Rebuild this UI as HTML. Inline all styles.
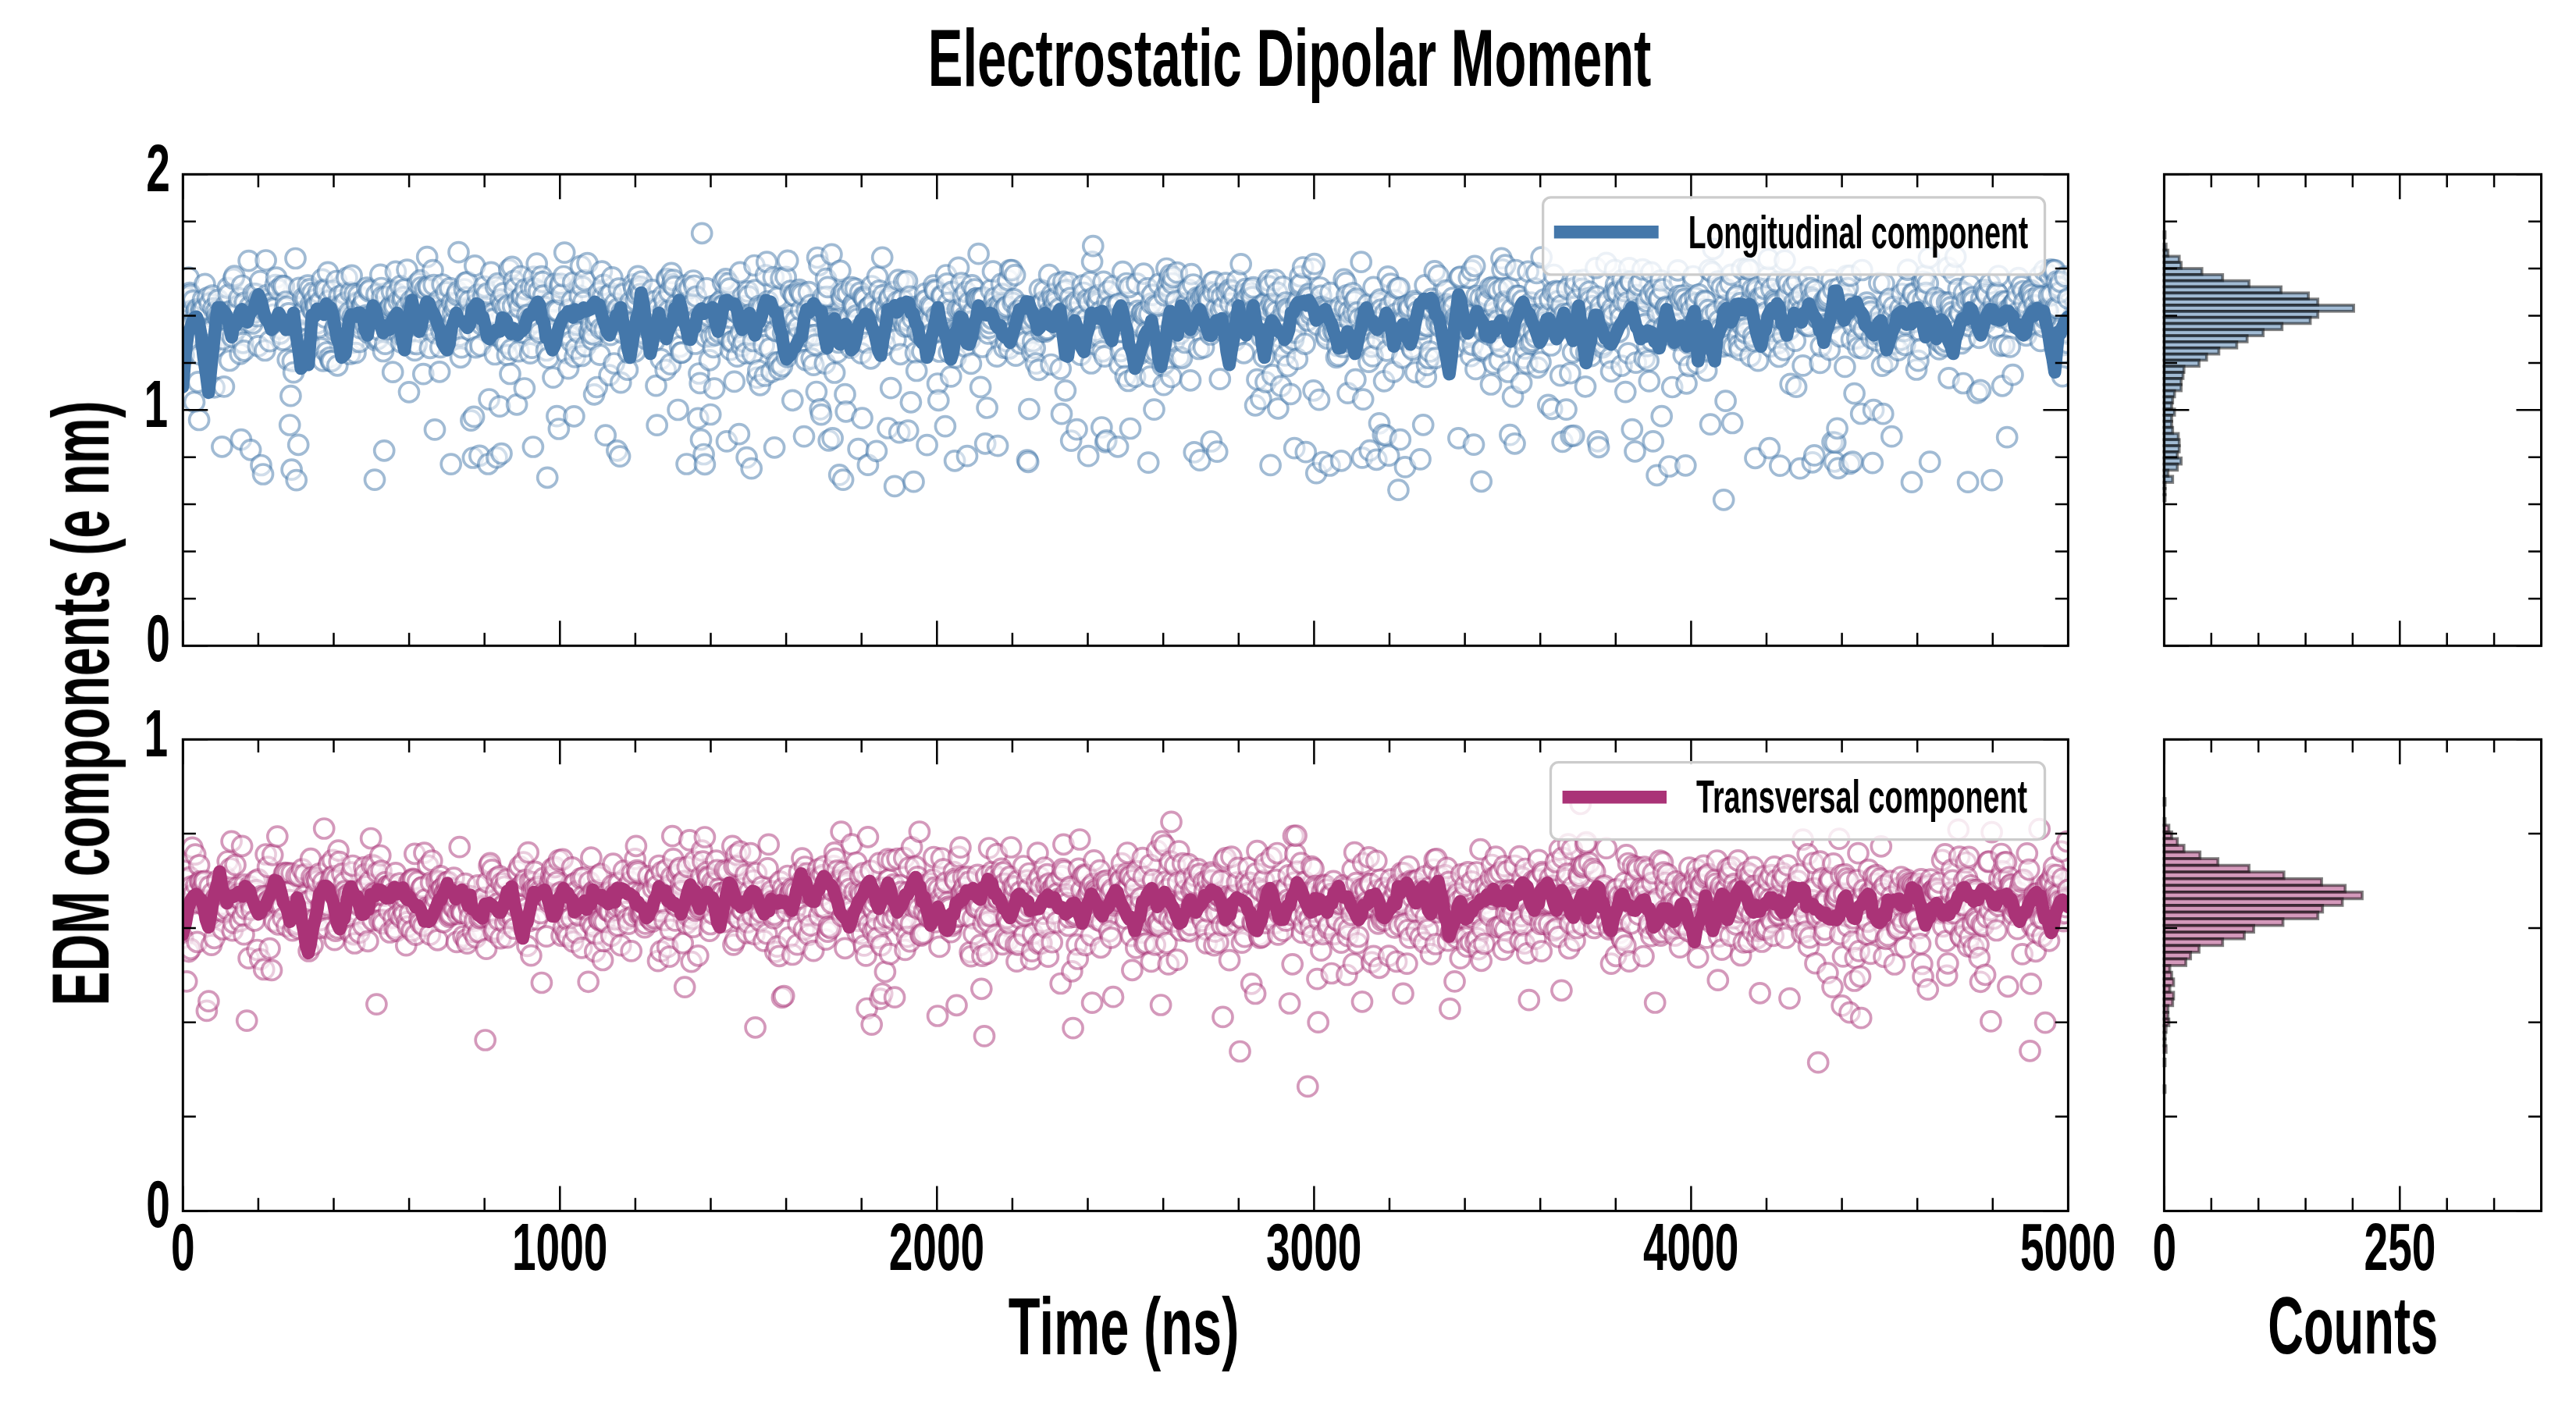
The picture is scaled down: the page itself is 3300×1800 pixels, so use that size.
<!DOCTYPE html>
<html><head><meta charset="utf-8"><title>Electrostatic Dipolar Moment</title>
<style>
html,body{margin:0;padding:0;background:#fff;overflow:hidden}
svg{display:block}
.sc circle{r:12.5px;fill:#fff;fill-opacity:.5;stroke-width:3.7px;stroke-opacity:.5}
.hi rect{fill-opacity:.5;stroke:#000;stroke-opacity:.5;stroke-width:3.7px}
text{font-family:"Liberation Sans",sans-serif;font-weight:bold}
</style></head><body>
<svg width="3300" height="1800" viewBox="0 0 3300 1800">
<rect width="3300" height="1800" fill="#fff"/>
<defs><clipPath id="ct"><rect x="234.3" y="223.3" width="2415.1" height="604.0"/></clipPath>
<clipPath id="cb"><rect x="234.3" y="947.3" width="2415.1" height="604.1000000000001"/></clipPath></defs>
<g clip-path="url(#ct)">
<g class="sc" stroke="#4477AA"><circle cx="234.3" cy="395.5" r="12.5"/><circle cx="235.5" cy="455.5" r="12.5"/><circle cx="236.7" cy="377.9" r="12.5"/><circle cx="238" cy="410.2" r="12.5"/><circle cx="239.2" cy="381.2" r="12.5"/><circle cx="240.4" cy="386.3" r="12.5"/><circle cx="241.6" cy="355.6" r="12.5"/><circle cx="242.9" cy="375" r="12.5"/><circle cx="244.1" cy="377.7" r="12.5"/><circle cx="245.3" cy="435" r="12.5"/><circle cx="246.5" cy="397.9" r="12.5"/><circle cx="247.7" cy="385.1" r="12.5"/><circle cx="249" cy="514.9" r="12.5"/><circle cx="250.2" cy="408.3" r="12.5"/><circle cx="251.4" cy="399.5" r="12.5"/><circle cx="252.6" cy="396.1" r="12.5"/><circle cx="253.9" cy="489.3" r="12.5"/><circle cx="255.1" cy="538" r="12.5"/><circle cx="256.3" cy="454.1" r="12.5"/><circle cx="257.5" cy="396.4" r="12.5"/><circle cx="258.7" cy="398" r="12.5"/><circle cx="260" cy="384" r="12.5"/><circle cx="261.2" cy="396.1" r="12.5"/><circle cx="262.4" cy="363.9" r="12.5"/><circle cx="263.6" cy="440" r="12.5"/><circle cx="264.9" cy="429.5" r="12.5"/><circle cx="266.1" cy="381.4" r="12.5"/><circle cx="267.3" cy="426.5" r="12.5"/><circle cx="268.5" cy="388.8" r="12.5"/><circle cx="269.7" cy="424" r="12.5"/><circle cx="271" cy="441.4" r="12.5"/><circle cx="272.2" cy="378.6" r="12.5"/><circle cx="273.4" cy="395.1" r="12.5"/><circle cx="274.6" cy="496.4" r="12.5"/><circle cx="275.9" cy="444.1" r="12.5"/><circle cx="277.1" cy="398.5" r="12.5"/><circle cx="278.3" cy="405.2" r="12.5"/><circle cx="279.5" cy="384.1" r="12.5"/><circle cx="280.7" cy="409" r="12.5"/><circle cx="282" cy="406" r="12.5"/><circle cx="283.2" cy="408.2" r="12.5"/><circle cx="284.4" cy="572.3" r="12.5"/><circle cx="285.6" cy="434.7" r="12.5"/><circle cx="286.9" cy="495.4" r="12.5"/><circle cx="288.1" cy="404.8" r="12.5"/><circle cx="289.3" cy="391.6" r="12.5"/><circle cx="290.5" cy="400.2" r="12.5"/><circle cx="291.7" cy="368.8" r="12.5"/><circle cx="293" cy="377.5" r="12.5"/><circle cx="294.2" cy="462" r="12.5"/><circle cx="295.4" cy="398.5" r="12.5"/><circle cx="296.6" cy="403.5" r="12.5"/><circle cx="297.9" cy="431.7" r="12.5"/><circle cx="299.1" cy="357.1" r="12.5"/><circle cx="300.3" cy="353.7" r="12.5"/><circle cx="301.5" cy="403" r="12.5"/><circle cx="302.7" cy="422.3" r="12.5"/><circle cx="304" cy="402.4" r="12.5"/><circle cx="305.2" cy="392" r="12.5"/><circle cx="306.4" cy="382.2" r="12.5"/><circle cx="307.6" cy="453.3" r="12.5"/><circle cx="308.9" cy="563.1" r="12.5"/><circle cx="310.1" cy="366" r="12.5"/><circle cx="311.3" cy="439.3" r="12.5"/><circle cx="312.5" cy="449.3" r="12.5"/><circle cx="313.7" cy="387.5" r="12.5"/><circle cx="315" cy="401.6" r="12.5"/><circle cx="316.2" cy="409.8" r="12.5"/><circle cx="317.4" cy="412.7" r="12.5"/><circle cx="318.6" cy="334.1" r="12.5"/><circle cx="319.9" cy="392.7" r="12.5"/><circle cx="321.1" cy="576.3" r="12.5"/><circle cx="322.3" cy="402.1" r="12.5"/><circle cx="323.5" cy="414.5" r="12.5"/><circle cx="324.7" cy="376.1" r="12.5"/><circle cx="326" cy="395.9" r="12.5"/><circle cx="327.2" cy="399.9" r="12.5"/><circle cx="328.4" cy="376.6" r="12.5"/><circle cx="329.6" cy="405.1" r="12.5"/><circle cx="330.9" cy="443.4" r="12.5"/><circle cx="332.1" cy="383.3" r="12.5"/><circle cx="333.3" cy="360.1" r="12.5"/><circle cx="334.5" cy="596" r="12.5"/><circle cx="335.7" cy="383.2" r="12.5"/><circle cx="337" cy="607.5" r="12.5"/><circle cx="338.2" cy="396.9" r="12.5"/><circle cx="339.4" cy="449" r="12.5"/><circle cx="340.6" cy="333.5" r="12.5"/><circle cx="341.9" cy="378.1" r="12.5"/><circle cx="343.1" cy="392.3" r="12.5"/><circle cx="344.3" cy="404" r="12.5"/><circle cx="345.5" cy="437.1" r="12.5"/><circle cx="346.7" cy="389.7" r="12.5"/><circle cx="348" cy="388" r="12.5"/><circle cx="349.2" cy="394.1" r="12.5"/><circle cx="350.4" cy="403" r="12.5"/><circle cx="351.6" cy="395.3" r="12.5"/><circle cx="352.9" cy="365.1" r="12.5"/><circle cx="354.1" cy="355.6" r="12.5"/><circle cx="355.3" cy="418.3" r="12.5"/><circle cx="356.5" cy="370.9" r="12.5"/><circle cx="357.7" cy="421" r="12.5"/><circle cx="359" cy="427.3" r="12.5"/><circle cx="360.2" cy="408.3" r="12.5"/><circle cx="361.4" cy="366.2" r="12.5"/><circle cx="362.6" cy="435.5" r="12.5"/><circle cx="363.9" cy="366.7" r="12.5"/><circle cx="365.1" cy="394.6" r="12.5"/><circle cx="366.3" cy="386.5" r="12.5"/><circle cx="367.5" cy="393" r="12.5"/><circle cx="368.7" cy="460.8" r="12.5"/><circle cx="370" cy="401.4" r="12.5"/><circle cx="371.2" cy="544.5" r="12.5"/><circle cx="372.4" cy="507.2" r="12.5"/><circle cx="373.6" cy="601.7" r="12.5"/><circle cx="374.9" cy="462.7" r="12.5"/><circle cx="376.1" cy="477.1" r="12.5"/><circle cx="377.3" cy="416.2" r="12.5"/><circle cx="378.5" cy="331" r="12.5"/><circle cx="379.7" cy="615.1" r="12.5"/><circle cx="381" cy="414.7" r="12.5"/><circle cx="382.2" cy="569.8" r="12.5"/><circle cx="383.4" cy="368.8" r="12.5"/><circle cx="384.6" cy="424.1" r="12.5"/><circle cx="385.9" cy="402.7" r="12.5"/><circle cx="387.1" cy="427.4" r="12.5"/><circle cx="388.3" cy="382.2" r="12.5"/><circle cx="389.5" cy="398.9" r="12.5"/><circle cx="390.7" cy="409.7" r="12.5"/><circle cx="392" cy="382.6" r="12.5"/><circle cx="393.2" cy="434.6" r="12.5"/><circle cx="394.4" cy="365.6" r="12.5"/><circle cx="395.6" cy="439.3" r="12.5"/><circle cx="396.9" cy="370.3" r="12.5"/><circle cx="398.1" cy="390.2" r="12.5"/><circle cx="399.3" cy="395.4" r="12.5"/><circle cx="400.5" cy="375.1" r="12.5"/><circle cx="401.7" cy="398.9" r="12.5"/><circle cx="403" cy="383.6" r="12.5"/><circle cx="404.2" cy="391.5" r="12.5"/><circle cx="405.4" cy="392.1" r="12.5"/><circle cx="406.6" cy="414.3" r="12.5"/><circle cx="407.9" cy="374.7" r="12.5"/><circle cx="409.1" cy="419.2" r="12.5"/><circle cx="410.3" cy="386.7" r="12.5"/><circle cx="411.5" cy="446.1" r="12.5"/><circle cx="412.7" cy="357.9" r="12.5"/><circle cx="414" cy="462.3" r="12.5"/><circle cx="415.2" cy="370.8" r="12.5"/><circle cx="416.4" cy="406.7" r="12.5"/><circle cx="417.6" cy="371.5" r="12.5"/><circle cx="418.9" cy="451.4" r="12.5"/><circle cx="420.1" cy="348.9" r="12.5"/><circle cx="421.3" cy="385.2" r="12.5"/><circle cx="422.5" cy="458" r="12.5"/><circle cx="423.7" cy="462.6" r="12.5"/><circle cx="425" cy="462.7" r="12.5"/><circle cx="426.2" cy="372.8" r="12.5"/><circle cx="427.4" cy="392.9" r="12.5"/><circle cx="428.6" cy="423.1" r="12.5"/><circle cx="429.9" cy="419.1" r="12.5"/><circle cx="431.1" cy="360" r="12.5"/><circle cx="432.3" cy="468.3" r="12.5"/><circle cx="433.5" cy="414.5" r="12.5"/><circle cx="434.7" cy="379.5" r="12.5"/><circle cx="436" cy="393.9" r="12.5"/><circle cx="437.2" cy="390.8" r="12.5"/><circle cx="438.4" cy="434.5" r="12.5"/><circle cx="439.6" cy="417.8" r="12.5"/><circle cx="440.9" cy="375.8" r="12.5"/><circle cx="442.1" cy="387.6" r="12.5"/><circle cx="443.3" cy="418.4" r="12.5"/><circle cx="444.5" cy="355.9" r="12.5"/><circle cx="445.7" cy="405.9" r="12.5"/><circle cx="447" cy="400.6" r="12.5"/><circle cx="448.2" cy="453.5" r="12.5"/><circle cx="449.4" cy="374.9" r="12.5"/><circle cx="450.6" cy="352.8" r="12.5"/><circle cx="451.9" cy="405.6" r="12.5"/><circle cx="453.1" cy="438.7" r="12.5"/><circle cx="454.3" cy="376.5" r="12.5"/><circle cx="455.5" cy="452.1" r="12.5"/><circle cx="456.7" cy="387.9" r="12.5"/><circle cx="458" cy="389" r="12.5"/><circle cx="459.2" cy="378.6" r="12.5"/><circle cx="460.4" cy="438" r="12.5"/><circle cx="461.6" cy="420.4" r="12.5"/><circle cx="462.9" cy="392.4" r="12.5"/><circle cx="464.1" cy="391.6" r="12.5"/><circle cx="465.3" cy="390" r="12.5"/><circle cx="466.5" cy="382.5" r="12.5"/><circle cx="467.7" cy="415" r="12.5"/><circle cx="469" cy="404.2" r="12.5"/><circle cx="470.2" cy="368.5" r="12.5"/><circle cx="471.4" cy="426.2" r="12.5"/><circle cx="472.6" cy="373.1" r="12.5"/><circle cx="473.9" cy="371.3" r="12.5"/><circle cx="475.1" cy="404.8" r="12.5"/><circle cx="476.3" cy="412.6" r="12.5"/><circle cx="477.5" cy="414.3" r="12.5"/><circle cx="478.7" cy="420.8" r="12.5"/><circle cx="480" cy="614.6" r="12.5"/><circle cx="481.2" cy="435.9" r="12.5"/><circle cx="482.4" cy="377.2" r="12.5"/><circle cx="483.6" cy="433.8" r="12.5"/><circle cx="484.9" cy="433.9" r="12.5"/><circle cx="486.1" cy="423" r="12.5"/><circle cx="487.3" cy="351.9" r="12.5"/><circle cx="488.5" cy="369" r="12.5"/><circle cx="489.7" cy="380.4" r="12.5"/><circle cx="491" cy="450" r="12.5"/><circle cx="492.2" cy="577.3" r="12.5"/><circle cx="493.4" cy="440.6" r="12.5"/><circle cx="494.6" cy="380" r="12.5"/><circle cx="495.9" cy="421.9" r="12.5"/><circle cx="497.1" cy="413.4" r="12.5"/><circle cx="498.3" cy="396.6" r="12.5"/><circle cx="499.5" cy="394.7" r="12.5"/><circle cx="500.7" cy="392.2" r="12.5"/><circle cx="502" cy="373.3" r="12.5"/><circle cx="503.2" cy="476.7" r="12.5"/><circle cx="504.4" cy="395.1" r="12.5"/><circle cx="505.6" cy="391.5" r="12.5"/><circle cx="506.9" cy="347.9" r="12.5"/><circle cx="508.1" cy="375.9" r="12.5"/><circle cx="509.3" cy="408.8" r="12.5"/><circle cx="510.5" cy="385.5" r="12.5"/><circle cx="511.7" cy="428.6" r="12.5"/><circle cx="513" cy="366.4" r="12.5"/><circle cx="514.2" cy="438.8" r="12.5"/><circle cx="515.4" cy="385" r="12.5"/><circle cx="516.6" cy="380.7" r="12.5"/><circle cx="517.9" cy="371" r="12.5"/><circle cx="519.1" cy="432.7" r="12.5"/><circle cx="520.3" cy="394" r="12.5"/><circle cx="521.5" cy="345.6" r="12.5"/><circle cx="522.7" cy="413.7" r="12.5"/><circle cx="524" cy="502.3" r="12.5"/><circle cx="525.2" cy="414.8" r="12.5"/><circle cx="526.4" cy="385.5" r="12.5"/><circle cx="527.6" cy="440.4" r="12.5"/><circle cx="528.9" cy="396.5" r="12.5"/><circle cx="530.1" cy="388.9" r="12.5"/><circle cx="531.3" cy="448.9" r="12.5"/><circle cx="532.5" cy="378.9" r="12.5"/><circle cx="533.7" cy="440.9" r="12.5"/><circle cx="535" cy="363" r="12.5"/><circle cx="536.2" cy="392.6" r="12.5"/><circle cx="537.4" cy="385.1" r="12.5"/><circle cx="538.6" cy="359.2" r="12.5"/><circle cx="539.9" cy="368" r="12.5"/><circle cx="541.1" cy="412.5" r="12.5"/><circle cx="542.3" cy="479.2" r="12.5"/><circle cx="543.5" cy="386.2" r="12.5"/><circle cx="544.7" cy="370.4" r="12.5"/><circle cx="546" cy="417.3" r="12.5"/><circle cx="547.2" cy="329.1" r="12.5"/><circle cx="548.4" cy="366.5" r="12.5"/><circle cx="549.6" cy="368.3" r="12.5"/><circle cx="550.9" cy="445.8" r="12.5"/><circle cx="552.1" cy="392.2" r="12.5"/><circle cx="553.3" cy="409.6" r="12.5"/><circle cx="554.5" cy="346.2" r="12.5"/><circle cx="555.7" cy="365.1" r="12.5"/><circle cx="557" cy="550.4" r="12.5"/><circle cx="558.2" cy="427.2" r="12.5"/><circle cx="559.4" cy="403" r="12.5"/><circle cx="560.6" cy="399" r="12.5"/><circle cx="561.9" cy="385.1" r="12.5"/><circle cx="563.1" cy="476.3" r="12.5"/><circle cx="564.3" cy="444.9" r="12.5"/><circle cx="565.5" cy="423.7" r="12.5"/><circle cx="566.7" cy="364.5" r="12.5"/><circle cx="568" cy="418" r="12.5"/><circle cx="569.2" cy="396" r="12.5"/><circle cx="570.4" cy="409.9" r="12.5"/><circle cx="571.6" cy="374.3" r="12.5"/><circle cx="572.9" cy="397.5" r="12.5"/><circle cx="574.1" cy="399.7" r="12.5"/><circle cx="575.3" cy="433.3" r="12.5"/><circle cx="576.5" cy="369.2" r="12.5"/><circle cx="577.7" cy="594.6" r="12.5"/><circle cx="579" cy="388" r="12.5"/><circle cx="580.2" cy="402.4" r="12.5"/><circle cx="581.4" cy="412.2" r="12.5"/><circle cx="582.6" cy="394.5" r="12.5"/><circle cx="583.9" cy="389.1" r="12.5"/><circle cx="585.1" cy="377.6" r="12.5"/><circle cx="586.3" cy="373.8" r="12.5"/><circle cx="587.5" cy="323.1" r="12.5"/><circle cx="588.7" cy="430.2" r="12.5"/><circle cx="590" cy="457.8" r="12.5"/><circle cx="591.2" cy="445.1" r="12.5"/><circle cx="592.4" cy="402.9" r="12.5"/><circle cx="593.6" cy="400.3" r="12.5"/><circle cx="594.9" cy="370.5" r="12.5"/><circle cx="596.1" cy="362.3" r="12.5"/><circle cx="597.3" cy="381" r="12.5"/><circle cx="598.5" cy="361.3" r="12.5"/><circle cx="599.7" cy="402.5" r="12.5"/><circle cx="601" cy="385.8" r="12.5"/><circle cx="602.2" cy="423.1" r="12.5"/><circle cx="603.4" cy="538.6" r="12.5"/><circle cx="604.6" cy="401.9" r="12.5"/><circle cx="605.9" cy="586.5" r="12.5"/><circle cx="607.1" cy="533.9" r="12.5"/><circle cx="608.3" cy="340.4" r="12.5"/><circle cx="609.5" cy="445.2" r="12.5"/><circle cx="610.7" cy="389.6" r="12.5"/><circle cx="612" cy="377.6" r="12.5"/><circle cx="613.2" cy="393.9" r="12.5"/><circle cx="614.4" cy="583.9" r="12.5"/><circle cx="615.6" cy="442.9" r="12.5"/><circle cx="616.9" cy="415.7" r="12.5"/><circle cx="618.1" cy="402.6" r="12.5"/><circle cx="619.3" cy="380.5" r="12.5"/><circle cx="620.5" cy="367" r="12.5"/><circle cx="621.7" cy="394.2" r="12.5"/><circle cx="623" cy="415.5" r="12.5"/><circle cx="624.2" cy="375.8" r="12.5"/><circle cx="625.4" cy="594.5" r="12.5"/><circle cx="626.6" cy="511.5" r="12.5"/><circle cx="627.9" cy="408.8" r="12.5"/><circle cx="629.1" cy="348.9" r="12.5"/><circle cx="630.3" cy="428.3" r="12.5"/><circle cx="631.5" cy="401.7" r="12.5"/><circle cx="632.7" cy="408.7" r="12.5"/><circle cx="634" cy="454" r="12.5"/><circle cx="635.2" cy="367.5" r="12.5"/><circle cx="636.4" cy="586.2" r="12.5"/><circle cx="637.6" cy="363.1" r="12.5"/><circle cx="638.9" cy="431" r="12.5"/><circle cx="640.1" cy="520.6" r="12.5"/><circle cx="641.3" cy="383.6" r="12.5"/><circle cx="642.5" cy="581.1" r="12.5"/><circle cx="643.7" cy="390.9" r="12.5"/><circle cx="645" cy="375.6" r="12.5"/><circle cx="646.2" cy="439.2" r="12.5"/><circle cx="647.4" cy="394.1" r="12.5"/><circle cx="648.6" cy="440.5" r="12.5"/><circle cx="649.9" cy="454.8" r="12.5"/><circle cx="651.1" cy="391.2" r="12.5"/><circle cx="652.3" cy="345.4" r="12.5"/><circle cx="653.5" cy="479" r="12.5"/><circle cx="654.7" cy="447.9" r="12.5"/><circle cx="656" cy="341.8" r="12.5"/><circle cx="657.2" cy="392" r="12.5"/><circle cx="658.4" cy="359.8" r="12.5"/><circle cx="659.6" cy="369.9" r="12.5"/><circle cx="660.9" cy="409.7" r="12.5"/><circle cx="662.1" cy="518.3" r="12.5"/><circle cx="663.3" cy="384.8" r="12.5"/><circle cx="664.5" cy="450.1" r="12.5"/><circle cx="665.7" cy="394" r="12.5"/><circle cx="667" cy="354" r="12.5"/><circle cx="668.2" cy="381" r="12.5"/><circle cx="669.4" cy="378.9" r="12.5"/><circle cx="670.6" cy="426.2" r="12.5"/><circle cx="671.9" cy="497.5" r="12.5"/><circle cx="673.1" cy="370.5" r="12.5"/><circle cx="674.3" cy="384.5" r="12.5"/><circle cx="675.5" cy="403.6" r="12.5"/><circle cx="676.7" cy="418.6" r="12.5"/><circle cx="678" cy="409.5" r="12.5"/><circle cx="679.2" cy="452.7" r="12.5"/><circle cx="680.4" cy="368.4" r="12.5"/><circle cx="681.6" cy="445.6" r="12.5"/><circle cx="682.9" cy="572.5" r="12.5"/><circle cx="684.1" cy="354.7" r="12.5"/><circle cx="685.3" cy="369.8" r="12.5"/><circle cx="686.5" cy="412.8" r="12.5"/><circle cx="687.7" cy="337.7" r="12.5"/><circle cx="689" cy="421.2" r="12.5"/><circle cx="690.2" cy="373.3" r="12.5"/><circle cx="691.4" cy="426.4" r="12.5"/><circle cx="692.6" cy="395.6" r="12.5"/><circle cx="693.9" cy="354.1" r="12.5"/><circle cx="695.1" cy="361.2" r="12.5"/><circle cx="696.3" cy="378.7" r="12.5"/><circle cx="697.5" cy="393.1" r="12.5"/><circle cx="698.7" cy="402.5" r="12.5"/><circle cx="700" cy="449" r="12.5"/><circle cx="701.2" cy="611.8" r="12.5"/><circle cx="702.4" cy="458.4" r="12.5"/><circle cx="703.6" cy="416.1" r="12.5"/><circle cx="704.9" cy="401.8" r="12.5"/><circle cx="706.1" cy="387.4" r="12.5"/><circle cx="707.3" cy="410.4" r="12.5"/><circle cx="708.5" cy="483.6" r="12.5"/><circle cx="709.7" cy="398" r="12.5"/><circle cx="711" cy="363.6" r="12.5"/><circle cx="712.2" cy="397.6" r="12.5"/><circle cx="713.4" cy="533.1" r="12.5"/><circle cx="714.6" cy="398.4" r="12.5"/><circle cx="715.9" cy="549.5" r="12.5"/><circle cx="717.1" cy="368.2" r="12.5"/><circle cx="718.3" cy="363.5" r="12.5"/><circle cx="719.5" cy="377.3" r="12.5"/><circle cx="720.7" cy="429.2" r="12.5"/><circle cx="722" cy="354" r="12.5"/><circle cx="723.2" cy="323.6" r="12.5"/><circle cx="724.4" cy="414.5" r="12.5"/><circle cx="725.6" cy="452.3" r="12.5"/><circle cx="726.9" cy="418.9" r="12.5"/><circle cx="728.1" cy="472.1" r="12.5"/><circle cx="729.3" cy="396.7" r="12.5"/><circle cx="730.5" cy="430.7" r="12.5"/><circle cx="731.7" cy="437.6" r="12.5"/><circle cx="733" cy="385.4" r="12.5"/><circle cx="734.2" cy="362" r="12.5"/><circle cx="735.4" cy="533.3" r="12.5"/><circle cx="736.6" cy="457.4" r="12.5"/><circle cx="737.9" cy="446.6" r="12.5"/><circle cx="739.1" cy="416.4" r="12.5"/><circle cx="740.3" cy="399.7" r="12.5"/><circle cx="741.5" cy="426.1" r="12.5"/><circle cx="742.7" cy="378.9" r="12.5"/><circle cx="744" cy="340.9" r="12.5"/><circle cx="745.2" cy="456" r="12.5"/><circle cx="746.4" cy="367.7" r="12.5"/><circle cx="747.6" cy="386.7" r="12.5"/><circle cx="748.9" cy="359" r="12.5"/><circle cx="750.1" cy="443.7" r="12.5"/><circle cx="751.3" cy="403.1" r="12.5"/><circle cx="752.5" cy="337.2" r="12.5"/><circle cx="753.7" cy="403.1" r="12.5"/><circle cx="755" cy="424.3" r="12.5"/><circle cx="756.2" cy="427.2" r="12.5"/><circle cx="757.4" cy="416.3" r="12.5"/><circle cx="758.6" cy="434.7" r="12.5"/><circle cx="759.9" cy="428.4" r="12.5"/><circle cx="761.1" cy="505.3" r="12.5"/><circle cx="762.3" cy="403.6" r="12.5"/><circle cx="763.5" cy="413.5" r="12.5"/><circle cx="764.7" cy="496" r="12.5"/><circle cx="766" cy="406.9" r="12.5"/><circle cx="767.2" cy="374.9" r="12.5"/><circle cx="768.4" cy="454.6" r="12.5"/><circle cx="769.6" cy="421.2" r="12.5"/><circle cx="770.9" cy="347.7" r="12.5"/><circle cx="772.1" cy="380.5" r="12.5"/><circle cx="773.3" cy="364.8" r="12.5"/><circle cx="774.5" cy="422.2" r="12.5"/><circle cx="775.7" cy="557.7" r="12.5"/><circle cx="777" cy="399.5" r="12.5"/><circle cx="778.2" cy="405.9" r="12.5"/><circle cx="779.4" cy="378.6" r="12.5"/><circle cx="780.6" cy="480.6" r="12.5"/><circle cx="781.9" cy="429.1" r="12.5"/><circle cx="783.1" cy="375.8" r="12.5"/><circle cx="784.3" cy="355.3" r="12.5"/><circle cx="785.5" cy="410.3" r="12.5"/><circle cx="786.7" cy="465.5" r="12.5"/><circle cx="788" cy="388.9" r="12.5"/><circle cx="789.2" cy="415" r="12.5"/><circle cx="790.4" cy="577.3" r="12.5"/><circle cx="791.6" cy="395.5" r="12.5"/><circle cx="792.9" cy="369.7" r="12.5"/><circle cx="794.1" cy="584.6" r="12.5"/><circle cx="795.3" cy="490.1" r="12.5"/><circle cx="796.5" cy="400.1" r="12.5"/><circle cx="797.7" cy="426.5" r="12.5"/><circle cx="799" cy="376.6" r="12.5"/><circle cx="800.2" cy="414.3" r="12.5"/><circle cx="801.4" cy="410.4" r="12.5"/><circle cx="802.6" cy="415" r="12.5"/><circle cx="803.9" cy="473.7" r="12.5"/><circle cx="805.1" cy="451.8" r="12.5"/><circle cx="806.3" cy="393.5" r="12.5"/><circle cx="807.5" cy="387.1" r="12.5"/><circle cx="808.7" cy="413.9" r="12.5"/><circle cx="810" cy="445.4" r="12.5"/><circle cx="811.2" cy="364.4" r="12.5"/><circle cx="812.4" cy="370.1" r="12.5"/><circle cx="813.6" cy="450.4" r="12.5"/><circle cx="814.9" cy="385.4" r="12.5"/><circle cx="816.1" cy="376.9" r="12.5"/><circle cx="817.3" cy="353.8" r="12.5"/><circle cx="818.5" cy="371.3" r="12.5"/><circle cx="819.7" cy="367.2" r="12.5"/><circle cx="821" cy="376.5" r="12.5"/><circle cx="822.2" cy="360.5" r="12.5"/><circle cx="823.4" cy="426.5" r="12.5"/><circle cx="824.6" cy="415.7" r="12.5"/><circle cx="825.9" cy="406.1" r="12.5"/><circle cx="827.1" cy="434.2" r="12.5"/><circle cx="828.3" cy="391.6" r="12.5"/><circle cx="829.5" cy="417.4" r="12.5"/><circle cx="830.7" cy="422.4" r="12.5"/><circle cx="832" cy="420.7" r="12.5"/><circle cx="833.2" cy="386.2" r="12.5"/><circle cx="834.4" cy="405.4" r="12.5"/><circle cx="835.6" cy="371.3" r="12.5"/><circle cx="836.9" cy="406.1" r="12.5"/><circle cx="838.1" cy="436.9" r="12.5"/><circle cx="839.3" cy="385.9" r="12.5"/><circle cx="840.5" cy="494.1" r="12.5"/><circle cx="841.7" cy="544.7" r="12.5"/><circle cx="843" cy="395.3" r="12.5"/><circle cx="844.2" cy="423.1" r="12.5"/><circle cx="845.4" cy="424.1" r="12.5"/><circle cx="846.6" cy="460.1" r="12.5"/><circle cx="847.9" cy="411.4" r="12.5"/><circle cx="849.1" cy="379.1" r="12.5"/><circle cx="850.3" cy="397.6" r="12.5"/><circle cx="851.5" cy="385.6" r="12.5"/><circle cx="852.7" cy="473.9" r="12.5"/><circle cx="854" cy="357.2" r="12.5"/><circle cx="855.2" cy="357.8" r="12.5"/><circle cx="856.4" cy="398.6" r="12.5"/><circle cx="857.6" cy="373.9" r="12.5"/><circle cx="858.9" cy="466.7" r="12.5"/><circle cx="860.1" cy="349.9" r="12.5"/><circle cx="861.3" cy="364.3" r="12.5"/><circle cx="862.5" cy="358.6" r="12.5"/><circle cx="863.7" cy="367.3" r="12.5"/><circle cx="865" cy="396.5" r="12.5"/><circle cx="866.2" cy="390.3" r="12.5"/><circle cx="867.4" cy="410" r="12.5"/><circle cx="868.6" cy="525" r="12.5"/><circle cx="869.9" cy="395.6" r="12.5"/><circle cx="871.1" cy="444" r="12.5"/><circle cx="872.3" cy="451.9" r="12.5"/><circle cx="873.5" cy="451.7" r="12.5"/><circle cx="874.7" cy="375.8" r="12.5"/><circle cx="876" cy="378.1" r="12.5"/><circle cx="877.2" cy="421.1" r="12.5"/><circle cx="878.4" cy="365.6" r="12.5"/><circle cx="879.6" cy="594.5" r="12.5"/><circle cx="880.9" cy="387.4" r="12.5"/><circle cx="882.1" cy="407.5" r="12.5"/><circle cx="883.3" cy="369.1" r="12.5"/><circle cx="884.5" cy="415.7" r="12.5"/><circle cx="885.7" cy="421.4" r="12.5"/><circle cx="887" cy="390.2" r="12.5"/><circle cx="888.2" cy="359.5" r="12.5"/><circle cx="889.4" cy="366" r="12.5"/><circle cx="890.6" cy="440.5" r="12.5"/><circle cx="891.9" cy="379.9" r="12.5"/><circle cx="893.1" cy="408.4" r="12.5"/><circle cx="894.3" cy="535.9" r="12.5"/><circle cx="895.5" cy="478.5" r="12.5"/><circle cx="896.7" cy="490.9" r="12.5"/><circle cx="898" cy="563.2" r="12.5"/><circle cx="899.2" cy="298.8" r="12.5"/><circle cx="900.4" cy="401.7" r="12.5"/><circle cx="901.6" cy="582" r="12.5"/><circle cx="902.9" cy="594.8" r="12.5"/><circle cx="904.1" cy="431.4" r="12.5"/><circle cx="905.3" cy="369.4" r="12.5"/><circle cx="906.5" cy="412.9" r="12.5"/><circle cx="907.7" cy="404.6" r="12.5"/><circle cx="909" cy="461.3" r="12.5"/><circle cx="910.2" cy="531" r="12.5"/><circle cx="911.4" cy="431.2" r="12.5"/><circle cx="912.6" cy="392.1" r="12.5"/><circle cx="913.9" cy="444.8" r="12.5"/><circle cx="915.1" cy="497.7" r="12.5"/><circle cx="916.3" cy="429.3" r="12.5"/><circle cx="917.5" cy="405.9" r="12.5"/><circle cx="918.7" cy="393.2" r="12.5"/><circle cx="920" cy="389.7" r="12.5"/><circle cx="921.2" cy="425.8" r="12.5"/><circle cx="922.4" cy="386.7" r="12.5"/><circle cx="923.6" cy="392.5" r="12.5"/><circle cx="924.9" cy="402.2" r="12.5"/><circle cx="926.1" cy="361.7" r="12.5"/><circle cx="927.3" cy="390.9" r="12.5"/><circle cx="928.5" cy="419.1" r="12.5"/><circle cx="929.7" cy="357.3" r="12.5"/><circle cx="931" cy="565.4" r="12.5"/><circle cx="932.2" cy="431.6" r="12.5"/><circle cx="933.4" cy="362.8" r="12.5"/><circle cx="934.6" cy="369.6" r="12.5"/><circle cx="935.9" cy="448.2" r="12.5"/><circle cx="937.1" cy="438.1" r="12.5"/><circle cx="938.3" cy="437.1" r="12.5"/><circle cx="939.5" cy="396.9" r="12.5"/><circle cx="940.7" cy="488.9" r="12.5"/><circle cx="942" cy="394.2" r="12.5"/><circle cx="943.2" cy="400" r="12.5"/><circle cx="944.4" cy="456.7" r="12.5"/><circle cx="945.6" cy="432.5" r="12.5"/><circle cx="946.9" cy="556.1" r="12.5"/><circle cx="948.1" cy="348.8" r="12.5"/><circle cx="949.3" cy="425.5" r="12.5"/><circle cx="950.5" cy="443.4" r="12.5"/><circle cx="951.7" cy="379.7" r="12.5"/><circle cx="953" cy="437.7" r="12.5"/><circle cx="954.2" cy="392" r="12.5"/><circle cx="955.4" cy="452.6" r="12.5"/><circle cx="956.6" cy="586.1" r="12.5"/><circle cx="957.9" cy="373.4" r="12.5"/><circle cx="959.1" cy="379.7" r="12.5"/><circle cx="960.3" cy="405.6" r="12.5"/><circle cx="961.5" cy="402.6" r="12.5"/><circle cx="962.7" cy="600.2" r="12.5"/><circle cx="964" cy="453.1" r="12.5"/><circle cx="965.2" cy="437" r="12.5"/><circle cx="966.4" cy="340" r="12.5"/><circle cx="967.6" cy="371.7" r="12.5"/><circle cx="968.9" cy="415" r="12.5"/><circle cx="970.1" cy="483.9" r="12.5"/><circle cx="971.3" cy="474.7" r="12.5"/><circle cx="972.5" cy="392.1" r="12.5"/><circle cx="973.7" cy="493.3" r="12.5"/><circle cx="975" cy="409" r="12.5"/><circle cx="976.2" cy="393.6" r="12.5"/><circle cx="977.4" cy="411" r="12.5"/><circle cx="978.6" cy="442.4" r="12.5"/><circle cx="979.9" cy="481.5" r="12.5"/><circle cx="981.1" cy="352.5" r="12.5"/><circle cx="982.3" cy="335.7" r="12.5"/><circle cx="983.5" cy="386" r="12.5"/><circle cx="984.7" cy="400.5" r="12.5"/><circle cx="986" cy="446.6" r="12.5"/><circle cx="987.2" cy="406.4" r="12.5"/><circle cx="988.4" cy="476.3" r="12.5"/><circle cx="989.6" cy="402.2" r="12.5"/><circle cx="990.9" cy="355.1" r="12.5"/><circle cx="992.1" cy="573.3" r="12.5"/><circle cx="993.3" cy="423.9" r="12.5"/><circle cx="994.5" cy="464.1" r="12.5"/><circle cx="995.7" cy="381.7" r="12.5"/><circle cx="997" cy="464.6" r="12.5"/><circle cx="998.2" cy="473.2" r="12.5"/><circle cx="999.4" cy="408.2" r="12.5"/><circle cx="1000.6" cy="356.7" r="12.5"/><circle cx="1001.9" cy="469" r="12.5"/><circle cx="1003.1" cy="426.6" r="12.5"/><circle cx="1004.3" cy="407.7" r="12.5"/><circle cx="1005.5" cy="413.6" r="12.5"/><circle cx="1006.7" cy="354.8" r="12.5"/><circle cx="1008" cy="457.2" r="12.5"/><circle cx="1009.2" cy="333.8" r="12.5"/><circle cx="1010.4" cy="411.1" r="12.5"/><circle cx="1011.6" cy="428.7" r="12.5"/><circle cx="1012.9" cy="372.5" r="12.5"/><circle cx="1014.1" cy="403.3" r="12.5"/><circle cx="1015.3" cy="512.8" r="12.5"/><circle cx="1016.5" cy="377.6" r="12.5"/><circle cx="1017.7" cy="378.6" r="12.5"/><circle cx="1019" cy="410.9" r="12.5"/><circle cx="1020.2" cy="432.7" r="12.5"/><circle cx="1021.4" cy="433.4" r="12.5"/><circle cx="1022.6" cy="419.6" r="12.5"/><circle cx="1023.9" cy="371.1" r="12.5"/><circle cx="1025.1" cy="375.1" r="12.5"/><circle cx="1026.3" cy="397.4" r="12.5"/><circle cx="1027.5" cy="377.2" r="12.5"/><circle cx="1028.7" cy="436.5" r="12.5"/><circle cx="1030" cy="559.1" r="12.5"/><circle cx="1031.2" cy="428.3" r="12.5"/><circle cx="1032.4" cy="461.3" r="12.5"/><circle cx="1033.6" cy="397.6" r="12.5"/><circle cx="1034.9" cy="431.4" r="12.5"/><circle cx="1036.1" cy="374.2" r="12.5"/><circle cx="1037.3" cy="411.1" r="12.5"/><circle cx="1038.5" cy="390.9" r="12.5"/><circle cx="1039.7" cy="459.3" r="12.5"/><circle cx="1041" cy="404.4" r="12.5"/><circle cx="1042.2" cy="467.6" r="12.5"/><circle cx="1043.4" cy="429.5" r="12.5"/><circle cx="1044.6" cy="441.6" r="12.5"/><circle cx="1045.9" cy="502" r="12.5"/><circle cx="1047.1" cy="330" r="12.5"/><circle cx="1048.3" cy="398.1" r="12.5"/><circle cx="1049.5" cy="339.8" r="12.5"/><circle cx="1050.7" cy="524.4" r="12.5"/><circle cx="1052" cy="531.1" r="12.5"/><circle cx="1053.2" cy="387" r="12.5"/><circle cx="1054.4" cy="380.9" r="12.5"/><circle cx="1055.6" cy="403.9" r="12.5"/><circle cx="1056.9" cy="465.5" r="12.5"/><circle cx="1058.1" cy="357.1" r="12.5"/><circle cx="1059.3" cy="380" r="12.5"/><circle cx="1060.5" cy="367.9" r="12.5"/><circle cx="1061.7" cy="564.4" r="12.5"/><circle cx="1063" cy="406.2" r="12.5"/><circle cx="1064.2" cy="408.6" r="12.5"/><circle cx="1065.4" cy="325.8" r="12.5"/><circle cx="1066.6" cy="561.4" r="12.5"/><circle cx="1067.9" cy="413.5" r="12.5"/><circle cx="1069.1" cy="477.5" r="12.5"/><circle cx="1070.3" cy="412.5" r="12.5"/><circle cx="1071.5" cy="409.2" r="12.5"/><circle cx="1072.7" cy="451.4" r="12.5"/><circle cx="1074" cy="438.9" r="12.5"/><circle cx="1075.2" cy="608.4" r="12.5"/><circle cx="1076.4" cy="346.8" r="12.5"/><circle cx="1077.6" cy="377.8" r="12.5"/><circle cx="1078.9" cy="382.4" r="12.5"/><circle cx="1080.1" cy="614.6" r="12.5"/><circle cx="1081.3" cy="373.8" r="12.5"/><circle cx="1082.5" cy="505.2" r="12.5"/><circle cx="1083.7" cy="527.3" r="12.5"/><circle cx="1085" cy="426.3" r="12.5"/><circle cx="1086.2" cy="376.3" r="12.5"/><circle cx="1087.4" cy="426.6" r="12.5"/><circle cx="1088.6" cy="406.5" r="12.5"/><circle cx="1089.9" cy="445.5" r="12.5"/><circle cx="1091.1" cy="368" r="12.5"/><circle cx="1092.3" cy="391.5" r="12.5"/><circle cx="1093.5" cy="389" r="12.5"/><circle cx="1094.7" cy="393.3" r="12.5"/><circle cx="1096" cy="369.9" r="12.5"/><circle cx="1097.2" cy="404.2" r="12.5"/><circle cx="1098.4" cy="408.5" r="12.5"/><circle cx="1099.6" cy="575.2" r="12.5"/><circle cx="1100.9" cy="421.5" r="12.5"/><circle cx="1102.1" cy="374.9" r="12.5"/><circle cx="1103.3" cy="452.7" r="12.5"/><circle cx="1104.5" cy="535.7" r="12.5"/><circle cx="1105.7" cy="380.3" r="12.5"/><circle cx="1107" cy="381" r="12.5"/><circle cx="1108.2" cy="383.1" r="12.5"/><circle cx="1109.4" cy="439.2" r="12.5"/><circle cx="1110.6" cy="395.6" r="12.5"/><circle cx="1111.9" cy="595.7" r="12.5"/><circle cx="1113.1" cy="393.8" r="12.5"/><circle cx="1114.3" cy="392.8" r="12.5"/><circle cx="1115.5" cy="459.3" r="12.5"/><circle cx="1116.7" cy="366.5" r="12.5"/><circle cx="1118" cy="411.5" r="12.5"/><circle cx="1119.2" cy="386.6" r="12.5"/><circle cx="1120.4" cy="409.7" r="12.5"/><circle cx="1121.6" cy="398.9" r="12.5"/><circle cx="1122.9" cy="577.8" r="12.5"/><circle cx="1124.1" cy="354.5" r="12.5"/><circle cx="1125.3" cy="420.9" r="12.5"/><circle cx="1126.5" cy="372.4" r="12.5"/><circle cx="1127.7" cy="393.9" r="12.5"/><circle cx="1129" cy="394.5" r="12.5"/><circle cx="1130.2" cy="329.8" r="12.5"/><circle cx="1131.4" cy="378.3" r="12.5"/><circle cx="1132.6" cy="430.6" r="12.5"/><circle cx="1133.9" cy="442" r="12.5"/><circle cx="1135.1" cy="395.1" r="12.5"/><circle cx="1136.3" cy="403.3" r="12.5"/><circle cx="1137.5" cy="548.5" r="12.5"/><circle cx="1138.7" cy="384.3" r="12.5"/><circle cx="1140" cy="380.9" r="12.5"/><circle cx="1141.2" cy="497.1" r="12.5"/><circle cx="1142.4" cy="396.7" r="12.5"/><circle cx="1143.6" cy="401.7" r="12.5"/><circle cx="1144.9" cy="373.9" r="12.5"/><circle cx="1146.1" cy="622.9" r="12.5"/><circle cx="1147.3" cy="435.2" r="12.5"/><circle cx="1148.5" cy="400.7" r="12.5"/><circle cx="1149.7" cy="386.6" r="12.5"/><circle cx="1151" cy="358.6" r="12.5"/><circle cx="1152.2" cy="554.1" r="12.5"/><circle cx="1153.4" cy="453.8" r="12.5"/><circle cx="1154.6" cy="410.7" r="12.5"/><circle cx="1155.9" cy="383.6" r="12.5"/><circle cx="1157.1" cy="411.6" r="12.5"/><circle cx="1158.3" cy="361.4" r="12.5"/><circle cx="1159.5" cy="418.3" r="12.5"/><circle cx="1160.7" cy="409.3" r="12.5"/><circle cx="1162" cy="360" r="12.5"/><circle cx="1163.2" cy="551.6" r="12.5"/><circle cx="1164.4" cy="418" r="12.5"/><circle cx="1165.6" cy="379.8" r="12.5"/><circle cx="1166.9" cy="515.3" r="12.5"/><circle cx="1168.1" cy="398.8" r="12.5"/><circle cx="1169.3" cy="408.2" r="12.5"/><circle cx="1170.5" cy="617.2" r="12.5"/><circle cx="1171.7" cy="393" r="12.5"/><circle cx="1173" cy="451.9" r="12.5"/><circle cx="1174.2" cy="475" r="12.5"/><circle cx="1175.4" cy="425.4" r="12.5"/><circle cx="1176.6" cy="402" r="12.5"/><circle cx="1177.9" cy="395.1" r="12.5"/><circle cx="1179.1" cy="428.1" r="12.5"/><circle cx="1180.3" cy="396.2" r="12.5"/><circle cx="1181.5" cy="450.3" r="12.5"/><circle cx="1182.7" cy="389.1" r="12.5"/><circle cx="1184" cy="385.5" r="12.5"/><circle cx="1185.2" cy="376.2" r="12.5"/><circle cx="1186.4" cy="384.8" r="12.5"/><circle cx="1187.6" cy="570.1" r="12.5"/><circle cx="1188.9" cy="407" r="12.5"/><circle cx="1190.1" cy="430.8" r="12.5"/><circle cx="1191.3" cy="391.6" r="12.5"/><circle cx="1192.5" cy="410.3" r="12.5"/><circle cx="1193.7" cy="393.7" r="12.5"/><circle cx="1195" cy="427" r="12.5"/><circle cx="1196.2" cy="365.6" r="12.5"/><circle cx="1197.4" cy="370.8" r="12.5"/><circle cx="1198.6" cy="372.5" r="12.5"/><circle cx="1199.9" cy="404.4" r="12.5"/><circle cx="1201.1" cy="491.5" r="12.5"/><circle cx="1202.3" cy="512.8" r="12.5"/><circle cx="1203.5" cy="450.5" r="12.5"/><circle cx="1204.7" cy="402.2" r="12.5"/><circle cx="1206" cy="378.9" r="12.5"/><circle cx="1207.2" cy="379.5" r="12.5"/><circle cx="1208.4" cy="401.1" r="12.5"/><circle cx="1209.6" cy="407.5" r="12.5"/><circle cx="1210.9" cy="546.1" r="12.5"/><circle cx="1212.1" cy="352.5" r="12.5"/><circle cx="1213.3" cy="363.3" r="12.5"/><circle cx="1214.5" cy="388.1" r="12.5"/><circle cx="1215.7" cy="451.3" r="12.5"/><circle cx="1217" cy="396.8" r="12.5"/><circle cx="1218.2" cy="482.4" r="12.5"/><circle cx="1219.4" cy="373.9" r="12.5"/><circle cx="1220.6" cy="435.1" r="12.5"/><circle cx="1221.9" cy="424.2" r="12.5"/><circle cx="1223.1" cy="590.3" r="12.5"/><circle cx="1224.3" cy="458" r="12.5"/><circle cx="1225.5" cy="426.1" r="12.5"/><circle cx="1226.7" cy="396.6" r="12.5"/><circle cx="1228" cy="342.8" r="12.5"/><circle cx="1229.2" cy="424.4" r="12.5"/><circle cx="1230.4" cy="397.5" r="12.5"/><circle cx="1231.6" cy="362.6" r="12.5"/><circle cx="1232.9" cy="396" r="12.5"/><circle cx="1234.1" cy="379.8" r="12.5"/><circle cx="1235.3" cy="406.3" r="12.5"/><circle cx="1236.5" cy="443.9" r="12.5"/><circle cx="1237.7" cy="374.1" r="12.5"/><circle cx="1239" cy="584.2" r="12.5"/><circle cx="1240.2" cy="406.7" r="12.5"/><circle cx="1241.4" cy="387.8" r="12.5"/><circle cx="1242.6" cy="434.5" r="12.5"/><circle cx="1243.9" cy="465.9" r="12.5"/><circle cx="1245.1" cy="365.4" r="12.5"/><circle cx="1246.3" cy="411.4" r="12.5"/><circle cx="1247.5" cy="398.6" r="12.5"/><circle cx="1248.7" cy="370.7" r="12.5"/><circle cx="1250" cy="382.7" r="12.5"/><circle cx="1251.2" cy="382" r="12.5"/><circle cx="1252.4" cy="384.3" r="12.5"/><circle cx="1253.6" cy="325.2" r="12.5"/><circle cx="1254.9" cy="382.9" r="12.5"/><circle cx="1256.1" cy="495.9" r="12.5"/><circle cx="1257.3" cy="384.1" r="12.5"/><circle cx="1258.5" cy="444.5" r="12.5"/><circle cx="1259.7" cy="381" r="12.5"/><circle cx="1261" cy="412.2" r="12.5"/><circle cx="1262.2" cy="568.3" r="12.5"/><circle cx="1263.4" cy="401.8" r="12.5"/><circle cx="1264.6" cy="522.5" r="12.5"/><circle cx="1265.9" cy="427.4" r="12.5"/><circle cx="1267.1" cy="420.1" r="12.5"/><circle cx="1268.3" cy="414.2" r="12.5"/><circle cx="1269.5" cy="371.5" r="12.5"/><circle cx="1270.7" cy="408.3" r="12.5"/><circle cx="1272" cy="347.7" r="12.5"/><circle cx="1273.2" cy="387.6" r="12.5"/><circle cx="1274.4" cy="381.7" r="12.5"/><circle cx="1275.6" cy="393.6" r="12.5"/><circle cx="1276.9" cy="456.7" r="12.5"/><circle cx="1278.1" cy="571.1" r="12.5"/><circle cx="1279.3" cy="409.2" r="12.5"/><circle cx="1280.5" cy="390.5" r="12.5"/><circle cx="1281.7" cy="394.7" r="12.5"/><circle cx="1283" cy="363.7" r="12.5"/><circle cx="1284.2" cy="376.7" r="12.5"/><circle cx="1285.4" cy="397.2" r="12.5"/><circle cx="1286.6" cy="445.7" r="12.5"/><circle cx="1287.9" cy="394.1" r="12.5"/><circle cx="1289.1" cy="436.9" r="12.5"/><circle cx="1290.3" cy="392.5" r="12.5"/><circle cx="1291.5" cy="358.8" r="12.5"/><circle cx="1292.7" cy="446.5" r="12.5"/><circle cx="1294" cy="346" r="12.5"/><circle cx="1295.2" cy="427" r="12.5"/><circle cx="1296.4" cy="346.2" r="12.5"/><circle cx="1297.6" cy="387.9" r="12.5"/><circle cx="1298.9" cy="383.4" r="12.5"/><circle cx="1300.1" cy="352.3" r="12.5"/><circle cx="1301.3" cy="455.7" r="12.5"/><circle cx="1302.5" cy="427.8" r="12.5"/><circle cx="1303.7" cy="398.3" r="12.5"/><circle cx="1305" cy="411.5" r="12.5"/><circle cx="1306.2" cy="398.3" r="12.5"/><circle cx="1307.4" cy="440.2" r="12.5"/><circle cx="1308.6" cy="428.5" r="12.5"/><circle cx="1309.9" cy="414.7" r="12.5"/><circle cx="1311.1" cy="391.6" r="12.5"/><circle cx="1312.3" cy="432.8" r="12.5"/><circle cx="1313.5" cy="406.8" r="12.5"/><circle cx="1314.7" cy="437.6" r="12.5"/><circle cx="1316" cy="589.5" r="12.5"/><circle cx="1317.2" cy="591.8" r="12.5"/><circle cx="1318.4" cy="524" r="12.5"/><circle cx="1319.6" cy="403.4" r="12.5"/><circle cx="1320.9" cy="416.5" r="12.5"/><circle cx="1322.1" cy="450.9" r="12.5"/><circle cx="1323.3" cy="437.3" r="12.5"/><circle cx="1324.5" cy="407.6" r="12.5"/><circle cx="1325.7" cy="446.1" r="12.5"/><circle cx="1327" cy="465.6" r="12.5"/><circle cx="1328.2" cy="392.6" r="12.5"/><circle cx="1329.4" cy="404.5" r="12.5"/><circle cx="1330.6" cy="473.9" r="12.5"/><circle cx="1331.9" cy="370.8" r="12.5"/><circle cx="1333.1" cy="410.1" r="12.5"/><circle cx="1334.3" cy="424.9" r="12.5"/><circle cx="1335.5" cy="388" r="12.5"/><circle cx="1336.7" cy="386.4" r="12.5"/><circle cx="1338" cy="372.9" r="12.5"/><circle cx="1339.2" cy="424.8" r="12.5"/><circle cx="1340.4" cy="422.6" r="12.5"/><circle cx="1341.6" cy="421.4" r="12.5"/><circle cx="1342.9" cy="386.2" r="12.5"/><circle cx="1344.1" cy="352.2" r="12.5"/><circle cx="1345.3" cy="398.3" r="12.5"/><circle cx="1346.5" cy="467" r="12.5"/><circle cx="1347.7" cy="377.5" r="12.5"/><circle cx="1349" cy="382.8" r="12.5"/><circle cx="1350.2" cy="394.5" r="12.5"/><circle cx="1351.4" cy="387.8" r="12.5"/><circle cx="1352.6" cy="398.4" r="12.5"/><circle cx="1353.9" cy="381" r="12.5"/><circle cx="1355.1" cy="363" r="12.5"/><circle cx="1356.3" cy="418.3" r="12.5"/><circle cx="1357.5" cy="395.1" r="12.5"/><circle cx="1358.7" cy="472.5" r="12.5"/><circle cx="1360" cy="530.2" r="12.5"/><circle cx="1361.2" cy="401.2" r="12.5"/><circle cx="1362.4" cy="360.9" r="12.5"/><circle cx="1363.6" cy="373.3" r="12.5"/><circle cx="1364.9" cy="500.3" r="12.5"/><circle cx="1366.1" cy="371.4" r="12.5"/><circle cx="1367.3" cy="399.2" r="12.5"/><circle cx="1368.5" cy="413.1" r="12.5"/><circle cx="1369.7" cy="362.3" r="12.5"/><circle cx="1371" cy="381.8" r="12.5"/><circle cx="1372.2" cy="564.6" r="12.5"/><circle cx="1373.4" cy="391.4" r="12.5"/><circle cx="1374.6" cy="409.7" r="12.5"/><circle cx="1375.9" cy="415.7" r="12.5"/><circle cx="1377.1" cy="400.2" r="12.5"/><circle cx="1378.3" cy="387.2" r="12.5"/><circle cx="1379.5" cy="550.1" r="12.5"/><circle cx="1380.7" cy="408" r="12.5"/><circle cx="1382" cy="421.3" r="12.5"/><circle cx="1383.2" cy="388.3" r="12.5"/><circle cx="1384.4" cy="454.7" r="12.5"/><circle cx="1385.6" cy="405.2" r="12.5"/><circle cx="1386.9" cy="365.7" r="12.5"/><circle cx="1388.1" cy="375" r="12.5"/><circle cx="1389.3" cy="419.2" r="12.5"/><circle cx="1390.5" cy="434.7" r="12.5"/><circle cx="1391.7" cy="409" r="12.5"/><circle cx="1393" cy="383.8" r="12.5"/><circle cx="1394.2" cy="584.2" r="12.5"/><circle cx="1395.4" cy="387.7" r="12.5"/><circle cx="1396.6" cy="361.4" r="12.5"/><circle cx="1397.9" cy="465.5" r="12.5"/><circle cx="1399.1" cy="335.3" r="12.5"/><circle cx="1400.3" cy="315.1" r="12.5"/><circle cx="1401.5" cy="381.1" r="12.5"/><circle cx="1402.7" cy="405.5" r="12.5"/><circle cx="1404" cy="423.7" r="12.5"/><circle cx="1405.2" cy="385.4" r="12.5"/><circle cx="1406.4" cy="388.5" r="12.5"/><circle cx="1407.6" cy="378" r="12.5"/><circle cx="1408.9" cy="431.7" r="12.5"/><circle cx="1410.1" cy="398.9" r="12.5"/><circle cx="1411.3" cy="547.5" r="12.5"/><circle cx="1412.5" cy="450.2" r="12.5"/><circle cx="1413.7" cy="360.8" r="12.5"/><circle cx="1415" cy="456.6" r="12.5"/><circle cx="1416.2" cy="566.3" r="12.5"/><circle cx="1417.4" cy="564.3" r="12.5"/><circle cx="1418.6" cy="386.5" r="12.5"/><circle cx="1419.9" cy="373.2" r="12.5"/><circle cx="1421.1" cy="422.6" r="12.5"/><circle cx="1422.3" cy="392.9" r="12.5"/><circle cx="1423.5" cy="393.5" r="12.5"/><circle cx="1424.7" cy="404" r="12.5"/><circle cx="1426" cy="366.5" r="12.5"/><circle cx="1427.2" cy="408.7" r="12.5"/><circle cx="1428.4" cy="417.8" r="12.5"/><circle cx="1429.6" cy="416.7" r="12.5"/><circle cx="1430.9" cy="391.4" r="12.5"/><circle cx="1432.1" cy="572.3" r="12.5"/><circle cx="1433.3" cy="389" r="12.5"/><circle cx="1434.5" cy="467.4" r="12.5"/><circle cx="1435.7" cy="449.8" r="12.5"/><circle cx="1437" cy="425.1" r="12.5"/><circle cx="1438.2" cy="348.2" r="12.5"/><circle cx="1439.4" cy="414.5" r="12.5"/><circle cx="1440.6" cy="458.5" r="12.5"/><circle cx="1441.8" cy="481.9" r="12.5"/><circle cx="1443.1" cy="363" r="12.5"/><circle cx="1444.3" cy="401.1" r="12.5"/><circle cx="1445.5" cy="488" r="12.5"/><circle cx="1446.7" cy="367.8" r="12.5"/><circle cx="1448" cy="549" r="12.5"/><circle cx="1449.2" cy="412.8" r="12.5"/><circle cx="1450.4" cy="428.7" r="12.5"/><circle cx="1451.6" cy="435.6" r="12.5"/><circle cx="1452.8" cy="421.2" r="12.5"/><circle cx="1454.1" cy="482.6" r="12.5"/><circle cx="1455.3" cy="442.7" r="12.5"/><circle cx="1456.5" cy="363.4" r="12.5"/><circle cx="1457.7" cy="398.2" r="12.5"/><circle cx="1459" cy="412.7" r="12.5"/><circle cx="1460.2" cy="453.3" r="12.5"/><circle cx="1461.4" cy="417.7" r="12.5"/><circle cx="1462.6" cy="401.1" r="12.5"/><circle cx="1463.8" cy="400.3" r="12.5"/><circle cx="1465.1" cy="350.7" r="12.5"/><circle cx="1466.3" cy="404.8" r="12.5"/><circle cx="1467.5" cy="400.4" r="12.5"/><circle cx="1468.7" cy="425.8" r="12.5"/><circle cx="1470" cy="369.4" r="12.5"/><circle cx="1471.2" cy="592.6" r="12.5"/><circle cx="1472.4" cy="402.6" r="12.5"/><circle cx="1473.6" cy="482.3" r="12.5"/><circle cx="1474.8" cy="388.9" r="12.5"/><circle cx="1476.1" cy="377.7" r="12.5"/><circle cx="1477.3" cy="453.5" r="12.5"/><circle cx="1478.5" cy="524.6" r="12.5"/><circle cx="1479.7" cy="391.4" r="12.5"/><circle cx="1481" cy="450.7" r="12.5"/><circle cx="1482.2" cy="414.1" r="12.5"/><circle cx="1483.4" cy="391.7" r="12.5"/><circle cx="1484.6" cy="363.8" r="12.5"/><circle cx="1485.8" cy="435.1" r="12.5"/><circle cx="1487.1" cy="430.9" r="12.5"/><circle cx="1488.3" cy="438.9" r="12.5"/><circle cx="1489.5" cy="468.8" r="12.5"/><circle cx="1490.7" cy="493.1" r="12.5"/><circle cx="1492" cy="378.3" r="12.5"/><circle cx="1493.2" cy="464.9" r="12.5"/><circle cx="1494.4" cy="344" r="12.5"/><circle cx="1495.6" cy="366.4" r="12.5"/><circle cx="1496.8" cy="375.3" r="12.5"/><circle cx="1498.1" cy="357.7" r="12.5"/><circle cx="1499.3" cy="352.4" r="12.5"/><circle cx="1500.5" cy="482.9" r="12.5"/><circle cx="1501.7" cy="363" r="12.5"/><circle cx="1503" cy="355" r="12.5"/><circle cx="1504.2" cy="437" r="12.5"/><circle cx="1505.4" cy="411.2" r="12.5"/><circle cx="1506.6" cy="385.6" r="12.5"/><circle cx="1507.8" cy="349.2" r="12.5"/><circle cx="1509.1" cy="413.3" r="12.5"/><circle cx="1510.3" cy="457.2" r="12.5"/><circle cx="1511.5" cy="427.7" r="12.5"/><circle cx="1512.7" cy="419.1" r="12.5"/><circle cx="1514" cy="458.8" r="12.5"/><circle cx="1515.2" cy="413.8" r="12.5"/><circle cx="1516.4" cy="411.8" r="12.5"/><circle cx="1517.6" cy="438.9" r="12.5"/><circle cx="1518.8" cy="391.8" r="12.5"/><circle cx="1520.1" cy="388.6" r="12.5"/><circle cx="1521.3" cy="409.5" r="12.5"/><circle cx="1522.5" cy="371" r="12.5"/><circle cx="1523.7" cy="419.5" r="12.5"/><circle cx="1525" cy="487.3" r="12.5"/><circle cx="1526.2" cy="351.1" r="12.5"/><circle cx="1527.4" cy="392.3" r="12.5"/><circle cx="1528.6" cy="364.5" r="12.5"/><circle cx="1529.8" cy="579.4" r="12.5"/><circle cx="1531.1" cy="403.5" r="12.5"/><circle cx="1532.3" cy="401.1" r="12.5"/><circle cx="1533.5" cy="381.1" r="12.5"/><circle cx="1534.7" cy="390.1" r="12.5"/><circle cx="1536" cy="447" r="12.5"/><circle cx="1537.2" cy="589.7" r="12.5"/><circle cx="1538.4" cy="380.5" r="12.5"/><circle cx="1539.6" cy="395.8" r="12.5"/><circle cx="1540.8" cy="379.9" r="12.5"/><circle cx="1542.1" cy="445.1" r="12.5"/><circle cx="1543.3" cy="378.2" r="12.5"/><circle cx="1544.5" cy="413" r="12.5"/><circle cx="1545.7" cy="372.8" r="12.5"/><circle cx="1547" cy="379.7" r="12.5"/><circle cx="1548.2" cy="383.2" r="12.5"/><circle cx="1549.4" cy="384.8" r="12.5"/><circle cx="1550.6" cy="428.5" r="12.5"/><circle cx="1551.8" cy="565.5" r="12.5"/><circle cx="1553.1" cy="362.1" r="12.5"/><circle cx="1554.3" cy="374.5" r="12.5"/><circle cx="1555.5" cy="360.8" r="12.5"/><circle cx="1556.7" cy="409.7" r="12.5"/><circle cx="1558" cy="395.6" r="12.5"/><circle cx="1559.2" cy="578.7" r="12.5"/><circle cx="1560.4" cy="376.7" r="12.5"/><circle cx="1561.6" cy="416.3" r="12.5"/><circle cx="1562.8" cy="485.7" r="12.5"/><circle cx="1564.1" cy="396.3" r="12.5"/><circle cx="1565.3" cy="380.1" r="12.5"/><circle cx="1566.5" cy="423.5" r="12.5"/><circle cx="1567.7" cy="393" r="12.5"/><circle cx="1569" cy="421.7" r="12.5"/><circle cx="1570.2" cy="362.6" r="12.5"/><circle cx="1571.4" cy="375.7" r="12.5"/><circle cx="1572.6" cy="419.4" r="12.5"/><circle cx="1573.8" cy="412.5" r="12.5"/><circle cx="1575.1" cy="371.2" r="12.5"/><circle cx="1576.3" cy="389.1" r="12.5"/><circle cx="1577.5" cy="418.8" r="12.5"/><circle cx="1578.7" cy="372.6" r="12.5"/><circle cx="1580" cy="415.8" r="12.5"/><circle cx="1581.2" cy="379.2" r="12.5"/><circle cx="1582.4" cy="436.1" r="12.5"/><circle cx="1583.6" cy="395.6" r="12.5"/><circle cx="1584.8" cy="359.7" r="12.5"/><circle cx="1586.1" cy="429.5" r="12.5"/><circle cx="1587.3" cy="409" r="12.5"/><circle cx="1588.5" cy="407" r="12.5"/><circle cx="1589.7" cy="338.3" r="12.5"/><circle cx="1591" cy="387.4" r="12.5"/><circle cx="1592.2" cy="401.9" r="12.5"/><circle cx="1593.4" cy="452.3" r="12.5"/><circle cx="1594.6" cy="376.4" r="12.5"/><circle cx="1595.8" cy="370.2" r="12.5"/><circle cx="1597.1" cy="382.6" r="12.5"/><circle cx="1598.3" cy="397.5" r="12.5"/><circle cx="1599.5" cy="418.2" r="12.5"/><circle cx="1600.7" cy="408.2" r="12.5"/><circle cx="1602" cy="376.2" r="12.5"/><circle cx="1603.2" cy="370.3" r="12.5"/><circle cx="1604.4" cy="380.7" r="12.5"/><circle cx="1605.6" cy="368.1" r="12.5"/><circle cx="1606.8" cy="397" r="12.5"/><circle cx="1608.1" cy="519.3" r="12.5"/><circle cx="1609.3" cy="398.9" r="12.5"/><circle cx="1610.5" cy="486.2" r="12.5"/><circle cx="1611.7" cy="396.7" r="12.5"/><circle cx="1613" cy="416.5" r="12.5"/><circle cx="1614.2" cy="392.5" r="12.5"/><circle cx="1615.4" cy="511.1" r="12.5"/><circle cx="1616.6" cy="431.9" r="12.5"/><circle cx="1617.8" cy="408.8" r="12.5"/><circle cx="1619.1" cy="457.4" r="12.5"/><circle cx="1620.3" cy="388.9" r="12.5"/><circle cx="1621.5" cy="489.5" r="12.5"/><circle cx="1622.7" cy="365.6" r="12.5"/><circle cx="1624" cy="397.3" r="12.5"/><circle cx="1625.2" cy="359.4" r="12.5"/><circle cx="1626.4" cy="366.9" r="12.5"/><circle cx="1627.6" cy="595.9" r="12.5"/><circle cx="1628.8" cy="389.5" r="12.5"/><circle cx="1630.1" cy="480.4" r="12.5"/><circle cx="1631.3" cy="395.9" r="12.5"/><circle cx="1632.5" cy="391.4" r="12.5"/><circle cx="1633.7" cy="358.6" r="12.5"/><circle cx="1635" cy="399.3" r="12.5"/><circle cx="1636.2" cy="374.8" r="12.5"/><circle cx="1637.4" cy="523.3" r="12.5"/><circle cx="1638.6" cy="431.3" r="12.5"/><circle cx="1639.8" cy="408.8" r="12.5"/><circle cx="1641.1" cy="494.7" r="12.5"/><circle cx="1642.3" cy="444" r="12.5"/><circle cx="1643.5" cy="367.4" r="12.5"/><circle cx="1644.7" cy="397.9" r="12.5"/><circle cx="1646" cy="455.4" r="12.5"/><circle cx="1647.2" cy="387.6" r="12.5"/><circle cx="1648.4" cy="395.9" r="12.5"/><circle cx="1649.6" cy="469" r="12.5"/><circle cx="1650.8" cy="399" r="12.5"/><circle cx="1652.1" cy="440" r="12.5"/><circle cx="1653.3" cy="504.9" r="12.5"/><circle cx="1654.5" cy="422.9" r="12.5"/><circle cx="1655.7" cy="422.8" r="12.5"/><circle cx="1657" cy="435" r="12.5"/><circle cx="1658.2" cy="574.2" r="12.5"/><circle cx="1659.4" cy="426.3" r="12.5"/><circle cx="1660.6" cy="389.9" r="12.5"/><circle cx="1661.8" cy="459.9" r="12.5"/><circle cx="1663.1" cy="385.6" r="12.5"/><circle cx="1664.3" cy="366.6" r="12.5"/><circle cx="1665.5" cy="354" r="12.5"/><circle cx="1666.7" cy="363.8" r="12.5"/><circle cx="1668" cy="399.9" r="12.5"/><circle cx="1669.2" cy="342.5" r="12.5"/><circle cx="1670.4" cy="404.4" r="12.5"/><circle cx="1671.6" cy="440.5" r="12.5"/><circle cx="1672.8" cy="579.1" r="12.5"/><circle cx="1674.1" cy="381.6" r="12.5"/><circle cx="1675.3" cy="410.7" r="12.5"/><circle cx="1676.5" cy="376.9" r="12.5"/><circle cx="1677.7" cy="381.1" r="12.5"/><circle cx="1679" cy="402.6" r="12.5"/><circle cx="1680.2" cy="397.5" r="12.5"/><circle cx="1681.4" cy="344.5" r="12.5"/><circle cx="1682.6" cy="500.3" r="12.5"/><circle cx="1683.8" cy="338.2" r="12.5"/><circle cx="1685.1" cy="388.2" r="12.5"/><circle cx="1686.3" cy="606.1" r="12.5"/><circle cx="1687.5" cy="416.2" r="12.5"/><circle cx="1688.7" cy="395.2" r="12.5"/><circle cx="1690" cy="512.1" r="12.5"/><circle cx="1691.2" cy="368.5" r="12.5"/><circle cx="1692.4" cy="378.9" r="12.5"/><circle cx="1693.6" cy="393" r="12.5"/><circle cx="1694.8" cy="592" r="12.5"/><circle cx="1696.1" cy="398.2" r="12.5"/><circle cx="1697.3" cy="394.5" r="12.5"/><circle cx="1698.5" cy="429.5" r="12.5"/><circle cx="1699.7" cy="433.7" r="12.5"/><circle cx="1701" cy="396" r="12.5"/><circle cx="1702.2" cy="424.7" r="12.5"/><circle cx="1703.4" cy="596.5" r="12.5"/><circle cx="1704.6" cy="375.1" r="12.5"/><circle cx="1705.8" cy="398" r="12.5"/><circle cx="1707.1" cy="412.9" r="12.5"/><circle cx="1708.3" cy="424.5" r="12.5"/><circle cx="1709.5" cy="409.2" r="12.5"/><circle cx="1710.7" cy="426.1" r="12.5"/><circle cx="1712" cy="457.8" r="12.5"/><circle cx="1713.2" cy="443.2" r="12.5"/><circle cx="1714.4" cy="455.6" r="12.5"/><circle cx="1715.6" cy="421.7" r="12.5"/><circle cx="1716.8" cy="393.2" r="12.5"/><circle cx="1718.1" cy="590.3" r="12.5"/><circle cx="1719.3" cy="429.4" r="12.5"/><circle cx="1720.5" cy="444.5" r="12.5"/><circle cx="1721.7" cy="357.9" r="12.5"/><circle cx="1723" cy="394.7" r="12.5"/><circle cx="1724.2" cy="362.3" r="12.5"/><circle cx="1725.4" cy="378.4" r="12.5"/><circle cx="1726.6" cy="503.6" r="12.5"/><circle cx="1727.8" cy="399.6" r="12.5"/><circle cx="1729.1" cy="410.6" r="12.5"/><circle cx="1730.3" cy="431.5" r="12.5"/><circle cx="1731.5" cy="438.9" r="12.5"/><circle cx="1732.7" cy="375.5" r="12.5"/><circle cx="1734" cy="400" r="12.5"/><circle cx="1735.2" cy="386.1" r="12.5"/><circle cx="1736.4" cy="486.2" r="12.5"/><circle cx="1737.6" cy="382.7" r="12.5"/><circle cx="1738.8" cy="400.4" r="12.5"/><circle cx="1740.1" cy="436" r="12.5"/><circle cx="1741.3" cy="408.3" r="12.5"/><circle cx="1742.5" cy="426.1" r="12.5"/><circle cx="1743.7" cy="335.7" r="12.5"/><circle cx="1745" cy="586.4" r="12.5"/><circle cx="1746.2" cy="511.6" r="12.5"/><circle cx="1747.4" cy="435.7" r="12.5"/><circle cx="1748.6" cy="404.8" r="12.5"/><circle cx="1749.8" cy="416.1" r="12.5"/><circle cx="1751.1" cy="409.9" r="12.5"/><circle cx="1752.3" cy="390.2" r="12.5"/><circle cx="1753.5" cy="463.7" r="12.5"/><circle cx="1754.7" cy="577.2" r="12.5"/><circle cx="1756" cy="399.1" r="12.5"/><circle cx="1757.2" cy="444.2" r="12.5"/><circle cx="1758.4" cy="456.4" r="12.5"/><circle cx="1759.6" cy="367.9" r="12.5"/><circle cx="1760.8" cy="400.9" r="12.5"/><circle cx="1762.1" cy="411.5" r="12.5"/><circle cx="1763.3" cy="588.8" r="12.5"/><circle cx="1764.5" cy="434.1" r="12.5"/><circle cx="1765.7" cy="387.6" r="12.5"/><circle cx="1767" cy="542.3" r="12.5"/><circle cx="1768.2" cy="383.6" r="12.5"/><circle cx="1769.4" cy="396.7" r="12.5"/><circle cx="1770.6" cy="418.7" r="12.5"/><circle cx="1771.8" cy="556.9" r="12.5"/><circle cx="1773.1" cy="488.3" r="12.5"/><circle cx="1774.3" cy="401.2" r="12.5"/><circle cx="1775.5" cy="557.8" r="12.5"/><circle cx="1776.7" cy="449.3" r="12.5"/><circle cx="1778" cy="354.3" r="12.5"/><circle cx="1779.2" cy="583.7" r="12.5"/><circle cx="1780.4" cy="391.9" r="12.5"/><circle cx="1781.6" cy="363.6" r="12.5"/><circle cx="1782.8" cy="423.1" r="12.5"/><circle cx="1784.1" cy="432.1" r="12.5"/><circle cx="1785.3" cy="476.3" r="12.5"/><circle cx="1786.5" cy="384.4" r="12.5"/><circle cx="1787.7" cy="416.7" r="12.5"/><circle cx="1789" cy="401.5" r="12.5"/><circle cx="1790.2" cy="369.5" r="12.5"/><circle cx="1791.4" cy="627.7" r="12.5"/><circle cx="1792.6" cy="368.8" r="12.5"/><circle cx="1793.8" cy="563.2" r="12.5"/><circle cx="1795.1" cy="409.4" r="12.5"/><circle cx="1796.3" cy="458.1" r="12.5"/><circle cx="1797.5" cy="393" r="12.5"/><circle cx="1798.7" cy="411.5" r="12.5"/><circle cx="1800" cy="598.4" r="12.5"/><circle cx="1801.2" cy="431.2" r="12.5"/><circle cx="1802.4" cy="436.4" r="12.5"/><circle cx="1803.6" cy="391" r="12.5"/><circle cx="1804.8" cy="396.9" r="12.5"/><circle cx="1806.1" cy="393.3" r="12.5"/><circle cx="1807.3" cy="421.4" r="12.5"/><circle cx="1808.5" cy="445.5" r="12.5"/><circle cx="1809.7" cy="448.2" r="12.5"/><circle cx="1811" cy="420.8" r="12.5"/><circle cx="1812.2" cy="385.5" r="12.5"/><circle cx="1813.4" cy="477" r="12.5"/><circle cx="1814.6" cy="388.3" r="12.5"/><circle cx="1815.8" cy="399.3" r="12.5"/><circle cx="1817.1" cy="422.5" r="12.5"/><circle cx="1818.3" cy="414.1" r="12.5"/><circle cx="1819.5" cy="588.4" r="12.5"/><circle cx="1820.7" cy="433.5" r="12.5"/><circle cx="1822" cy="421.7" r="12.5"/><circle cx="1823.2" cy="544.3" r="12.5"/><circle cx="1824.4" cy="416.8" r="12.5"/><circle cx="1825.6" cy="365.3" r="12.5"/><circle cx="1826.8" cy="482.9" r="12.5"/><circle cx="1828.1" cy="467.6" r="12.5"/><circle cx="1829.3" cy="417.8" r="12.5"/><circle cx="1830.5" cy="458.9" r="12.5"/><circle cx="1831.7" cy="450.4" r="12.5"/><circle cx="1833" cy="393" r="12.5"/><circle cx="1834.2" cy="382.9" r="12.5"/><circle cx="1835.4" cy="398.6" r="12.5"/><circle cx="1836.6" cy="388" r="12.5"/><circle cx="1837.8" cy="347.4" r="12.5"/><circle cx="1839.1" cy="458.7" r="12.5"/><circle cx="1840.3" cy="413.7" r="12.5"/><circle cx="1841.5" cy="393.8" r="12.5"/><circle cx="1842.7" cy="353.1" r="12.5"/><circle cx="1844" cy="411.3" r="12.5"/><circle cx="1845.2" cy="418.9" r="12.5"/><circle cx="1846.4" cy="393.8" r="12.5"/><circle cx="1847.6" cy="408.3" r="12.5"/><circle cx="1848.8" cy="388.9" r="12.5"/><circle cx="1850.1" cy="411.6" r="12.5"/><circle cx="1851.3" cy="417.9" r="12.5"/><circle cx="1852.5" cy="372.2" r="12.5"/><circle cx="1853.7" cy="389.9" r="12.5"/><circle cx="1855" cy="393.5" r="12.5"/><circle cx="1856.2" cy="408.7" r="12.5"/><circle cx="1857.4" cy="392.5" r="12.5"/><circle cx="1858.6" cy="418.2" r="12.5"/><circle cx="1859.8" cy="396.1" r="12.5"/><circle cx="1861.1" cy="381.6" r="12.5"/><circle cx="1862.3" cy="392.3" r="12.5"/><circle cx="1863.5" cy="417.1" r="12.5"/><circle cx="1864.7" cy="406.6" r="12.5"/><circle cx="1866" cy="443.8" r="12.5"/><circle cx="1867.2" cy="409.6" r="12.5"/><circle cx="1868.4" cy="561.4" r="12.5"/><circle cx="1869.6" cy="355.6" r="12.5"/><circle cx="1870.8" cy="354.5" r="12.5"/><circle cx="1872.1" cy="399.7" r="12.5"/><circle cx="1873.3" cy="393.4" r="12.5"/><circle cx="1874.5" cy="397" r="12.5"/><circle cx="1875.7" cy="422.1" r="12.5"/><circle cx="1877" cy="409.4" r="12.5"/><circle cx="1878.2" cy="380.4" r="12.5"/><circle cx="1879.4" cy="403.1" r="12.5"/><circle cx="1880.6" cy="440.6" r="12.5"/><circle cx="1881.8" cy="355.8" r="12.5"/><circle cx="1883.1" cy="428.1" r="12.5"/><circle cx="1884.3" cy="456.2" r="12.5"/><circle cx="1885.5" cy="346.4" r="12.5"/><circle cx="1886.7" cy="441.9" r="12.5"/><circle cx="1888" cy="569.6" r="12.5"/><circle cx="1889.2" cy="340.8" r="12.5"/><circle cx="1890.4" cy="472.9" r="12.5"/><circle cx="1891.6" cy="379.1" r="12.5"/><circle cx="1892.8" cy="416.2" r="12.5"/><circle cx="1894.1" cy="407.7" r="12.5"/><circle cx="1895.3" cy="415" r="12.5"/><circle cx="1896.5" cy="382" r="12.5"/><circle cx="1897.7" cy="616.8" r="12.5"/><circle cx="1899" cy="449" r="12.5"/><circle cx="1900.2" cy="446.8" r="12.5"/><circle cx="1901.4" cy="425.1" r="12.5"/><circle cx="1902.6" cy="386.8" r="12.5"/><circle cx="1903.8" cy="378.3" r="12.5"/><circle cx="1905.1" cy="410" r="12.5"/><circle cx="1906.3" cy="385.3" r="12.5"/><circle cx="1907.5" cy="428.7" r="12.5"/><circle cx="1908.7" cy="369" r="12.5"/><circle cx="1910" cy="492.5" r="12.5"/><circle cx="1911.2" cy="414.2" r="12.5"/><circle cx="1912.4" cy="367.7" r="12.5"/><circle cx="1913.6" cy="465.7" r="12.5"/><circle cx="1914.8" cy="393.7" r="12.5"/><circle cx="1916.1" cy="368.7" r="12.5"/><circle cx="1917.3" cy="435.6" r="12.5"/><circle cx="1918.5" cy="410.7" r="12.5"/><circle cx="1919.7" cy="372.6" r="12.5"/><circle cx="1921" cy="461.4" r="12.5"/><circle cx="1922.2" cy="444.2" r="12.5"/><circle cx="1923.4" cy="330.9" r="12.5"/><circle cx="1924.6" cy="345.4" r="12.5"/><circle cx="1925.8" cy="369.1" r="12.5"/><circle cx="1927.1" cy="386.4" r="12.5"/><circle cx="1928.3" cy="339.7" r="12.5"/><circle cx="1929.5" cy="395.9" r="12.5"/><circle cx="1930.7" cy="387.9" r="12.5"/><circle cx="1932" cy="476.5" r="12.5"/><circle cx="1933.2" cy="368.4" r="12.5"/><circle cx="1934.4" cy="557.1" r="12.5"/><circle cx="1935.6" cy="410.5" r="12.5"/><circle cx="1936.8" cy="396.1" r="12.5"/><circle cx="1938.1" cy="508.1" r="12.5"/><circle cx="1939.3" cy="418.5" r="12.5"/><circle cx="1940.5" cy="568.3" r="12.5"/><circle cx="1941.7" cy="346" r="12.5"/><circle cx="1943" cy="378.9" r="12.5"/><circle cx="1944.2" cy="404.9" r="12.5"/><circle cx="1945.4" cy="379.2" r="12.5"/><circle cx="1946.6" cy="407.1" r="12.5"/><circle cx="1947.8" cy="434.3" r="12.5"/><circle cx="1949.1" cy="490.5" r="12.5"/><circle cx="1950.3" cy="385" r="12.5"/><circle cx="1951.5" cy="458.8" r="12.5"/><circle cx="1952.7" cy="417.7" r="12.5"/><circle cx="1954" cy="446.5" r="12.5"/><circle cx="1955.2" cy="394.9" r="12.5"/><circle cx="1956.4" cy="465.5" r="12.5"/><circle cx="1957.6" cy="347.8" r="12.5"/><circle cx="1958.8" cy="426" r="12.5"/><circle cx="1960.1" cy="439.8" r="12.5"/><circle cx="1961.3" cy="387.5" r="12.5"/><circle cx="1962.5" cy="436.7" r="12.5"/><circle cx="1963.7" cy="403.3" r="12.5"/><circle cx="1965" cy="424.7" r="12.5"/><circle cx="1966.2" cy="369.6" r="12.5"/><circle cx="1967.4" cy="432.1" r="12.5"/><circle cx="1968.6" cy="349.9" r="12.5"/><circle cx="1969.8" cy="470.8" r="12.5"/><circle cx="1971.1" cy="410" r="12.5"/><circle cx="1972.3" cy="402.3" r="12.5"/><circle cx="1973.5" cy="464" r="12.5"/><circle cx="1974.7" cy="329.6" r="12.5"/><circle cx="1976" cy="411.6" r="12.5"/><circle cx="1977.2" cy="402.3" r="12.5"/><circle cx="1978.4" cy="383.5" r="12.5"/><circle cx="1979.6" cy="413.2" r="12.5"/><circle cx="1980.8" cy="422.3" r="12.5"/><circle cx="1982.1" cy="403.7" r="12.5"/><circle cx="1983.3" cy="518.8" r="12.5"/><circle cx="1984.5" cy="429" r="12.5"/><circle cx="1985.7" cy="383.6" r="12.5"/><circle cx="1987" cy="442.5" r="12.5"/><circle cx="1988.2" cy="523.8" r="12.5"/><circle cx="1989.4" cy="374.2" r="12.5"/><circle cx="1990.6" cy="352" r="12.5"/><circle cx="1991.8" cy="422.5" r="12.5"/><circle cx="1993.1" cy="372.8" r="12.5"/><circle cx="1994.3" cy="402.6" r="12.5"/><circle cx="1995.5" cy="386" r="12.5"/><circle cx="1996.7" cy="373.5" r="12.5"/><circle cx="1998" cy="406.3" r="12.5"/><circle cx="1999.2" cy="481.2" r="12.5"/><circle cx="2000.4" cy="391.4" r="12.5"/><circle cx="2001.6" cy="565.9" r="12.5"/><circle cx="2002.8" cy="418.1" r="12.5"/><circle cx="2004.1" cy="401.9" r="12.5"/><circle cx="2005.3" cy="420.1" r="12.5"/><circle cx="2006.5" cy="524.6" r="12.5"/><circle cx="2007.7" cy="370.2" r="12.5"/><circle cx="2009" cy="412.6" r="12.5"/><circle cx="2010.2" cy="401.5" r="12.5"/><circle cx="2011.4" cy="478.1" r="12.5"/><circle cx="2012.6" cy="558.6" r="12.5"/><circle cx="2013.8" cy="421.6" r="12.5"/><circle cx="2015.1" cy="451.3" r="12.5"/><circle cx="2016.3" cy="558.1" r="12.5"/><circle cx="2017.5" cy="368.7" r="12.5"/><circle cx="2018.7" cy="359.4" r="12.5"/><circle cx="2020" cy="384.2" r="12.5"/><circle cx="2021.2" cy="422.4" r="12.5"/><circle cx="2022.4" cy="428" r="12.5"/><circle cx="2023.6" cy="400.5" r="12.5"/><circle cx="2024.8" cy="448.6" r="12.5"/><circle cx="2026.1" cy="424.5" r="12.5"/><circle cx="2027.3" cy="369.9" r="12.5"/><circle cx="2028.5" cy="358.7" r="12.5"/><circle cx="2029.7" cy="419.6" r="12.5"/><circle cx="2031" cy="495.3" r="12.5"/><circle cx="2032.2" cy="451.5" r="12.5"/><circle cx="2033.4" cy="399.5" r="12.5"/><circle cx="2034.6" cy="382" r="12.5"/><circle cx="2035.8" cy="373.7" r="12.5"/><circle cx="2037.1" cy="385.2" r="12.5"/><circle cx="2038.3" cy="456.2" r="12.5"/><circle cx="2039.5" cy="437" r="12.5"/><circle cx="2040.7" cy="392.2" r="12.5"/><circle cx="2042" cy="404.4" r="12.5"/><circle cx="2043.2" cy="429.7" r="12.5"/><circle cx="2044.4" cy="343.4" r="12.5"/><circle cx="2045.6" cy="379.9" r="12.5"/><circle cx="2046.8" cy="565.3" r="12.5"/><circle cx="2048.1" cy="572.8" r="12.5"/><circle cx="2049.3" cy="400.7" r="12.5"/><circle cx="2050.5" cy="392.4" r="12.5"/><circle cx="2051.7" cy="410.4" r="12.5"/><circle cx="2053" cy="445.1" r="12.5"/><circle cx="2054.2" cy="441.4" r="12.5"/><circle cx="2055.4" cy="430.4" r="12.5"/><circle cx="2056.6" cy="432.3" r="12.5"/><circle cx="2057.8" cy="336.9" r="12.5"/><circle cx="2059.1" cy="384.9" r="12.5"/><circle cx="2060.3" cy="385.5" r="12.5"/><circle cx="2061.5" cy="402.7" r="12.5"/><circle cx="2062.7" cy="458.7" r="12.5"/><circle cx="2064" cy="475.8" r="12.5"/><circle cx="2065.2" cy="395.6" r="12.5"/><circle cx="2066.4" cy="404.3" r="12.5"/><circle cx="2067.6" cy="374.5" r="12.5"/><circle cx="2068.8" cy="345.9" r="12.5"/><circle cx="2070.1" cy="364.6" r="12.5"/><circle cx="2071.3" cy="373.6" r="12.5"/><circle cx="2072.5" cy="375.3" r="12.5"/><circle cx="2073.7" cy="425.3" r="12.5"/><circle cx="2075" cy="395.9" r="12.5"/><circle cx="2076.2" cy="407.2" r="12.5"/><circle cx="2077.4" cy="468.6" r="12.5"/><circle cx="2078.6" cy="358.7" r="12.5"/><circle cx="2079.8" cy="386.6" r="12.5"/><circle cx="2081.1" cy="372.9" r="12.5"/><circle cx="2082.3" cy="502.1" r="12.5"/><circle cx="2083.5" cy="368" r="12.5"/><circle cx="2084.7" cy="387.6" r="12.5"/><circle cx="2086" cy="452.6" r="12.5"/><circle cx="2087.2" cy="343.4" r="12.5"/><circle cx="2088.4" cy="360.2" r="12.5"/><circle cx="2089.6" cy="361" r="12.5"/><circle cx="2090.8" cy="550.1" r="12.5"/><circle cx="2092.1" cy="402.7" r="12.5"/><circle cx="2093.3" cy="394.9" r="12.5"/><circle cx="2094.5" cy="578.3" r="12.5"/><circle cx="2095.7" cy="464.6" r="12.5"/><circle cx="2097" cy="378" r="12.5"/><circle cx="2098.2" cy="396.7" r="12.5"/><circle cx="2099.4" cy="365.2" r="12.5"/><circle cx="2100.6" cy="399.9" r="12.5"/><circle cx="2101.8" cy="416.4" r="12.5"/><circle cx="2103.1" cy="360.4" r="12.5"/><circle cx="2104.3" cy="345.2" r="12.5"/><circle cx="2105.5" cy="405.9" r="12.5"/><circle cx="2106.7" cy="458.9" r="12.5"/><circle cx="2108" cy="415.2" r="12.5"/><circle cx="2109.2" cy="386.3" r="12.5"/><circle cx="2110.4" cy="443.3" r="12.5"/><circle cx="2111.6" cy="462.4" r="12.5"/><circle cx="2112.8" cy="488.4" r="12.5"/><circle cx="2114.1" cy="377.4" r="12.5"/><circle cx="2115.3" cy="348.8" r="12.5"/><circle cx="2116.5" cy="436.7" r="12.5"/><circle cx="2117.7" cy="565.4" r="12.5"/><circle cx="2119" cy="371.7" r="12.5"/><circle cx="2120.2" cy="421.9" r="12.5"/><circle cx="2121.4" cy="378.4" r="12.5"/><circle cx="2122.6" cy="608.8" r="12.5"/><circle cx="2123.8" cy="400.9" r="12.5"/><circle cx="2125.1" cy="382.9" r="12.5"/><circle cx="2126.3" cy="382.7" r="12.5"/><circle cx="2127.5" cy="359.4" r="12.5"/><circle cx="2128.7" cy="533.2" r="12.5"/><circle cx="2130" cy="370.5" r="12.5"/><circle cx="2131.2" cy="418.9" r="12.5"/><circle cx="2132.4" cy="428.3" r="12.5"/><circle cx="2133.6" cy="394.5" r="12.5"/><circle cx="2134.8" cy="392.9" r="12.5"/><circle cx="2136.1" cy="413.2" r="12.5"/><circle cx="2137.3" cy="394.5" r="12.5"/><circle cx="2138.5" cy="597.5" r="12.5"/><circle cx="2139.7" cy="412.9" r="12.5"/><circle cx="2141" cy="413.2" r="12.5"/><circle cx="2142.2" cy="496" r="12.5"/><circle cx="2143.4" cy="415.6" r="12.5"/><circle cx="2144.6" cy="359.9" r="12.5"/><circle cx="2145.8" cy="403.3" r="12.5"/><circle cx="2147.1" cy="390.2" r="12.5"/><circle cx="2148.3" cy="435.8" r="12.5"/><circle cx="2149.5" cy="346.3" r="12.5"/><circle cx="2150.7" cy="379" r="12.5"/><circle cx="2152" cy="398.9" r="12.5"/><circle cx="2153.2" cy="384.3" r="12.5"/><circle cx="2154.4" cy="432.8" r="12.5"/><circle cx="2155.6" cy="378.5" r="12.5"/><circle cx="2156.8" cy="454.8" r="12.5"/><circle cx="2158.1" cy="383.1" r="12.5"/><circle cx="2159.3" cy="596.3" r="12.5"/><circle cx="2160.5" cy="491.3" r="12.5"/><circle cx="2161.7" cy="389.2" r="12.5"/><circle cx="2163" cy="440" r="12.5"/><circle cx="2164.2" cy="469" r="12.5"/><circle cx="2165.4" cy="386" r="12.5"/><circle cx="2166.6" cy="397.2" r="12.5"/><circle cx="2167.8" cy="416.3" r="12.5"/><circle cx="2169.1" cy="354" r="12.5"/><circle cx="2170.3" cy="420.5" r="12.5"/><circle cx="2171.5" cy="381.4" r="12.5"/><circle cx="2172.7" cy="388.7" r="12.5"/><circle cx="2174" cy="465.3" r="12.5"/><circle cx="2175.2" cy="410.1" r="12.5"/><circle cx="2176.4" cy="377.3" r="12.5"/><circle cx="2177.6" cy="437.3" r="12.5"/><circle cx="2178.8" cy="416" r="12.5"/><circle cx="2180.1" cy="429.1" r="12.5"/><circle cx="2181.3" cy="409.2" r="12.5"/><circle cx="2182.5" cy="396.2" r="12.5"/><circle cx="2183.7" cy="385.2" r="12.5"/><circle cx="2185" cy="386.4" r="12.5"/><circle cx="2186.2" cy="474.8" r="12.5"/><circle cx="2187.4" cy="413.4" r="12.5"/><circle cx="2188.6" cy="397.1" r="12.5"/><circle cx="2189.8" cy="345.9" r="12.5"/><circle cx="2191.1" cy="543.6" r="12.5"/><circle cx="2192.3" cy="403.3" r="12.5"/><circle cx="2193.5" cy="348.8" r="12.5"/><circle cx="2194.7" cy="318.9" r="12.5"/><circle cx="2196" cy="422.9" r="12.5"/><circle cx="2197.2" cy="437.6" r="12.5"/><circle cx="2198.4" cy="399.7" r="12.5"/><circle cx="2199.6" cy="421.3" r="12.5"/><circle cx="2200.8" cy="360.5" r="12.5"/><circle cx="2202.1" cy="411.2" r="12.5"/><circle cx="2203.3" cy="431.6" r="12.5"/><circle cx="2204.5" cy="421.6" r="12.5"/><circle cx="2205.7" cy="368.4" r="12.5"/><circle cx="2207" cy="443.8" r="12.5"/><circle cx="2208.2" cy="640.3" r="12.5"/><circle cx="2209.4" cy="391.4" r="12.5"/><circle cx="2210.6" cy="513.7" r="12.5"/><circle cx="2211.8" cy="370.6" r="12.5"/><circle cx="2213.1" cy="396.7" r="12.5"/><circle cx="2214.3" cy="441.9" r="12.5"/><circle cx="2215.5" cy="400.6" r="12.5"/><circle cx="2216.7" cy="363.4" r="12.5"/><circle cx="2218" cy="351.9" r="12.5"/><circle cx="2219.2" cy="542" r="12.5"/><circle cx="2220.4" cy="444" r="12.5"/><circle cx="2221.6" cy="411.3" r="12.5"/><circle cx="2222.8" cy="395.8" r="12.5"/><circle cx="2224.1" cy="380.6" r="12.5"/><circle cx="2225.3" cy="378.7" r="12.5"/><circle cx="2226.5" cy="431.3" r="12.5"/><circle cx="2227.7" cy="442.4" r="12.5"/><circle cx="2229" cy="448.3" r="12.5"/><circle cx="2230.2" cy="388.1" r="12.5"/><circle cx="2231.4" cy="344.7" r="12.5"/><circle cx="2232.6" cy="417.4" r="12.5"/><circle cx="2233.8" cy="397.4" r="12.5"/><circle cx="2235.1" cy="436.6" r="12.5"/><circle cx="2236.3" cy="426.5" r="12.5"/><circle cx="2237.5" cy="420.2" r="12.5"/><circle cx="2238.7" cy="343.5" r="12.5"/><circle cx="2240" cy="390.1" r="12.5"/><circle cx="2241.2" cy="345.6" r="12.5"/><circle cx="2242.4" cy="456.3" r="12.5"/><circle cx="2243.6" cy="383.8" r="12.5"/><circle cx="2244.8" cy="370.8" r="12.5"/><circle cx="2246.1" cy="430.4" r="12.5"/><circle cx="2247.3" cy="436.8" r="12.5"/><circle cx="2248.5" cy="586.8" r="12.5"/><circle cx="2249.7" cy="373.3" r="12.5"/><circle cx="2251" cy="368.5" r="12.5"/><circle cx="2252.2" cy="462.1" r="12.5"/><circle cx="2253.4" cy="381.9" r="12.5"/><circle cx="2254.6" cy="418.1" r="12.5"/><circle cx="2255.8" cy="382" r="12.5"/><circle cx="2257.1" cy="418.3" r="12.5"/><circle cx="2258.3" cy="392.2" r="12.5"/><circle cx="2259.5" cy="379.8" r="12.5"/><circle cx="2260.7" cy="370.1" r="12.5"/><circle cx="2262" cy="400.4" r="12.5"/><circle cx="2263.2" cy="428.9" r="12.5"/><circle cx="2264.4" cy="354.8" r="12.5"/><circle cx="2265.6" cy="331.8" r="12.5"/><circle cx="2266.8" cy="574.2" r="12.5"/><circle cx="2268.1" cy="443.9" r="12.5"/><circle cx="2269.3" cy="370.1" r="12.5"/><circle cx="2270.5" cy="423.8" r="12.5"/><circle cx="2271.7" cy="405.8" r="12.5"/><circle cx="2273" cy="384.4" r="12.5"/><circle cx="2274.2" cy="387.6" r="12.5"/><circle cx="2275.4" cy="389.9" r="12.5"/><circle cx="2276.6" cy="361" r="12.5"/><circle cx="2277.8" cy="439.8" r="12.5"/><circle cx="2279.1" cy="457" r="12.5"/><circle cx="2280.3" cy="596.6" r="12.5"/><circle cx="2281.5" cy="410.1" r="12.5"/><circle cx="2282.7" cy="407.7" r="12.5"/><circle cx="2284" cy="429" r="12.5"/><circle cx="2285.2" cy="448.3" r="12.5"/><circle cx="2286.4" cy="333.6" r="12.5"/><circle cx="2287.6" cy="379.8" r="12.5"/><circle cx="2288.8" cy="359.9" r="12.5"/><circle cx="2290.1" cy="376.6" r="12.5"/><circle cx="2291.3" cy="363.8" r="12.5"/><circle cx="2292.5" cy="421.8" r="12.5"/><circle cx="2293.7" cy="491.9" r="12.5"/><circle cx="2295" cy="398.4" r="12.5"/><circle cx="2296.2" cy="396.7" r="12.5"/><circle cx="2297.4" cy="367.6" r="12.5"/><circle cx="2298.6" cy="387.8" r="12.5"/><circle cx="2299.8" cy="436.6" r="12.5"/><circle cx="2301.1" cy="495.7" r="12.5"/><circle cx="2302.3" cy="361" r="12.5"/><circle cx="2303.5" cy="392.6" r="12.5"/><circle cx="2304.7" cy="380.8" r="12.5"/><circle cx="2306" cy="600.2" r="12.5"/><circle cx="2307.2" cy="398.5" r="12.5"/><circle cx="2308.4" cy="377" r="12.5"/><circle cx="2309.6" cy="468.4" r="12.5"/><circle cx="2310.8" cy="409.6" r="12.5"/><circle cx="2312.1" cy="408.8" r="12.5"/><circle cx="2313.3" cy="414.9" r="12.5"/><circle cx="2314.5" cy="417.1" r="12.5"/><circle cx="2315.7" cy="393.1" r="12.5"/><circle cx="2317" cy="355.2" r="12.5"/><circle cx="2318.2" cy="418" r="12.5"/><circle cx="2319.4" cy="369.1" r="12.5"/><circle cx="2320.6" cy="381.2" r="12.5"/><circle cx="2321.8" cy="592.3" r="12.5"/><circle cx="2323.1" cy="384.1" r="12.5"/><circle cx="2324.3" cy="583.4" r="12.5"/><circle cx="2325.5" cy="372.1" r="12.5"/><circle cx="2326.7" cy="398.6" r="12.5"/><circle cx="2328" cy="407.7" r="12.5"/><circle cx="2329.2" cy="407.8" r="12.5"/><circle cx="2330.4" cy="408.5" r="12.5"/><circle cx="2331.6" cy="464.9" r="12.5"/><circle cx="2332.8" cy="443.5" r="12.5"/><circle cx="2334.1" cy="395.7" r="12.5"/><circle cx="2335.3" cy="396.8" r="12.5"/><circle cx="2336.5" cy="385.4" r="12.5"/><circle cx="2337.7" cy="415.4" r="12.5"/><circle cx="2339" cy="384.4" r="12.5"/><circle cx="2340.2" cy="384" r="12.5"/><circle cx="2341.4" cy="381.4" r="12.5"/><circle cx="2342.6" cy="378.3" r="12.5"/><circle cx="2343.8" cy="448.1" r="12.5"/><circle cx="2345.1" cy="414" r="12.5"/><circle cx="2346.3" cy="358.7" r="12.5"/><circle cx="2347.5" cy="566.3" r="12.5"/><circle cx="2348.7" cy="371" r="12.5"/><circle cx="2350" cy="591.3" r="12.5"/><circle cx="2351.2" cy="567" r="12.5"/><circle cx="2352.4" cy="408.6" r="12.5"/><circle cx="2353.6" cy="548.8" r="12.5"/><circle cx="2354.8" cy="599.8" r="12.5"/><circle cx="2356.1" cy="368.8" r="12.5"/><circle cx="2357.3" cy="431" r="12.5"/><circle cx="2358.5" cy="396.4" r="12.5"/><circle cx="2359.7" cy="402.5" r="12.5"/><circle cx="2361" cy="399.7" r="12.5"/><circle cx="2362.2" cy="382.4" r="12.5"/><circle cx="2363.4" cy="469.9" r="12.5"/><circle cx="2364.6" cy="376.1" r="12.5"/><circle cx="2365.8" cy="353.4" r="12.5"/><circle cx="2367.1" cy="369.1" r="12.5"/><circle cx="2368.3" cy="390" r="12.5"/><circle cx="2369.5" cy="594" r="12.5"/><circle cx="2370.7" cy="353.2" r="12.5"/><circle cx="2372" cy="434.9" r="12.5"/><circle cx="2373.2" cy="591.6" r="12.5"/><circle cx="2374.4" cy="417.8" r="12.5"/><circle cx="2375.6" cy="504.1" r="12.5"/><circle cx="2376.8" cy="406.3" r="12.5"/><circle cx="2378.1" cy="394" r="12.5"/><circle cx="2379.3" cy="433.4" r="12.5"/><circle cx="2380.5" cy="445.4" r="12.5"/><circle cx="2381.7" cy="398.3" r="12.5"/><circle cx="2383" cy="416.7" r="12.5"/><circle cx="2384.2" cy="530" r="12.5"/><circle cx="2385.4" cy="346" r="12.5"/><circle cx="2386.6" cy="446.5" r="12.5"/><circle cx="2387.8" cy="421.4" r="12.5"/><circle cx="2389.1" cy="404.5" r="12.5"/><circle cx="2390.3" cy="392.8" r="12.5"/><circle cx="2391.5" cy="387.6" r="12.5"/><circle cx="2392.7" cy="401.8" r="12.5"/><circle cx="2394" cy="412.5" r="12.5"/><circle cx="2395.2" cy="393.7" r="12.5"/><circle cx="2396.4" cy="399.1" r="12.5"/><circle cx="2397.6" cy="433.1" r="12.5"/><circle cx="2398.8" cy="593.2" r="12.5"/><circle cx="2400.1" cy="525.2" r="12.5"/><circle cx="2401.3" cy="418.7" r="12.5"/><circle cx="2402.5" cy="428" r="12.5"/><circle cx="2403.7" cy="436.4" r="12.5"/><circle cx="2405" cy="423" r="12.5"/><circle cx="2406.2" cy="413.3" r="12.5"/><circle cx="2407.4" cy="362.5" r="12.5"/><circle cx="2408.6" cy="403.9" r="12.5"/><circle cx="2409.8" cy="429.9" r="12.5"/><circle cx="2411.1" cy="468.6" r="12.5"/><circle cx="2412.3" cy="530.2" r="12.5"/><circle cx="2413.5" cy="363.4" r="12.5"/><circle cx="2414.7" cy="420.6" r="12.5"/><circle cx="2416" cy="444.6" r="12.5"/><circle cx="2417.2" cy="389" r="12.5"/><circle cx="2418.4" cy="463.5" r="12.5"/><circle cx="2419.6" cy="404.1" r="12.5"/><circle cx="2420.8" cy="382.9" r="12.5"/><circle cx="2422.1" cy="423.2" r="12.5"/><circle cx="2423.3" cy="559.2" r="12.5"/><circle cx="2424.5" cy="405.6" r="12.5"/><circle cx="2425.7" cy="393.1" r="12.5"/><circle cx="2427" cy="440.2" r="12.5"/><circle cx="2428.2" cy="424.9" r="12.5"/><circle cx="2429.4" cy="413.2" r="12.5"/><circle cx="2430.6" cy="413.8" r="12.5"/><circle cx="2431.8" cy="448.6" r="12.5"/><circle cx="2433.1" cy="414.3" r="12.5"/><circle cx="2434.3" cy="395.4" r="12.5"/><circle cx="2435.5" cy="435.2" r="12.5"/><circle cx="2436.7" cy="376.5" r="12.5"/><circle cx="2438" cy="401.6" r="12.5"/><circle cx="2439.2" cy="424" r="12.5"/><circle cx="2440.4" cy="441.8" r="12.5"/><circle cx="2441.6" cy="415.2" r="12.5"/><circle cx="2442.8" cy="367.3" r="12.5"/><circle cx="2444.1" cy="345.7" r="12.5"/><circle cx="2445.3" cy="404.6" r="12.5"/><circle cx="2446.5" cy="387.9" r="12.5"/><circle cx="2447.7" cy="407.5" r="12.5"/><circle cx="2449" cy="617.7" r="12.5"/><circle cx="2450.2" cy="375.8" r="12.5"/><circle cx="2451.4" cy="376.6" r="12.5"/><circle cx="2452.6" cy="412.4" r="12.5"/><circle cx="2453.8" cy="403.4" r="12.5"/><circle cx="2455.1" cy="473.5" r="12.5"/><circle cx="2456.3" cy="383.9" r="12.5"/><circle cx="2457.5" cy="462.2" r="12.5"/><circle cx="2458.7" cy="403.8" r="12.5"/><circle cx="2460" cy="423.8" r="12.5"/><circle cx="2461.2" cy="447.1" r="12.5"/><circle cx="2462.4" cy="361" r="12.5"/><circle cx="2463.6" cy="384.7" r="12.5"/><circle cx="2464.8" cy="360.9" r="12.5"/><circle cx="2466.1" cy="353.1" r="12.5"/><circle cx="2467.3" cy="375.1" r="12.5"/><circle cx="2468.5" cy="413" r="12.5"/><circle cx="2469.7" cy="362.9" r="12.5"/><circle cx="2471" cy="330.3" r="12.5"/><circle cx="2472.2" cy="591.7" r="12.5"/><circle cx="2473.4" cy="425" r="12.5"/><circle cx="2474.6" cy="416.4" r="12.5"/><circle cx="2475.8" cy="410.5" r="12.5"/><circle cx="2477.1" cy="388" r="12.5"/><circle cx="2478.3" cy="422.2" r="12.5"/><circle cx="2479.5" cy="381.6" r="12.5"/><circle cx="2480.7" cy="435.4" r="12.5"/><circle cx="2482" cy="436.4" r="12.5"/><circle cx="2483.2" cy="420.5" r="12.5"/><circle cx="2484.4" cy="447.4" r="12.5"/><circle cx="2485.6" cy="386.2" r="12.5"/><circle cx="2486.8" cy="439.8" r="12.5"/><circle cx="2488.1" cy="424.1" r="12.5"/><circle cx="2489.3" cy="414.8" r="12.5"/><circle cx="2490.5" cy="443.1" r="12.5"/><circle cx="2491.7" cy="413.6" r="12.5"/><circle cx="2493" cy="437.4" r="12.5"/><circle cx="2494.2" cy="387.4" r="12.5"/><circle cx="2495.4" cy="342.9" r="12.5"/><circle cx="2496.6" cy="484.3" r="12.5"/><circle cx="2497.8" cy="387.8" r="12.5"/><circle cx="2499.1" cy="393.7" r="12.5"/><circle cx="2500.3" cy="400.2" r="12.5"/><circle cx="2501.5" cy="417.7" r="12.5"/><circle cx="2502.7" cy="350.5" r="12.5"/><circle cx="2504" cy="405.1" r="12.5"/><circle cx="2505.2" cy="329" r="12.5"/><circle cx="2506.4" cy="410.9" r="12.5"/><circle cx="2507.6" cy="422.8" r="12.5"/><circle cx="2508.8" cy="370.1" r="12.5"/><circle cx="2510.1" cy="399.8" r="12.5"/><circle cx="2511.3" cy="401.6" r="12.5"/><circle cx="2512.5" cy="440" r="12.5"/><circle cx="2513.7" cy="388.2" r="12.5"/><circle cx="2515" cy="491" r="12.5"/><circle cx="2516.2" cy="375.1" r="12.5"/><circle cx="2517.4" cy="434.7" r="12.5"/><circle cx="2518.6" cy="409.6" r="12.5"/><circle cx="2519.8" cy="385.1" r="12.5"/><circle cx="2521.1" cy="617.7" r="12.5"/><circle cx="2522.3" cy="417.5" r="12.5"/><circle cx="2523.5" cy="365.1" r="12.5"/><circle cx="2524.7" cy="382.4" r="12.5"/><circle cx="2526" cy="397.8" r="12.5"/><circle cx="2527.2" cy="380.5" r="12.5"/><circle cx="2528.4" cy="385.4" r="12.5"/><circle cx="2529.6" cy="408.1" r="12.5"/><circle cx="2530.8" cy="406.7" r="12.5"/><circle cx="2532.1" cy="402.8" r="12.5"/><circle cx="2533.3" cy="503.3" r="12.5"/><circle cx="2534.5" cy="396.2" r="12.5"/><circle cx="2535.7" cy="432.9" r="12.5"/><circle cx="2537" cy="499.9" r="12.5"/><circle cx="2538.2" cy="382.9" r="12.5"/><circle cx="2539.4" cy="415.8" r="12.5"/><circle cx="2540.6" cy="390.1" r="12.5"/><circle cx="2541.8" cy="371.3" r="12.5"/><circle cx="2543.1" cy="413.7" r="12.5"/><circle cx="2544.3" cy="375.4" r="12.5"/><circle cx="2545.5" cy="378.1" r="12.5"/><circle cx="2546.7" cy="407.5" r="12.5"/><circle cx="2548" cy="399.3" r="12.5"/><circle cx="2549.2" cy="363.5" r="12.5"/><circle cx="2550.4" cy="406.2" r="12.5"/><circle cx="2551.6" cy="615.2" r="12.5"/><circle cx="2552.8" cy="398.7" r="12.5"/><circle cx="2554.1" cy="387.5" r="12.5"/><circle cx="2555.3" cy="403.2" r="12.5"/><circle cx="2556.5" cy="420.5" r="12.5"/><circle cx="2557.7" cy="374.9" r="12.5"/><circle cx="2559" cy="376.3" r="12.5"/><circle cx="2560.2" cy="353.5" r="12.5"/><circle cx="2561.4" cy="390.4" r="12.5"/><circle cx="2562.6" cy="443.2" r="12.5"/><circle cx="2563.8" cy="406.6" r="12.5"/><circle cx="2565.1" cy="494.3" r="12.5"/><circle cx="2566.3" cy="385.8" r="12.5"/><circle cx="2567.5" cy="442.5" r="12.5"/><circle cx="2568.7" cy="398.5" r="12.5"/><circle cx="2570" cy="386.4" r="12.5"/><circle cx="2571.2" cy="560.2" r="12.5"/><circle cx="2572.4" cy="401.6" r="12.5"/><circle cx="2573.6" cy="396.1" r="12.5"/><circle cx="2574.8" cy="444.4" r="12.5"/><circle cx="2576.1" cy="412.4" r="12.5"/><circle cx="2577.3" cy="391.3" r="12.5"/><circle cx="2578.5" cy="480.2" r="12.5"/><circle cx="2579.7" cy="388.9" r="12.5"/><circle cx="2581" cy="387.5" r="12.5"/><circle cx="2582.2" cy="385.6" r="12.5"/><circle cx="2583.4" cy="401" r="12.5"/><circle cx="2584.6" cy="375.9" r="12.5"/><circle cx="2585.8" cy="356.1" r="12.5"/><circle cx="2587.1" cy="411.1" r="12.5"/><circle cx="2588.3" cy="416.5" r="12.5"/><circle cx="2589.5" cy="366.6" r="12.5"/><circle cx="2590.7" cy="405.2" r="12.5"/><circle cx="2592" cy="373" r="12.5"/><circle cx="2593.2" cy="387.2" r="12.5"/><circle cx="2594.4" cy="423" r="12.5"/><circle cx="2595.6" cy="429.8" r="12.5"/><circle cx="2596.8" cy="411.7" r="12.5"/><circle cx="2598.1" cy="396.7" r="12.5"/><circle cx="2599.3" cy="374.5" r="12.5"/><circle cx="2600.5" cy="376.4" r="12.5"/><circle cx="2601.7" cy="371.8" r="12.5"/><circle cx="2603" cy="377.5" r="12.5"/><circle cx="2604.2" cy="383.2" r="12.5"/><circle cx="2605.4" cy="404.3" r="12.5"/><circle cx="2606.6" cy="391.1" r="12.5"/><circle cx="2607.8" cy="415.6" r="12.5"/><circle cx="2609.1" cy="399.1" r="12.5"/><circle cx="2610.3" cy="400.3" r="12.5"/><circle cx="2611.5" cy="378.4" r="12.5"/><circle cx="2612.7" cy="354.4" r="12.5"/><circle cx="2614" cy="436.9" r="12.5"/><circle cx="2615.2" cy="380.2" r="12.5"/><circle cx="2616.4" cy="403.2" r="12.5"/><circle cx="2617.6" cy="418.6" r="12.5"/><circle cx="2618.8" cy="346.6" r="12.5"/><circle cx="2620.1" cy="408.5" r="12.5"/><circle cx="2621.3" cy="395.6" r="12.5"/><circle cx="2622.5" cy="397" r="12.5"/><circle cx="2623.7" cy="398.5" r="12.5"/><circle cx="2625" cy="379.1" r="12.5"/><circle cx="2626.2" cy="353.2" r="12.5"/><circle cx="2627.4" cy="345.4" r="12.5"/><circle cx="2628.6" cy="377.3" r="12.5"/><circle cx="2629.8" cy="427.5" r="12.5"/><circle cx="2631.1" cy="346.6" r="12.5"/><circle cx="2632.3" cy="346" r="12.5"/><circle cx="2633.5" cy="393.9" r="12.5"/><circle cx="2634.7" cy="360.6" r="12.5"/><circle cx="2636" cy="394.8" r="12.5"/><circle cx="2637.2" cy="367.4" r="12.5"/><circle cx="2638.4" cy="374.6" r="12.5"/><circle cx="2639.6" cy="360.9" r="12.5"/><circle cx="2640.8" cy="421.2" r="12.5"/><circle cx="2642.1" cy="482.2" r="12.5"/><circle cx="2643.3" cy="442.1" r="12.5"/><circle cx="2644.5" cy="452" r="12.5"/><circle cx="2645.7" cy="354.4" r="12.5"/><circle cx="2647" cy="424.9" r="12.5"/><circle cx="2648.2" cy="439.1" r="12.5"/><circle cx="2649.4" cy="382.4" r="12.5"/></g>
<path d="M234 495.8 237.6 453.1 241.1 424.7 243.8 421.2 246.4 412.4 249.1 406.7 251.8 405.8 254.7 413.9 257.7 429.5 260.8 457 264 478.3 267.2 502.9 270.1 473.3 273.1 445.7 276 418.3 279 393.9 282.1 393.8 285.3 397.3 288.5 401 291.2 406.4 294 417.6 296.8 431.8 299.4 415.4 302 417.2 304.6 412.6 307.2 401.1 309.8 396.3 313.3 410 316.9 412.9 319.7 402.4 322.6 398.5 325.4 396 328.2 385.2 331.1 377.4 334.6 385.7 338.2 401 341.3 409.3 344.5 413.4 347.7 422.4 350.8 419.5 354 411 357.1 401 360.3 407 363.4 417.1 366.6 422.4 369.8 422 372.9 412.5 376.1 401 379.2 428 382.4 447.4 385.6 472.1 388.7 467.9 391.9 465.6 395 467.3 399.8 403.4 402.9 405.8 406.1 395.7 409.2 398.7 412.1 399.2 414.9 403 417.8 389.2 420.6 396.1 423.4 393.9 426.3 402.5 429.1 418.8 432 434.2 434.8 440.9 437.6 457.9 442.4 453.1 447.1 410.5 450 403.1 452.8 404.9 455.6 405.5 458.5 401.1 461.3 401 464.5 406.4 467.6 422.5 470.8 429.5 474.4 405.8 477.9 391.6 481.5 397.4 485 415.2 487.8 416.9 490.7 426.6 493.5 417.3 496.4 420.4 499.2 422.4 502.4 410.9 505.5 405.5 508.7 401 511.8 412 515 433.5 518.2 448.4 521.3 424.1 524.5 402.4 527.6 384.5 530.8 401.4 533.9 405.2 537.1 424.7 540.3 415.6 543.4 398.5 546.6 386.8 549.5 388.2 552.5 397.2 555.5 401.5 558.4 408.1 561.3 417.3 564.1 423.2 566.9 439.7 569.8 444.4 572.6 448.4 575.6 440.9 578.5 419.6 581.5 411.3 584.5 401 587.3 409.5 590.1 410.9 593 412.3 595.8 415.7 598.7 420 601.6 416.4 604.6 396.7 607.5 393.2 610.5 389.2 613.3 390.9 616 408.7 618.8 406 621.6 418 624.3 432 627.1 434.2 629.8 429.1 632.5 427.8 635.2 423 637.9 421.9 640.6 424.4 643.3 407 646 408.1 648.9 411.1 651.7 421.4 654.6 427.6 657.4 420.4 660.2 424.7 663.2 429 666.2 425 669.1 423.6 672.1 420 674.8 408.6 677.6 402.2 680.4 403.9 683.1 397.3 685.9 391.9 688.7 386.8 691.4 390.7 694.1 410.2 696.8 412.4 699.5 432.9 702.2 429.8 704.9 441 707.6 448.4 710.4 442.9 713.3 429.9 716.1 418.7 719 411.9 721.8 405.8 725 403.4 728.1 398.9 731.3 398.7 734 406.7 736.7 396.5 739.4 401.7 742.1 401.9 744.8 399.4 747.5 394.3 750.2 398.7 753.2 397.7 756.1 396.5 759.1 390.5 762.1 386.8 764.8 393 767.5 390.2 770.2 400.6 772.9 410.4 775.6 418 778.3 426.4 781 429.5 783.8 421.1 786.7 415.9 789.5 404 792.4 403.6 795.2 393.9 798.2 412.8 801.1 425.4 804.1 445.8 807.1 457.9 809.9 440.1 812.7 422.7 815.6 406.9 818.4 399.6 821.3 375 824.2 388 827.2 414.8 830.1 432.2 833.1 453.1 835.8 440.5 838.6 421.1 841.3 417 844 401 847.2 414.7 850.3 422.1 853.5 434.2 856.2 424.2 859 417.9 861.8 413.2 864.5 394.9 867.3 398.4 870 384.5 873 395.6 876 412.7 878.9 418.4 881.9 434.2 884.7 435 887.6 421.1 890.4 420.1 893.3 403.4 896.1 398.7 898.9 395.4 901.6 401.8 904.4 399.3 907.1 397 909.9 399.9 912.7 393.9 916.2 411.2 919.8 424.7 922.7 413.4 925.7 397.1 928.7 385.4 931.6 384.5 934.8 388.8 937.9 390.1 941.1 389.2 944.2 396.8 947.4 413.7 950.6 422.4 953.7 414.6 956.9 408.5 960 401 963.6 419.3 967.1 429.5 970 414.3 972.8 413.1 975.7 404.8 978.5 392.9 981.3 384.5 984.2 388.6 987 386.7 989.9 395.2 992.7 400.5 995.6 401 998.5 419.2 1001.5 428 1004.4 448.9 1007.4 460.2 1010.2 457.3 1012.9 454.5 1015.7 447.3 1018.4 445.6 1021.2 439.5 1024 434.2 1027.1 431.6 1030.3 407.9 1033.4 396.3 1036.4 400.5 1039.4 395.2 1042.3 388.7 1045.3 393.9 1048.8 398.4 1052.4 398.7 1055.9 427.5 1059.5 446 1062.6 436.6 1065.8 424.1 1069 408.1 1072.5 421.6 1076.1 441.3 1079.6 429.7 1083.2 415.2 1086.7 426.4 1090.3 448.4 1093.4 445.5 1096.6 434.3 1099.7 417.6 1102.7 410 1105.7 409.1 1108.6 402.1 1111.6 403.4 1114.3 409.2 1117.1 419.1 1119.9 424.9 1122.6 436.4 1125.4 449.6 1128.2 455.5 1131.3 434.8 1134.5 419.1 1137.6 396.3 1140.5 395.8 1143.3 396.9 1146.2 391.3 1149 400.2 1151.8 396.3 1155 388.7 1158.2 388.7 1161.3 386.8 1164.2 387.9 1167 401.3 1169.8 401.2 1172.7 413.9 1175.5 417.6 1178.5 435.6 1181.4 439.3 1184.4 438.8 1187.4 457.9 1190.2 449.2 1193 433.2 1195.9 422.2 1198.7 408.6 1201.6 393.9 1204.3 409.9 1207.1 420.3 1209.9 427 1212.6 433.3 1215.4 449 1218.1 460.2 1221.1 449.9 1224.1 425.7 1227 420.2 1230 405.8 1232.9 407.6 1235.9 428.3 1238.9 440.1 1241.8 441.3 1244.8 432.6 1247.7 415 1250.7 407.4 1253.7 391.6 1256.5 399.1 1259.3 402.4 1262.2 403.3 1265 403.8 1267.9 401 1270.6 402 1273.4 410.4 1276.2 417.4 1278.9 420.4 1281.7 417.1 1284.4 429.5 1287.6 432.2 1290.8 433.1 1293.9 438.9 1297.1 429 1300.2 418.5 1303.4 405.8 1306.2 396.4 1309.1 395.4 1311.9 395.3 1314.8 386.6 1317.6 386.8 1320.6 395.8 1323.5 401.4 1326.5 410.8 1329.4 422.4 1332.6 419 1335.8 407.8 1338.9 401 1342.5 407.3 1346 417.6 1349 418.7 1351.9 405.9 1354.9 401.7 1357.9 396.3 1361.4 426.2 1365 455.5 1367.9 456.7 1370.9 435.7 1373.8 425.4 1376.8 410.5 1379.8 419.3 1382.7 434.2 1385.7 445.5 1388.6 450.8 1391.8 429.6 1395 419.6 1398.1 401 1401 407.4 1403.8 407.7 1406.6 400.8 1409.5 408.7 1412.3 398.7 1415.3 405.6 1418.2 422.1 1421.2 429.5 1424.2 436.6 1427.1 421.3 1430.1 418.4 1433 397.9 1436 391.6 1438.6 400.7 1441.1 414.5 1443.7 421.5 1446.3 442.6 1448.9 447.5 1451.4 455.8 1454 472.1 1457.2 463.1 1460.3 451.8 1463.5 441.3 1466.4 429.5 1469.4 424 1472.4 422.1 1475.3 410.5 1478.3 428.9 1481.2 434 1484.2 459.1 1487.2 469.7 1490.1 456.2 1493.1 439.2 1496 414.8 1499 398.7 1502.1 406.1 1505.3 419.1 1508.5 429.5 1513.2 391.6 1516.2 396.9 1519.1 406.2 1522.1 412.5 1525 422.4 1528 415 1531 407.7 1533.9 403.3 1536.9 396.3 1539.8 405.6 1542.8 412.2 1545.8 419.3 1548.7 429.5 1551.9 430 1555 420.9 1558.2 410.5 1561.7 411.6 1565.3 408.1 1568.5 424.6 1571.6 450.5 1574.8 467.3 1577.7 448.1 1580.7 432.2 1583.6 411.8 1586.6 391.6 1589.8 414.7 1592.9 417.2 1596.1 429.5 1599.2 413 1602.4 408.9 1605.6 391.6 1608.4 409.8 1611.2 423.8 1614.1 421.1 1616.9 441.1 1619.8 457.9 1622.9 439 1626.1 419.9 1629.2 410.5 1631.9 414.3 1634.6 419.5 1637.3 424.2 1640.1 426.6 1642.8 426 1645.5 435.3 1648.2 431.8 1651.1 422.9 1654.1 400.5 1657.1 400.5 1660 391.6 1662.8 387.4 1665.5 390.7 1668.3 386.4 1671.1 385.6 1673.8 391.3 1676.6 384.5 1679.7 390.1 1682.9 396.3 1686.1 410.5 1689 407.9 1692 406 1694.9 399.4 1697.9 396.3 1700.7 404.5 1703.4 410.4 1706.2 415.7 1709 426.3 1711.7 433.3 1714.5 446 1717.4 445.6 1720.4 434.2 1723.4 435.7 1726.3 424.7 1729.5 433.5 1732.6 439.8 1735.8 453.1 1738.8 440.2 1741.7 426.6 1744.7 417.6 1747.6 398.7 1750.4 394.3 1753.2 404.7 1755.9 412 1758.7 411.3 1761.4 418.8 1764.2 422.4 1767.2 415.7 1770.1 417.4 1773.1 411.4 1776 401 1779.2 406.8 1782.4 423.1 1785.5 443.7 1788.5 433.2 1791.4 429.1 1794.4 421.6 1797.4 415.2 1800.5 421.7 1803.7 435 1806.8 441.3 1809.8 431.7 1812.7 415.6 1815.7 400.9 1818.7 389.2 1821.5 387.8 1824.4 382.9 1827.2 388.2 1830 386.8 1832.9 382.1 1835.8 385.9 1838.8 403.3 1841.8 404.9 1844.7 412.9 1847.7 432.7 1850.6 446 1853.6 461.8 1856.6 479.2 1859.5 456.6 1862.5 424.2 1865.4 401.8 1868.4 377.4 1871.4 384.9 1874.3 404.2 1877.3 413.7 1880.2 427.1 1883.2 418.6 1886.2 410.7 1889.1 408.3 1892.1 398.7 1894.9 405.9 1897.8 410 1900.6 415.2 1903.4 430.5 1906.3 429.5 1909 432.3 1911.8 418.5 1914.6 424.8 1917.3 418.9 1920.1 414.9 1922.9 410.5 1926 420.1 1929.2 420.7 1932.3 434.2 1935 437.4 1937.7 429 1940.5 414 1943.2 407.2 1945.9 401 1948.6 390.9 1951.3 386.8 1953.9 395.5 1956.6 399.7 1959.3 402 1961.9 410.8 1964.6 416.7 1967.3 423.4 1969.9 431 1972.6 438.9 1975.5 433.7 1978.5 421.7 1981.5 409.1 1984.4 408.1 1987.6 422.5 1990.7 423 1993.9 434.2 1997.1 428.9 2000.2 412.9 2003.4 401 2006.3 412 2009.3 415.2 2012.3 427.9 2015.2 436.6 2018.8 412.4 2022.3 391.6 2025.5 415.7 2028.6 442.3 2031.8 465 2034.7 447.9 2037.7 437.4 2040.7 412.9 2043.6 403.4 2046.2 403.7 2048.7 414.5 2051.3 419.6 2053.8 426.6 2056.4 433.5 2058.9 433.5 2061.5 439.5 2064 441.3 2067.2 435.1 2070.3 427.6 2073.5 420 2076.2 415.2 2079 411.7 2081.8 404.7 2084.5 402 2087.3 401.5 2090 393.9 2093 406 2096 418.7 2098.9 422.2 2101.9 434.2 2104.8 430.3 2107.8 431.2 2110.8 423.6 2113.7 424.7 2116.7 426.4 2119.6 437.8 2122.6 439.4 2125.6 446 2128.7 432.9 2131.9 413.2 2135 396.3 2138.2 408.7 2141.4 420.4 2144.5 438.9 2147.7 436.5 2150.8 424.3 2154 417.6 2157.5 426.9 2161.1 443.7 2164.2 422.5 2167.4 408.5 2170.6 398.7 2175.3 462.6 2178.5 445.8 2181.6 437.4 2184.8 417.6 2187.7 425 2190.7 441.1 2193.6 452 2196.6 462.6 2199.6 433 2202.5 425.2 2205.5 417.6 2208.4 398.7 2211.6 394.8 2214.8 412.4 2217.9 412.9 2221.1 404.7 2224.2 389.9 2227.4 389.2 2230.2 397.1 2232.9 389.9 2235.7 397.6 2238.4 392.8 2241.2 389.7 2244 393.9 2246.9 410.5 2249.9 425.7 2252.8 436 2255.8 443.7 2258.8 427.2 2261.7 423.3 2264.7 404.8 2267.6 398.7 2270.6 394.7 2273.6 401.4 2276.5 388.9 2279.5 393.9 2282.6 415.5 2285.8 410.9 2289 429.5 2292.1 414.3 2295.3 413.1 2298.4 401 2301.6 403.7 2304.7 407.9 2307.9 412.9 2311.1 400.8 2314.2 399.6 2317.4 389.2 2320.1 396.8 2322.8 402.6 2325.5 406.8 2328.2 411.1 2330.9 424.2 2333.6 422.5 2336.3 438.9 2339.1 424.8 2341.8 418.9 2344.6 408.1 2347.4 392.6 2350.1 372.7 2352.9 372.6 2356.1 387 2359.2 401 2362.4 410.5 2365.5 403.2 2368.7 401.1 2371.8 389.2 2375 395.3 2378.2 386.7 2381.3 396.3 2384 399.7 2386.7 403.4 2389.4 416.5 2392.1 419.2 2394.8 420 2397.5 426.6 2400.3 429.5 2403.4 426.3 2406.6 413.5 2409.7 410.5 2413.3 428.3 2416.8 448.4 2419.6 439.7 2422.4 430.5 2425.1 423 2427.9 417.4 2430.6 403.2 2433.4 401 2436.4 398.9 2439.3 409.7 2442.3 415.7 2445.2 412.9 2448.2 415.3 2451.2 395.8 2454.1 399.8 2457.1 393.9 2460.2 402.7 2463.4 416.6 2466.6 431.8 2471.3 401 2474.5 410.7 2477.6 424.3 2480.8 434.2 2483.9 428.9 2487.1 409.7 2490.2 412.9 2493.2 420 2496.2 437 2499.1 443.1 2502.1 453.1 2505 434.8 2508 426.2 2511 415.6 2513.9 408.1 2516.9 408.8 2519.8 408.9 2522.8 394.3 2525.8 396.3 2528.7 406.2 2531.7 411.2 2534.6 423 2537.6 429.5 2540.6 419.7 2543.5 407.8 2546.5 401.4 2549.4 396.3 2552.4 396.6 2555.4 408.8 2558.3 403.3 2561.3 410.5 2564.2 409.3 2567.2 400.6 2570.2 398.3 2573.1 398.7 2575.8 403.4 2578.5 404.6 2581.2 419.3 2583.9 421.1 2586.6 415.5 2589.4 426.6 2592.1 429.5 2595 427.3 2598 408.6 2600.9 404.1 2603.9 398.7 2606.7 404.1 2609.6 394.7 2612.4 400.7 2615.3 397.8 2618.1 398.7 2621 414.5 2623.8 425.1 2626.6 444.7 2629.5 458.8 2632.3 476.8 2637.1 424.7 2639.5 427.5 2642 419.2 2644.4 413.2 2646.9 408.9 2649.4 405.8" fill="none" stroke="#4477AA" stroke-width="16.5" stroke-linejoin="round" stroke-linecap="round"/>
</g>
<g clip-path="url(#cb)">
<g class="sc" stroke="#AA3377"><circle cx="234.3" cy="1201.6" r="12.5"/><circle cx="235.5" cy="1115.6" r="12.5"/><circle cx="236.7" cy="1137.6" r="12.5"/><circle cx="238" cy="1126.9" r="12.5"/><circle cx="239.2" cy="1257.3" r="12.5"/><circle cx="240.4" cy="1144" r="12.5"/><circle cx="241.6" cy="1219.1" r="12.5"/><circle cx="242.9" cy="1123.8" r="12.5"/><circle cx="244.1" cy="1215.8" r="12.5"/><circle cx="245.3" cy="1135.7" r="12.5"/><circle cx="246.5" cy="1085.8" r="12.5"/><circle cx="247.7" cy="1146.2" r="12.5"/><circle cx="249" cy="1157.4" r="12.5"/><circle cx="250.2" cy="1094.6" r="12.5"/><circle cx="251.4" cy="1133.8" r="12.5"/><circle cx="252.6" cy="1206.8" r="12.5"/><circle cx="253.9" cy="1156.2" r="12.5"/><circle cx="255.1" cy="1108.5" r="12.5"/><circle cx="256.3" cy="1129.1" r="12.5"/><circle cx="257.5" cy="1130.5" r="12.5"/><circle cx="258.7" cy="1148.3" r="12.5"/><circle cx="260" cy="1137.2" r="12.5"/><circle cx="261.2" cy="1130.1" r="12.5"/><circle cx="262.4" cy="1128.7" r="12.5"/><circle cx="263.6" cy="1161.5" r="12.5"/><circle cx="264.9" cy="1294.9" r="12.5"/><circle cx="266.1" cy="1154.5" r="12.5"/><circle cx="267.3" cy="1282.7" r="12.5"/><circle cx="268.5" cy="1135.6" r="12.5"/><circle cx="269.7" cy="1175.8" r="12.5"/><circle cx="271" cy="1210.6" r="12.5"/><circle cx="272.2" cy="1144" r="12.5"/><circle cx="273.4" cy="1175.1" r="12.5"/><circle cx="274.6" cy="1201.8" r="12.5"/><circle cx="275.9" cy="1153" r="12.5"/><circle cx="277.1" cy="1150.2" r="12.5"/><circle cx="278.3" cy="1128.7" r="12.5"/><circle cx="279.5" cy="1166" r="12.5"/><circle cx="280.7" cy="1149.7" r="12.5"/><circle cx="282" cy="1150.5" r="12.5"/><circle cx="283.2" cy="1136.2" r="12.5"/><circle cx="284.4" cy="1158.9" r="12.5"/><circle cx="285.6" cy="1190.5" r="12.5"/><circle cx="286.9" cy="1168.3" r="12.5"/><circle cx="288.1" cy="1122.7" r="12.5"/><circle cx="289.3" cy="1142.2" r="12.5"/><circle cx="290.5" cy="1164.3" r="12.5"/><circle cx="291.7" cy="1103.5" r="12.5"/><circle cx="293" cy="1151.1" r="12.5"/><circle cx="294.2" cy="1149.4" r="12.5"/><circle cx="295.4" cy="1112.5" r="12.5"/><circle cx="296.6" cy="1077.8" r="12.5"/><circle cx="297.9" cy="1192.2" r="12.5"/><circle cx="299.1" cy="1182.3" r="12.5"/><circle cx="300.3" cy="1144.2" r="12.5"/><circle cx="301.5" cy="1108.1" r="12.5"/><circle cx="302.7" cy="1163" r="12.5"/><circle cx="304" cy="1137.2" r="12.5"/><circle cx="305.2" cy="1145.7" r="12.5"/><circle cx="306.4" cy="1150.8" r="12.5"/><circle cx="307.6" cy="1179.9" r="12.5"/><circle cx="308.9" cy="1153" r="12.5"/><circle cx="310.1" cy="1083.8" r="12.5"/><circle cx="311.3" cy="1173.1" r="12.5"/><circle cx="312.5" cy="1197.2" r="12.5"/><circle cx="313.7" cy="1133.3" r="12.5"/><circle cx="315" cy="1164.6" r="12.5"/><circle cx="316.2" cy="1307.6" r="12.5"/><circle cx="317.4" cy="1146.6" r="12.5"/><circle cx="318.6" cy="1227.7" r="12.5"/><circle cx="319.9" cy="1135.3" r="12.5"/><circle cx="321.1" cy="1157.6" r="12.5"/><circle cx="322.3" cy="1165.4" r="12.5"/><circle cx="323.5" cy="1141.7" r="12.5"/><circle cx="324.7" cy="1142.8" r="12.5"/><circle cx="326" cy="1179.4" r="12.5"/><circle cx="327.2" cy="1128.9" r="12.5"/><circle cx="328.4" cy="1140.4" r="12.5"/><circle cx="329.6" cy="1217" r="12.5"/><circle cx="330.9" cy="1126.6" r="12.5"/><circle cx="332.1" cy="1157.8" r="12.5"/><circle cx="333.3" cy="1228.8" r="12.5"/><circle cx="334.5" cy="1148.1" r="12.5"/><circle cx="335.7" cy="1162.9" r="12.5"/><circle cx="337" cy="1152.2" r="12.5"/><circle cx="338.2" cy="1242" r="12.5"/><circle cx="339.4" cy="1148.2" r="12.5"/><circle cx="340.6" cy="1094.5" r="12.5"/><circle cx="341.9" cy="1155.8" r="12.5"/><circle cx="343.1" cy="1110.6" r="12.5"/><circle cx="344.3" cy="1153.5" r="12.5"/><circle cx="345.5" cy="1215.1" r="12.5"/><circle cx="346.7" cy="1160.1" r="12.5"/><circle cx="348" cy="1242.9" r="12.5"/><circle cx="349.2" cy="1095.3" r="12.5"/><circle cx="350.4" cy="1155.5" r="12.5"/><circle cx="351.6" cy="1180.3" r="12.5"/><circle cx="352.9" cy="1144.7" r="12.5"/><circle cx="354.1" cy="1140" r="12.5"/><circle cx="355.3" cy="1071.6" r="12.5"/><circle cx="356.5" cy="1184.3" r="12.5"/><circle cx="357.7" cy="1132.6" r="12.5"/><circle cx="359" cy="1140.3" r="12.5"/><circle cx="360.2" cy="1163.4" r="12.5"/><circle cx="361.4" cy="1159.5" r="12.5"/><circle cx="362.6" cy="1176.2" r="12.5"/><circle cx="363.9" cy="1119.3" r="12.5"/><circle cx="365.1" cy="1118.1" r="12.5"/><circle cx="366.3" cy="1143.5" r="12.5"/><circle cx="367.5" cy="1186.6" r="12.5"/><circle cx="368.7" cy="1118.7" r="12.5"/><circle cx="370" cy="1142.8" r="12.5"/><circle cx="371.2" cy="1153.1" r="12.5"/><circle cx="372.4" cy="1141.8" r="12.5"/><circle cx="373.6" cy="1118.8" r="12.5"/><circle cx="374.9" cy="1192.2" r="12.5"/><circle cx="376.1" cy="1168.7" r="12.5"/><circle cx="377.3" cy="1185.2" r="12.5"/><circle cx="378.5" cy="1160.4" r="12.5"/><circle cx="379.7" cy="1121.8" r="12.5"/><circle cx="381" cy="1183.3" r="12.5"/><circle cx="382.2" cy="1189.5" r="12.5"/><circle cx="383.4" cy="1122.2" r="12.5"/><circle cx="384.6" cy="1165.9" r="12.5"/><circle cx="385.9" cy="1154.2" r="12.5"/><circle cx="387.1" cy="1113.7" r="12.5"/><circle cx="388.3" cy="1171.5" r="12.5"/><circle cx="389.5" cy="1148.2" r="12.5"/><circle cx="390.7" cy="1120" r="12.5"/><circle cx="392" cy="1155.7" r="12.5"/><circle cx="393.2" cy="1168.9" r="12.5"/><circle cx="394.4" cy="1184.7" r="12.5"/><circle cx="395.6" cy="1218.5" r="12.5"/><circle cx="396.9" cy="1153.5" r="12.5"/><circle cx="398.1" cy="1100.2" r="12.5"/><circle cx="399.3" cy="1124.1" r="12.5"/><circle cx="400.5" cy="1210.7" r="12.5"/><circle cx="401.7" cy="1127.7" r="12.5"/><circle cx="403" cy="1178.1" r="12.5"/><circle cx="404.2" cy="1144.6" r="12.5"/><circle cx="405.4" cy="1125" r="12.5"/><circle cx="406.6" cy="1129" r="12.5"/><circle cx="407.9" cy="1189" r="12.5"/><circle cx="409.1" cy="1119.3" r="12.5"/><circle cx="410.3" cy="1178.8" r="12.5"/><circle cx="411.5" cy="1160.5" r="12.5"/><circle cx="412.7" cy="1158.2" r="12.5"/><circle cx="414" cy="1130.4" r="12.5"/><circle cx="415.2" cy="1061.5" r="12.5"/><circle cx="416.4" cy="1163.7" r="12.5"/><circle cx="417.6" cy="1139.4" r="12.5"/><circle cx="418.9" cy="1189.3" r="12.5"/><circle cx="420.1" cy="1160.2" r="12.5"/><circle cx="421.3" cy="1107.6" r="12.5"/><circle cx="422.5" cy="1141.7" r="12.5"/><circle cx="423.7" cy="1128.3" r="12.5"/><circle cx="425" cy="1123.7" r="12.5"/><circle cx="426.2" cy="1101.8" r="12.5"/><circle cx="427.4" cy="1122.4" r="12.5"/><circle cx="428.6" cy="1204.2" r="12.5"/><circle cx="429.9" cy="1192.7" r="12.5"/><circle cx="431.1" cy="1125.8" r="12.5"/><circle cx="432.3" cy="1189.1" r="12.5"/><circle cx="433.5" cy="1089.6" r="12.5"/><circle cx="434.7" cy="1104.1" r="12.5"/><circle cx="436" cy="1177" r="12.5"/><circle cx="437.2" cy="1166" r="12.5"/><circle cx="438.4" cy="1119.3" r="12.5"/><circle cx="439.6" cy="1146.6" r="12.5"/><circle cx="440.9" cy="1131.2" r="12.5"/><circle cx="442.1" cy="1141.5" r="12.5"/><circle cx="443.3" cy="1148.4" r="12.5"/><circle cx="444.5" cy="1153.5" r="12.5"/><circle cx="445.7" cy="1189" r="12.5"/><circle cx="447" cy="1145.3" r="12.5"/><circle cx="448.2" cy="1194.2" r="12.5"/><circle cx="449.4" cy="1174.7" r="12.5"/><circle cx="450.6" cy="1117.7" r="12.5"/><circle cx="451.9" cy="1109" r="12.5"/><circle cx="453.1" cy="1197.1" r="12.5"/><circle cx="454.3" cy="1208.5" r="12.5"/><circle cx="455.5" cy="1156.4" r="12.5"/><circle cx="456.7" cy="1154.4" r="12.5"/><circle cx="458" cy="1144" r="12.5"/><circle cx="459.2" cy="1159.7" r="12.5"/><circle cx="460.4" cy="1194.9" r="12.5"/><circle cx="461.6" cy="1144.5" r="12.5"/><circle cx="462.9" cy="1152.2" r="12.5"/><circle cx="464.1" cy="1140.2" r="12.5"/><circle cx="465.3" cy="1185.3" r="12.5"/><circle cx="466.5" cy="1111.2" r="12.5"/><circle cx="467.7" cy="1119.9" r="12.5"/><circle cx="469" cy="1135.3" r="12.5"/><circle cx="470.2" cy="1154.5" r="12.5"/><circle cx="471.4" cy="1205.8" r="12.5"/><circle cx="472.6" cy="1151" r="12.5"/><circle cx="473.9" cy="1129.2" r="12.5"/><circle cx="475.1" cy="1074" r="12.5"/><circle cx="476.3" cy="1107.8" r="12.5"/><circle cx="477.5" cy="1179.1" r="12.5"/><circle cx="478.7" cy="1144" r="12.5"/><circle cx="480" cy="1109.5" r="12.5"/><circle cx="481.2" cy="1144.9" r="12.5"/><circle cx="482.4" cy="1286.6" r="12.5"/><circle cx="483.6" cy="1117.9" r="12.5"/><circle cx="484.9" cy="1146.3" r="12.5"/><circle cx="486.1" cy="1179" r="12.5"/><circle cx="487.3" cy="1096" r="12.5"/><circle cx="488.5" cy="1115.6" r="12.5"/><circle cx="489.7" cy="1178.6" r="12.5"/><circle cx="491" cy="1183.1" r="12.5"/><circle cx="492.2" cy="1147.4" r="12.5"/><circle cx="493.4" cy="1130.4" r="12.5"/><circle cx="494.6" cy="1141.4" r="12.5"/><circle cx="495.9" cy="1135.2" r="12.5"/><circle cx="497.1" cy="1135.3" r="12.5"/><circle cx="498.3" cy="1166.7" r="12.5"/><circle cx="499.5" cy="1194.5" r="12.5"/><circle cx="500.7" cy="1135.6" r="12.5"/><circle cx="502" cy="1132.8" r="12.5"/><circle cx="503.2" cy="1144.6" r="12.5"/><circle cx="504.4" cy="1176" r="12.5"/><circle cx="505.6" cy="1189" r="12.5"/><circle cx="506.9" cy="1118.4" r="12.5"/><circle cx="508.1" cy="1192.6" r="12.5"/><circle cx="509.3" cy="1152.2" r="12.5"/><circle cx="510.5" cy="1171.7" r="12.5"/><circle cx="511.7" cy="1131.7" r="12.5"/><circle cx="513" cy="1146.7" r="12.5"/><circle cx="514.2" cy="1175.8" r="12.5"/><circle cx="515.4" cy="1153.8" r="12.5"/><circle cx="516.6" cy="1165.5" r="12.5"/><circle cx="517.9" cy="1171.3" r="12.5"/><circle cx="519.1" cy="1150.1" r="12.5"/><circle cx="520.3" cy="1211.2" r="12.5"/><circle cx="521.5" cy="1181.4" r="12.5"/><circle cx="522.7" cy="1186.9" r="12.5"/><circle cx="524" cy="1130.9" r="12.5"/><circle cx="525.2" cy="1170.1" r="12.5"/><circle cx="526.4" cy="1127.9" r="12.5"/><circle cx="527.6" cy="1192.5" r="12.5"/><circle cx="528.9" cy="1125.8" r="12.5"/><circle cx="530.1" cy="1126.9" r="12.5"/><circle cx="531.3" cy="1093.8" r="12.5"/><circle cx="532.5" cy="1197.5" r="12.5"/><circle cx="533.7" cy="1161.5" r="12.5"/><circle cx="535" cy="1129.7" r="12.5"/><circle cx="536.2" cy="1150.9" r="12.5"/><circle cx="537.4" cy="1177.8" r="12.5"/><circle cx="538.6" cy="1182.6" r="12.5"/><circle cx="539.9" cy="1137.3" r="12.5"/><circle cx="541.1" cy="1136.7" r="12.5"/><circle cx="542.3" cy="1186" r="12.5"/><circle cx="543.5" cy="1092.7" r="12.5"/><circle cx="544.7" cy="1152.5" r="12.5"/><circle cx="546" cy="1163" r="12.5"/><circle cx="547.2" cy="1165.5" r="12.5"/><circle cx="548.4" cy="1108.8" r="12.5"/><circle cx="549.6" cy="1174.2" r="12.5"/><circle cx="550.9" cy="1197.4" r="12.5"/><circle cx="552.1" cy="1130.6" r="12.5"/><circle cx="553.3" cy="1102.7" r="12.5"/><circle cx="554.5" cy="1159" r="12.5"/><circle cx="555.7" cy="1162.5" r="12.5"/><circle cx="557" cy="1160" r="12.5"/><circle cx="558.2" cy="1150.8" r="12.5"/><circle cx="559.4" cy="1128.9" r="12.5"/><circle cx="560.6" cy="1204.3" r="12.5"/><circle cx="561.9" cy="1141.6" r="12.5"/><circle cx="563.1" cy="1129.2" r="12.5"/><circle cx="564.3" cy="1122.4" r="12.5"/><circle cx="565.5" cy="1139" r="12.5"/><circle cx="566.7" cy="1138" r="12.5"/><circle cx="568" cy="1181.3" r="12.5"/><circle cx="569.2" cy="1145.7" r="12.5"/><circle cx="570.4" cy="1142.2" r="12.5"/><circle cx="571.6" cy="1130.7" r="12.5"/><circle cx="572.9" cy="1142.6" r="12.5"/><circle cx="574.1" cy="1129.9" r="12.5"/><circle cx="575.3" cy="1174.6" r="12.5"/><circle cx="576.5" cy="1172.3" r="12.5"/><circle cx="577.7" cy="1171.2" r="12.5"/><circle cx="579" cy="1138" r="12.5"/><circle cx="580.2" cy="1162" r="12.5"/><circle cx="581.4" cy="1124.7" r="12.5"/><circle cx="582.6" cy="1163.8" r="12.5"/><circle cx="583.9" cy="1150.8" r="12.5"/><circle cx="585.1" cy="1206.9" r="12.5"/><circle cx="586.3" cy="1171" r="12.5"/><circle cx="587.5" cy="1143.3" r="12.5"/><circle cx="588.7" cy="1085.2" r="12.5"/><circle cx="590" cy="1166.7" r="12.5"/><circle cx="591.2" cy="1169.3" r="12.5"/><circle cx="592.4" cy="1169.5" r="12.5"/><circle cx="593.6" cy="1199.5" r="12.5"/><circle cx="594.9" cy="1145.2" r="12.5"/><circle cx="596.1" cy="1132.1" r="12.5"/><circle cx="597.3" cy="1203.7" r="12.5"/><circle cx="598.5" cy="1208.6" r="12.5"/><circle cx="599.7" cy="1157.9" r="12.5"/><circle cx="601" cy="1163.4" r="12.5"/><circle cx="602.2" cy="1174.9" r="12.5"/><circle cx="603.4" cy="1148.3" r="12.5"/><circle cx="604.6" cy="1154.8" r="12.5"/><circle cx="605.9" cy="1193.9" r="12.5"/><circle cx="607.1" cy="1161.8" r="12.5"/><circle cx="608.3" cy="1179.7" r="12.5"/><circle cx="609.5" cy="1200.9" r="12.5"/><circle cx="610.7" cy="1156.9" r="12.5"/><circle cx="612" cy="1134.3" r="12.5"/><circle cx="613.2" cy="1194.2" r="12.5"/><circle cx="614.4" cy="1176.1" r="12.5"/><circle cx="615.6" cy="1152.7" r="12.5"/><circle cx="616.9" cy="1174.6" r="12.5"/><circle cx="618.1" cy="1160.9" r="12.5"/><circle cx="619.3" cy="1162.3" r="12.5"/><circle cx="620.5" cy="1150" r="12.5"/><circle cx="621.7" cy="1332.5" r="12.5"/><circle cx="623" cy="1215.7" r="12.5"/><circle cx="624.2" cy="1130.4" r="12.5"/><circle cx="625.4" cy="1175" r="12.5"/><circle cx="626.6" cy="1108.9" r="12.5"/><circle cx="627.9" cy="1105.8" r="12.5"/><circle cx="629.1" cy="1176.9" r="12.5"/><circle cx="630.3" cy="1114.3" r="12.5"/><circle cx="631.5" cy="1167.8" r="12.5"/><circle cx="632.7" cy="1194.4" r="12.5"/><circle cx="634" cy="1190.5" r="12.5"/><circle cx="635.2" cy="1143.9" r="12.5"/><circle cx="636.4" cy="1124.9" r="12.5"/><circle cx="637.6" cy="1157.6" r="12.5"/><circle cx="638.9" cy="1178.3" r="12.5"/><circle cx="640.1" cy="1122.6" r="12.5"/><circle cx="641.3" cy="1202.2" r="12.5"/><circle cx="642.5" cy="1131.7" r="12.5"/><circle cx="643.7" cy="1161.7" r="12.5"/><circle cx="645" cy="1159.4" r="12.5"/><circle cx="646.2" cy="1136" r="12.5"/><circle cx="647.4" cy="1182.5" r="12.5"/><circle cx="648.6" cy="1126.9" r="12.5"/><circle cx="649.9" cy="1201.2" r="12.5"/><circle cx="651.1" cy="1175.7" r="12.5"/><circle cx="652.3" cy="1171.1" r="12.5"/><circle cx="653.5" cy="1161.1" r="12.5"/><circle cx="654.7" cy="1157.7" r="12.5"/><circle cx="656" cy="1170.8" r="12.5"/><circle cx="657.2" cy="1175.9" r="12.5"/><circle cx="658.4" cy="1189.7" r="12.5"/><circle cx="659.6" cy="1160.9" r="12.5"/><circle cx="660.9" cy="1148.1" r="12.5"/><circle cx="662.1" cy="1150.7" r="12.5"/><circle cx="663.3" cy="1116.1" r="12.5"/><circle cx="664.5" cy="1157.4" r="12.5"/><circle cx="665.7" cy="1110" r="12.5"/><circle cx="667" cy="1146.8" r="12.5"/><circle cx="668.2" cy="1134.6" r="12.5"/><circle cx="669.4" cy="1133.5" r="12.5"/><circle cx="670.6" cy="1104.7" r="12.5"/><circle cx="671.9" cy="1135.3" r="12.5"/><circle cx="673.1" cy="1127.2" r="12.5"/><circle cx="674.3" cy="1163.4" r="12.5"/><circle cx="675.5" cy="1211.8" r="12.5"/><circle cx="676.7" cy="1092.1" r="12.5"/><circle cx="678" cy="1180" r="12.5"/><circle cx="679.2" cy="1129.5" r="12.5"/><circle cx="680.4" cy="1224.1" r="12.5"/><circle cx="681.6" cy="1140.7" r="12.5"/><circle cx="682.9" cy="1130.3" r="12.5"/><circle cx="684.1" cy="1137.9" r="12.5"/><circle cx="685.3" cy="1116.9" r="12.5"/><circle cx="686.5" cy="1139.4" r="12.5"/><circle cx="687.7" cy="1177.9" r="12.5"/><circle cx="689" cy="1136.3" r="12.5"/><circle cx="690.2" cy="1142.6" r="12.5"/><circle cx="691.4" cy="1151.7" r="12.5"/><circle cx="692.6" cy="1169.9" r="12.5"/><circle cx="693.9" cy="1259" r="12.5"/><circle cx="695.1" cy="1146.7" r="12.5"/><circle cx="696.3" cy="1124.8" r="12.5"/><circle cx="697.5" cy="1143.3" r="12.5"/><circle cx="698.7" cy="1147.2" r="12.5"/><circle cx="700" cy="1199.7" r="12.5"/><circle cx="701.2" cy="1150.7" r="12.5"/><circle cx="702.4" cy="1151.8" r="12.5"/><circle cx="703.6" cy="1155.9" r="12.5"/><circle cx="704.9" cy="1130.3" r="12.5"/><circle cx="706.1" cy="1122.5" r="12.5"/><circle cx="707.3" cy="1112.9" r="12.5"/><circle cx="708.5" cy="1126.2" r="12.5"/><circle cx="709.7" cy="1120.8" r="12.5"/><circle cx="711" cy="1110.8" r="12.5"/><circle cx="712.2" cy="1146" r="12.5"/><circle cx="713.4" cy="1130.1" r="12.5"/><circle cx="714.6" cy="1168.7" r="12.5"/><circle cx="715.9" cy="1102.1" r="12.5"/><circle cx="717.1" cy="1150.3" r="12.5"/><circle cx="718.3" cy="1143.2" r="12.5"/><circle cx="719.5" cy="1198.8" r="12.5"/><circle cx="720.7" cy="1100.9" r="12.5"/><circle cx="722" cy="1187.8" r="12.5"/><circle cx="723.2" cy="1153.6" r="12.5"/><circle cx="724.4" cy="1145" r="12.5"/><circle cx="725.6" cy="1196.6" r="12.5"/><circle cx="726.9" cy="1178.1" r="12.5"/><circle cx="728.1" cy="1200.1" r="12.5"/><circle cx="729.3" cy="1144.9" r="12.5"/><circle cx="730.5" cy="1150.4" r="12.5"/><circle cx="731.7" cy="1175.6" r="12.5"/><circle cx="733" cy="1111.4" r="12.5"/><circle cx="734.2" cy="1206.4" r="12.5"/><circle cx="735.4" cy="1132.5" r="12.5"/><circle cx="736.6" cy="1131.3" r="12.5"/><circle cx="737.9" cy="1195.2" r="12.5"/><circle cx="739.1" cy="1141.7" r="12.5"/><circle cx="740.3" cy="1158.5" r="12.5"/><circle cx="741.5" cy="1172.8" r="12.5"/><circle cx="742.7" cy="1164.3" r="12.5"/><circle cx="744" cy="1125.3" r="12.5"/><circle cx="745.2" cy="1214.3" r="12.5"/><circle cx="746.4" cy="1148.6" r="12.5"/><circle cx="747.6" cy="1124.3" r="12.5"/><circle cx="748.9" cy="1162.4" r="12.5"/><circle cx="750.1" cy="1165.3" r="12.5"/><circle cx="751.3" cy="1163.9" r="12.5"/><circle cx="752.5" cy="1150.3" r="12.5"/><circle cx="753.7" cy="1257.8" r="12.5"/><circle cx="755" cy="1130" r="12.5"/><circle cx="756.2" cy="1183.3" r="12.5"/><circle cx="757.4" cy="1098.7" r="12.5"/><circle cx="758.6" cy="1143.9" r="12.5"/><circle cx="759.9" cy="1186.8" r="12.5"/><circle cx="761.1" cy="1141.2" r="12.5"/><circle cx="762.3" cy="1219" r="12.5"/><circle cx="763.5" cy="1196.4" r="12.5"/><circle cx="764.7" cy="1140.7" r="12.5"/><circle cx="766" cy="1122.8" r="12.5"/><circle cx="767.2" cy="1177.7" r="12.5"/><circle cx="768.4" cy="1179.4" r="12.5"/><circle cx="769.6" cy="1119.5" r="12.5"/><circle cx="770.9" cy="1178.8" r="12.5"/><circle cx="772.1" cy="1230" r="12.5"/><circle cx="773.3" cy="1205.6" r="12.5"/><circle cx="774.5" cy="1181" r="12.5"/><circle cx="775.7" cy="1160.9" r="12.5"/><circle cx="777" cy="1149.4" r="12.5"/><circle cx="778.2" cy="1166.5" r="12.5"/><circle cx="779.4" cy="1143.8" r="12.5"/><circle cx="780.6" cy="1168" r="12.5"/><circle cx="781.9" cy="1167.4" r="12.5"/><circle cx="783.1" cy="1198.9" r="12.5"/><circle cx="784.3" cy="1134.6" r="12.5"/><circle cx="785.5" cy="1106.7" r="12.5"/><circle cx="786.7" cy="1145.8" r="12.5"/><circle cx="788" cy="1177.9" r="12.5"/><circle cx="789.2" cy="1165.9" r="12.5"/><circle cx="790.4" cy="1161" r="12.5"/><circle cx="791.6" cy="1185.9" r="12.5"/><circle cx="792.9" cy="1131.7" r="12.5"/><circle cx="794.1" cy="1142.8" r="12.5"/><circle cx="795.3" cy="1211.2" r="12.5"/><circle cx="796.5" cy="1160.7" r="12.5"/><circle cx="797.7" cy="1156.3" r="12.5"/><circle cx="799" cy="1115.6" r="12.5"/><circle cx="800.2" cy="1157.6" r="12.5"/><circle cx="801.4" cy="1168.4" r="12.5"/><circle cx="802.6" cy="1137" r="12.5"/><circle cx="803.9" cy="1177.2" r="12.5"/><circle cx="805.1" cy="1183.6" r="12.5"/><circle cx="806.3" cy="1151.5" r="12.5"/><circle cx="807.5" cy="1129.6" r="12.5"/><circle cx="808.7" cy="1218.4" r="12.5"/><circle cx="810" cy="1118.3" r="12.5"/><circle cx="811.2" cy="1173.5" r="12.5"/><circle cx="812.4" cy="1144" r="12.5"/><circle cx="813.6" cy="1100.4" r="12.5"/><circle cx="814.9" cy="1083.8" r="12.5"/><circle cx="816.1" cy="1115" r="12.5"/><circle cx="817.3" cy="1117.7" r="12.5"/><circle cx="818.5" cy="1172" r="12.5"/><circle cx="819.7" cy="1145.2" r="12.5"/><circle cx="821" cy="1170.8" r="12.5"/><circle cx="822.2" cy="1171.8" r="12.5"/><circle cx="823.4" cy="1171" r="12.5"/><circle cx="824.6" cy="1165.9" r="12.5"/><circle cx="825.9" cy="1188.1" r="12.5"/><circle cx="827.1" cy="1183.4" r="12.5"/><circle cx="828.3" cy="1143" r="12.5"/><circle cx="829.5" cy="1147.4" r="12.5"/><circle cx="830.7" cy="1122.4" r="12.5"/><circle cx="832" cy="1176.3" r="12.5"/><circle cx="833.2" cy="1177.4" r="12.5"/><circle cx="834.4" cy="1172.7" r="12.5"/><circle cx="835.6" cy="1180.5" r="12.5"/><circle cx="836.9" cy="1138.2" r="12.5"/><circle cx="838.1" cy="1176.2" r="12.5"/><circle cx="839.3" cy="1125.3" r="12.5"/><circle cx="840.5" cy="1123.4" r="12.5"/><circle cx="841.7" cy="1135" r="12.5"/><circle cx="843" cy="1231.2" r="12.5"/><circle cx="844.2" cy="1109" r="12.5"/><circle cx="845.4" cy="1167.1" r="12.5"/><circle cx="846.6" cy="1218.7" r="12.5"/><circle cx="847.9" cy="1117.1" r="12.5"/><circle cx="849.1" cy="1143.8" r="12.5"/><circle cx="850.3" cy="1156.9" r="12.5"/><circle cx="851.5" cy="1178.9" r="12.5"/><circle cx="852.7" cy="1139.3" r="12.5"/><circle cx="854" cy="1113.8" r="12.5"/><circle cx="855.2" cy="1213.2" r="12.5"/><circle cx="856.4" cy="1134.8" r="12.5"/><circle cx="857.6" cy="1225.6" r="12.5"/><circle cx="858.9" cy="1191.2" r="12.5"/><circle cx="860.1" cy="1123.7" r="12.5"/><circle cx="861.3" cy="1071.2" r="12.5"/><circle cx="862.5" cy="1100.4" r="12.5"/><circle cx="863.7" cy="1158.3" r="12.5"/><circle cx="865" cy="1179.4" r="12.5"/><circle cx="866.2" cy="1160.7" r="12.5"/><circle cx="867.4" cy="1120.6" r="12.5"/><circle cx="868.6" cy="1144.3" r="12.5"/><circle cx="869.9" cy="1114.3" r="12.5"/><circle cx="871.1" cy="1111.8" r="12.5"/><circle cx="872.3" cy="1132.5" r="12.5"/><circle cx="873.5" cy="1141.6" r="12.5"/><circle cx="874.7" cy="1208.3" r="12.5"/><circle cx="876" cy="1128.8" r="12.5"/><circle cx="877.2" cy="1264.7" r="12.5"/><circle cx="878.4" cy="1163.3" r="12.5"/><circle cx="879.6" cy="1183.1" r="12.5"/><circle cx="880.9" cy="1110.6" r="12.5"/><circle cx="882.1" cy="1174.2" r="12.5"/><circle cx="883.3" cy="1076.4" r="12.5"/><circle cx="884.5" cy="1169.1" r="12.5"/><circle cx="885.7" cy="1232.1" r="12.5"/><circle cx="887" cy="1177.1" r="12.5"/><circle cx="888.2" cy="1187.6" r="12.5"/><circle cx="889.4" cy="1103.5" r="12.5"/><circle cx="890.6" cy="1166.5" r="12.5"/><circle cx="891.9" cy="1154.9" r="12.5"/><circle cx="893.1" cy="1157.1" r="12.5"/><circle cx="894.3" cy="1224.3" r="12.5"/><circle cx="895.5" cy="1164.2" r="12.5"/><circle cx="896.7" cy="1161.3" r="12.5"/><circle cx="898" cy="1122.8" r="12.5"/><circle cx="899.2" cy="1089.7" r="12.5"/><circle cx="900.4" cy="1103.6" r="12.5"/><circle cx="901.6" cy="1149.5" r="12.5"/><circle cx="902.9" cy="1072.5" r="12.5"/><circle cx="904.1" cy="1139.1" r="12.5"/><circle cx="905.3" cy="1117.3" r="12.5"/><circle cx="906.5" cy="1123.1" r="12.5"/><circle cx="907.7" cy="1124.7" r="12.5"/><circle cx="909" cy="1192.6" r="12.5"/><circle cx="910.2" cy="1184" r="12.5"/><circle cx="911.4" cy="1141.4" r="12.5"/><circle cx="912.6" cy="1130.1" r="12.5"/><circle cx="913.9" cy="1171.2" r="12.5"/><circle cx="915.1" cy="1157.3" r="12.5"/><circle cx="916.3" cy="1131.9" r="12.5"/><circle cx="917.5" cy="1102.7" r="12.5"/><circle cx="918.7" cy="1114.9" r="12.5"/><circle cx="920" cy="1145" r="12.5"/><circle cx="921.2" cy="1138.3" r="12.5"/><circle cx="922.4" cy="1149.1" r="12.5"/><circle cx="923.6" cy="1144" r="12.5"/><circle cx="924.9" cy="1164.8" r="12.5"/><circle cx="926.1" cy="1144.1" r="12.5"/><circle cx="927.3" cy="1181.2" r="12.5"/><circle cx="928.5" cy="1114.9" r="12.5"/><circle cx="929.7" cy="1162.8" r="12.5"/><circle cx="931" cy="1147.1" r="12.5"/><circle cx="932.2" cy="1116.1" r="12.5"/><circle cx="933.4" cy="1164.9" r="12.5"/><circle cx="934.6" cy="1137.5" r="12.5"/><circle cx="935.9" cy="1160.6" r="12.5"/><circle cx="937.1" cy="1169.7" r="12.5"/><circle cx="938.3" cy="1083.9" r="12.5"/><circle cx="939.5" cy="1210.4" r="12.5"/><circle cx="940.7" cy="1110" r="12.5"/><circle cx="942" cy="1204.7" r="12.5"/><circle cx="943.2" cy="1094.9" r="12.5"/><circle cx="944.4" cy="1109.7" r="12.5"/><circle cx="945.6" cy="1176.4" r="12.5"/><circle cx="946.9" cy="1176.9" r="12.5"/><circle cx="948.1" cy="1090.8" r="12.5"/><circle cx="949.3" cy="1164.5" r="12.5"/><circle cx="950.5" cy="1138" r="12.5"/><circle cx="951.7" cy="1166.5" r="12.5"/><circle cx="953" cy="1155.3" r="12.5"/><circle cx="954.2" cy="1156.3" r="12.5"/><circle cx="955.4" cy="1120.6" r="12.5"/><circle cx="956.6" cy="1195.3" r="12.5"/><circle cx="957.9" cy="1181.6" r="12.5"/><circle cx="959.1" cy="1153.7" r="12.5"/><circle cx="960.3" cy="1142.4" r="12.5"/><circle cx="961.5" cy="1093.2" r="12.5"/><circle cx="962.7" cy="1157.7" r="12.5"/><circle cx="964" cy="1173.1" r="12.5"/><circle cx="965.2" cy="1128.2" r="12.5"/><circle cx="966.4" cy="1196.9" r="12.5"/><circle cx="967.6" cy="1316.3" r="12.5"/><circle cx="968.9" cy="1118.5" r="12.5"/><circle cx="970.1" cy="1153.7" r="12.5"/><circle cx="971.3" cy="1165.2" r="12.5"/><circle cx="972.5" cy="1153.5" r="12.5"/><circle cx="973.7" cy="1179.5" r="12.5"/><circle cx="975" cy="1169.2" r="12.5"/><circle cx="976.2" cy="1136.1" r="12.5"/><circle cx="977.4" cy="1155" r="12.5"/><circle cx="978.6" cy="1205.4" r="12.5"/><circle cx="979.9" cy="1152.4" r="12.5"/><circle cx="981.1" cy="1159.2" r="12.5"/><circle cx="982.3" cy="1196.2" r="12.5"/><circle cx="983.5" cy="1112.4" r="12.5"/><circle cx="984.7" cy="1081.9" r="12.5"/><circle cx="986" cy="1159.3" r="12.5"/><circle cx="987.2" cy="1147.3" r="12.5"/><circle cx="988.4" cy="1141.6" r="12.5"/><circle cx="989.6" cy="1154.7" r="12.5"/><circle cx="990.9" cy="1176.3" r="12.5"/><circle cx="992.1" cy="1171.8" r="12.5"/><circle cx="993.3" cy="1219.4" r="12.5"/><circle cx="994.5" cy="1156.4" r="12.5"/><circle cx="995.7" cy="1212.6" r="12.5"/><circle cx="997" cy="1152.8" r="12.5"/><circle cx="998.2" cy="1224.8" r="12.5"/><circle cx="999.4" cy="1129.4" r="12.5"/><circle cx="1000.6" cy="1150.6" r="12.5"/><circle cx="1001.9" cy="1277.9" r="12.5"/><circle cx="1003.1" cy="1137.9" r="12.5"/><circle cx="1004.3" cy="1276.1" r="12.5"/><circle cx="1005.5" cy="1156.8" r="12.5"/><circle cx="1006.7" cy="1143.9" r="12.5"/><circle cx="1008" cy="1167" r="12.5"/><circle cx="1009.2" cy="1122" r="12.5"/><circle cx="1010.4" cy="1201.1" r="12.5"/><circle cx="1011.6" cy="1146" r="12.5"/><circle cx="1012.9" cy="1144.4" r="12.5"/><circle cx="1014.1" cy="1138.4" r="12.5"/><circle cx="1015.3" cy="1223" r="12.5"/><circle cx="1016.5" cy="1139.6" r="12.5"/><circle cx="1017.7" cy="1164.7" r="12.5"/><circle cx="1019" cy="1164.3" r="12.5"/><circle cx="1020.2" cy="1142.1" r="12.5"/><circle cx="1021.4" cy="1210.2" r="12.5"/><circle cx="1022.6" cy="1183.8" r="12.5"/><circle cx="1023.9" cy="1117.6" r="12.5"/><circle cx="1025.1" cy="1151.4" r="12.5"/><circle cx="1026.3" cy="1143.5" r="12.5"/><circle cx="1027.5" cy="1099.6" r="12.5"/><circle cx="1028.7" cy="1126.7" r="12.5"/><circle cx="1030" cy="1191" r="12.5"/><circle cx="1031.2" cy="1110.5" r="12.5"/><circle cx="1032.4" cy="1130.9" r="12.5"/><circle cx="1033.6" cy="1118.8" r="12.5"/><circle cx="1034.9" cy="1172.1" r="12.5"/><circle cx="1036.1" cy="1197.7" r="12.5"/><circle cx="1037.3" cy="1144.7" r="12.5"/><circle cx="1038.5" cy="1185.6" r="12.5"/><circle cx="1039.7" cy="1146.6" r="12.5"/><circle cx="1041" cy="1125.4" r="12.5"/><circle cx="1042.2" cy="1218.1" r="12.5"/><circle cx="1043.4" cy="1148.2" r="12.5"/><circle cx="1044.6" cy="1136.1" r="12.5"/><circle cx="1045.9" cy="1130.3" r="12.5"/><circle cx="1047.1" cy="1124.1" r="12.5"/><circle cx="1048.3" cy="1113.5" r="12.5"/><circle cx="1049.5" cy="1172.6" r="12.5"/><circle cx="1050.7" cy="1124" r="12.5"/><circle cx="1052" cy="1161.1" r="12.5"/><circle cx="1053.2" cy="1146.3" r="12.5"/><circle cx="1054.4" cy="1121.1" r="12.5"/><circle cx="1055.6" cy="1109.9" r="12.5"/><circle cx="1056.9" cy="1163.5" r="12.5"/><circle cx="1058.1" cy="1203.7" r="12.5"/><circle cx="1059.3" cy="1134.7" r="12.5"/><circle cx="1060.5" cy="1193.7" r="12.5"/><circle cx="1061.7" cy="1187" r="12.5"/><circle cx="1063" cy="1134.6" r="12.5"/><circle cx="1064.2" cy="1189.2" r="12.5"/><circle cx="1065.4" cy="1157.3" r="12.5"/><circle cx="1066.6" cy="1141.4" r="12.5"/><circle cx="1067.9" cy="1109.4" r="12.5"/><circle cx="1069.1" cy="1092.4" r="12.5"/><circle cx="1070.3" cy="1100.2" r="12.5"/><circle cx="1071.5" cy="1128.3" r="12.5"/><circle cx="1072.7" cy="1115.3" r="12.5"/><circle cx="1074" cy="1145.5" r="12.5"/><circle cx="1075.2" cy="1127.9" r="12.5"/><circle cx="1076.4" cy="1130.7" r="12.5"/><circle cx="1077.6" cy="1065.6" r="12.5"/><circle cx="1078.9" cy="1173.7" r="12.5"/><circle cx="1080.1" cy="1116.9" r="12.5"/><circle cx="1081.3" cy="1145.6" r="12.5"/><circle cx="1082.5" cy="1214.8" r="12.5"/><circle cx="1083.7" cy="1133.5" r="12.5"/><circle cx="1085" cy="1155.4" r="12.5"/><circle cx="1086.2" cy="1130.1" r="12.5"/><circle cx="1087.4" cy="1124.3" r="12.5"/><circle cx="1088.6" cy="1138.9" r="12.5"/><circle cx="1089.9" cy="1168.1" r="12.5"/><circle cx="1091.1" cy="1081.7" r="12.5"/><circle cx="1092.3" cy="1158.5" r="12.5"/><circle cx="1093.5" cy="1178.3" r="12.5"/><circle cx="1094.7" cy="1142.6" r="12.5"/><circle cx="1096" cy="1173.8" r="12.5"/><circle cx="1097.2" cy="1105" r="12.5"/><circle cx="1098.4" cy="1194.2" r="12.5"/><circle cx="1099.6" cy="1179.8" r="12.5"/><circle cx="1100.9" cy="1142.1" r="12.5"/><circle cx="1102.1" cy="1122.4" r="12.5"/><circle cx="1103.3" cy="1145.6" r="12.5"/><circle cx="1104.5" cy="1196.5" r="12.5"/><circle cx="1105.7" cy="1118.6" r="12.5"/><circle cx="1107" cy="1211.4" r="12.5"/><circle cx="1108.2" cy="1142.9" r="12.5"/><circle cx="1109.4" cy="1224.4" r="12.5"/><circle cx="1110.6" cy="1292" r="12.5"/><circle cx="1111.9" cy="1072.3" r="12.5"/><circle cx="1113.1" cy="1184.6" r="12.5"/><circle cx="1114.3" cy="1143" r="12.5"/><circle cx="1115.5" cy="1115.5" r="12.5"/><circle cx="1116.7" cy="1312.6" r="12.5"/><circle cx="1118" cy="1192.6" r="12.5"/><circle cx="1119.2" cy="1165.2" r="12.5"/><circle cx="1120.4" cy="1156.4" r="12.5"/><circle cx="1121.6" cy="1189.6" r="12.5"/><circle cx="1122.9" cy="1178.5" r="12.5"/><circle cx="1124.1" cy="1201.5" r="12.5"/><circle cx="1125.3" cy="1151.3" r="12.5"/><circle cx="1126.5" cy="1105.6" r="12.5"/><circle cx="1127.7" cy="1279.7" r="12.5"/><circle cx="1129" cy="1211.1" r="12.5"/><circle cx="1130.2" cy="1273" r="12.5"/><circle cx="1131.4" cy="1137.4" r="12.5"/><circle cx="1132.6" cy="1183.5" r="12.5"/><circle cx="1133.9" cy="1245" r="12.5"/><circle cx="1135.1" cy="1145.9" r="12.5"/><circle cx="1136.3" cy="1175" r="12.5"/><circle cx="1137.5" cy="1100.7" r="12.5"/><circle cx="1138.7" cy="1126.9" r="12.5"/><circle cx="1140" cy="1222.2" r="12.5"/><circle cx="1141.2" cy="1161" r="12.5"/><circle cx="1142.4" cy="1102.4" r="12.5"/><circle cx="1143.6" cy="1178" r="12.5"/><circle cx="1144.9" cy="1133.1" r="12.5"/><circle cx="1146.1" cy="1277.7" r="12.5"/><circle cx="1147.3" cy="1147.9" r="12.5"/><circle cx="1148.5" cy="1173" r="12.5"/><circle cx="1149.7" cy="1100.2" r="12.5"/><circle cx="1151" cy="1160.7" r="12.5"/><circle cx="1152.2" cy="1149.3" r="12.5"/><circle cx="1153.4" cy="1134" r="12.5"/><circle cx="1154.6" cy="1142.6" r="12.5"/><circle cx="1155.9" cy="1187.3" r="12.5"/><circle cx="1157.1" cy="1178.8" r="12.5"/><circle cx="1158.3" cy="1099.2" r="12.5"/><circle cx="1159.5" cy="1216.9" r="12.5"/><circle cx="1160.7" cy="1176.7" r="12.5"/><circle cx="1162" cy="1200.1" r="12.5"/><circle cx="1163.2" cy="1142.9" r="12.5"/><circle cx="1164.4" cy="1111.7" r="12.5"/><circle cx="1165.6" cy="1206.1" r="12.5"/><circle cx="1166.9" cy="1183.5" r="12.5"/><circle cx="1168.1" cy="1085.3" r="12.5"/><circle cx="1169.3" cy="1161.3" r="12.5"/><circle cx="1170.5" cy="1157.7" r="12.5"/><circle cx="1171.7" cy="1149.8" r="12.5"/><circle cx="1173" cy="1110.2" r="12.5"/><circle cx="1174.2" cy="1157.2" r="12.5"/><circle cx="1175.4" cy="1123.4" r="12.5"/><circle cx="1176.6" cy="1164.4" r="12.5"/><circle cx="1177.9" cy="1065.5" r="12.5"/><circle cx="1179.1" cy="1197.3" r="12.5"/><circle cx="1180.3" cy="1198.7" r="12.5"/><circle cx="1181.5" cy="1134.3" r="12.5"/><circle cx="1182.7" cy="1195.9" r="12.5"/><circle cx="1184" cy="1167.1" r="12.5"/><circle cx="1185.2" cy="1152.8" r="12.5"/><circle cx="1186.4" cy="1158.5" r="12.5"/><circle cx="1187.6" cy="1147.6" r="12.5"/><circle cx="1188.9" cy="1174.3" r="12.5"/><circle cx="1190.1" cy="1136.3" r="12.5"/><circle cx="1191.3" cy="1131.6" r="12.5"/><circle cx="1192.5" cy="1152.7" r="12.5"/><circle cx="1193.7" cy="1177.3" r="12.5"/><circle cx="1195" cy="1126.8" r="12.5"/><circle cx="1196.2" cy="1098" r="12.5"/><circle cx="1197.4" cy="1137.1" r="12.5"/><circle cx="1198.6" cy="1181.4" r="12.5"/><circle cx="1199.9" cy="1166.9" r="12.5"/><circle cx="1201.1" cy="1301.5" r="12.5"/><circle cx="1202.3" cy="1139.3" r="12.5"/><circle cx="1203.5" cy="1212.9" r="12.5"/><circle cx="1204.7" cy="1151.3" r="12.5"/><circle cx="1206" cy="1099.5" r="12.5"/><circle cx="1207.2" cy="1155.5" r="12.5"/><circle cx="1208.4" cy="1113.6" r="12.5"/><circle cx="1209.6" cy="1139.9" r="12.5"/><circle cx="1210.9" cy="1165.9" r="12.5"/><circle cx="1212.1" cy="1130.5" r="12.5"/><circle cx="1213.3" cy="1162.6" r="12.5"/><circle cx="1214.5" cy="1156.1" r="12.5"/><circle cx="1215.7" cy="1161.4" r="12.5"/><circle cx="1217" cy="1163.8" r="12.5"/><circle cx="1218.2" cy="1194.1" r="12.5"/><circle cx="1219.4" cy="1186.1" r="12.5"/><circle cx="1220.6" cy="1183" r="12.5"/><circle cx="1221.9" cy="1117" r="12.5"/><circle cx="1223.1" cy="1125.9" r="12.5"/><circle cx="1224.3" cy="1128.6" r="12.5"/><circle cx="1225.5" cy="1287.8" r="12.5"/><circle cx="1226.7" cy="1174.8" r="12.5"/><circle cx="1228" cy="1097.7" r="12.5"/><circle cx="1229.2" cy="1173.5" r="12.5"/><circle cx="1230.4" cy="1085.7" r="12.5"/><circle cx="1231.6" cy="1144.4" r="12.5"/><circle cx="1232.9" cy="1142.7" r="12.5"/><circle cx="1234.1" cy="1124.1" r="12.5"/><circle cx="1235.3" cy="1136.6" r="12.5"/><circle cx="1236.5" cy="1145.3" r="12.5"/><circle cx="1237.7" cy="1151.1" r="12.5"/><circle cx="1239" cy="1123.1" r="12.5"/><circle cx="1240.2" cy="1174.1" r="12.5"/><circle cx="1241.4" cy="1129.7" r="12.5"/><circle cx="1242.6" cy="1220" r="12.5"/><circle cx="1243.9" cy="1225.1" r="12.5"/><circle cx="1245.1" cy="1148.9" r="12.5"/><circle cx="1246.3" cy="1176.6" r="12.5"/><circle cx="1247.5" cy="1196.4" r="12.5"/><circle cx="1248.7" cy="1153.7" r="12.5"/><circle cx="1250" cy="1162.2" r="12.5"/><circle cx="1251.2" cy="1163.1" r="12.5"/><circle cx="1252.4" cy="1120.8" r="12.5"/><circle cx="1253.6" cy="1155" r="12.5"/><circle cx="1254.9" cy="1163" r="12.5"/><circle cx="1256.1" cy="1210.6" r="12.5"/><circle cx="1257.3" cy="1266.8" r="12.5"/><circle cx="1258.5" cy="1224.7" r="12.5"/><circle cx="1259.7" cy="1183" r="12.5"/><circle cx="1261" cy="1327.4" r="12.5"/><circle cx="1262.2" cy="1172.9" r="12.5"/><circle cx="1263.4" cy="1122.3" r="12.5"/><circle cx="1264.6" cy="1221.9" r="12.5"/><circle cx="1265.9" cy="1180.9" r="12.5"/><circle cx="1267.1" cy="1086.5" r="12.5"/><circle cx="1268.3" cy="1173.5" r="12.5"/><circle cx="1269.5" cy="1146.2" r="12.5"/><circle cx="1270.7" cy="1117.1" r="12.5"/><circle cx="1272" cy="1147.7" r="12.5"/><circle cx="1273.2" cy="1154.8" r="12.5"/><circle cx="1274.4" cy="1121.8" r="12.5"/><circle cx="1275.6" cy="1197.9" r="12.5"/><circle cx="1276.9" cy="1094.2" r="12.5"/><circle cx="1278.1" cy="1149.7" r="12.5"/><circle cx="1279.3" cy="1152.2" r="12.5"/><circle cx="1280.5" cy="1124.5" r="12.5"/><circle cx="1281.7" cy="1140.8" r="12.5"/><circle cx="1283" cy="1112.9" r="12.5"/><circle cx="1284.2" cy="1209.9" r="12.5"/><circle cx="1285.4" cy="1117.7" r="12.5"/><circle cx="1286.6" cy="1132.2" r="12.5"/><circle cx="1287.9" cy="1202.2" r="12.5"/><circle cx="1289.1" cy="1175.9" r="12.5"/><circle cx="1290.3" cy="1175.7" r="12.5"/><circle cx="1291.5" cy="1204.9" r="12.5"/><circle cx="1292.7" cy="1183" r="12.5"/><circle cx="1294" cy="1123.2" r="12.5"/><circle cx="1295.2" cy="1085.5" r="12.5"/><circle cx="1296.4" cy="1168.2" r="12.5"/><circle cx="1297.6" cy="1135.3" r="12.5"/><circle cx="1298.9" cy="1145.4" r="12.5"/><circle cx="1300.1" cy="1135.8" r="12.5"/><circle cx="1301.3" cy="1210.2" r="12.5"/><circle cx="1302.5" cy="1231.7" r="12.5"/><circle cx="1303.7" cy="1128.6" r="12.5"/><circle cx="1305" cy="1210.4" r="12.5"/><circle cx="1306.2" cy="1176.3" r="12.5"/><circle cx="1307.4" cy="1142.4" r="12.5"/><circle cx="1308.6" cy="1161.5" r="12.5"/><circle cx="1309.9" cy="1170.2" r="12.5"/><circle cx="1311.1" cy="1109.5" r="12.5"/><circle cx="1312.3" cy="1198.3" r="12.5"/><circle cx="1313.5" cy="1173" r="12.5"/><circle cx="1314.7" cy="1166.8" r="12.5"/><circle cx="1316" cy="1127.9" r="12.5"/><circle cx="1317.2" cy="1138.5" r="12.5"/><circle cx="1318.4" cy="1119" r="12.5"/><circle cx="1319.6" cy="1161.7" r="12.5"/><circle cx="1320.9" cy="1229" r="12.5"/><circle cx="1322.1" cy="1218.7" r="12.5"/><circle cx="1323.3" cy="1196.4" r="12.5"/><circle cx="1324.5" cy="1157.4" r="12.5"/><circle cx="1325.7" cy="1154" r="12.5"/><circle cx="1327" cy="1151.5" r="12.5"/><circle cx="1328.2" cy="1129.9" r="12.5"/><circle cx="1329.4" cy="1092.7" r="12.5"/><circle cx="1330.6" cy="1209" r="12.5"/><circle cx="1331.9" cy="1123.7" r="12.5"/><circle cx="1333.1" cy="1136" r="12.5"/><circle cx="1334.3" cy="1208.5" r="12.5"/><circle cx="1335.5" cy="1180.9" r="12.5"/><circle cx="1336.7" cy="1170.7" r="12.5"/><circle cx="1338" cy="1111.5" r="12.5"/><circle cx="1339.2" cy="1188.2" r="12.5"/><circle cx="1340.4" cy="1134.1" r="12.5"/><circle cx="1341.6" cy="1120.2" r="12.5"/><circle cx="1342.9" cy="1225.7" r="12.5"/><circle cx="1344.1" cy="1131.8" r="12.5"/><circle cx="1345.3" cy="1141.2" r="12.5"/><circle cx="1346.5" cy="1144.9" r="12.5"/><circle cx="1347.7" cy="1207.2" r="12.5"/><circle cx="1349" cy="1170.1" r="12.5"/><circle cx="1350.2" cy="1134.5" r="12.5"/><circle cx="1351.4" cy="1146.6" r="12.5"/><circle cx="1352.6" cy="1130.9" r="12.5"/><circle cx="1353.9" cy="1181.5" r="12.5"/><circle cx="1355.1" cy="1144.4" r="12.5"/><circle cx="1356.3" cy="1151.3" r="12.5"/><circle cx="1357.5" cy="1153.6" r="12.5"/><circle cx="1358.7" cy="1260" r="12.5"/><circle cx="1360" cy="1122.3" r="12.5"/><circle cx="1361.2" cy="1113.4" r="12.5"/><circle cx="1362.4" cy="1081.8" r="12.5"/><circle cx="1363.6" cy="1116" r="12.5"/><circle cx="1364.9" cy="1145.8" r="12.5"/><circle cx="1366.1" cy="1150.3" r="12.5"/><circle cx="1367.3" cy="1157.1" r="12.5"/><circle cx="1368.5" cy="1186" r="12.5"/><circle cx="1369.7" cy="1175.5" r="12.5"/><circle cx="1371" cy="1136.4" r="12.5"/><circle cx="1372.2" cy="1167.8" r="12.5"/><circle cx="1373.4" cy="1244.3" r="12.5"/><circle cx="1374.6" cy="1317.1" r="12.5"/><circle cx="1375.9" cy="1170.7" r="12.5"/><circle cx="1377.1" cy="1174.6" r="12.5"/><circle cx="1378.3" cy="1171.6" r="12.5"/><circle cx="1379.5" cy="1210.2" r="12.5"/><circle cx="1380.7" cy="1228.5" r="12.5"/><circle cx="1382" cy="1112.9" r="12.5"/><circle cx="1383.2" cy="1075.5" r="12.5"/><circle cx="1384.4" cy="1159.2" r="12.5"/><circle cx="1385.6" cy="1140.3" r="12.5"/><circle cx="1386.9" cy="1123.1" r="12.5"/><circle cx="1388.1" cy="1164.3" r="12.5"/><circle cx="1389.3" cy="1120.4" r="12.5"/><circle cx="1390.5" cy="1210.8" r="12.5"/><circle cx="1391.7" cy="1121" r="12.5"/><circle cx="1393" cy="1147.6" r="12.5"/><circle cx="1394.2" cy="1169.2" r="12.5"/><circle cx="1395.4" cy="1143.4" r="12.5"/><circle cx="1396.6" cy="1136.7" r="12.5"/><circle cx="1397.9" cy="1198.3" r="12.5"/><circle cx="1399.1" cy="1284.7" r="12.5"/><circle cx="1400.3" cy="1132.4" r="12.5"/><circle cx="1401.5" cy="1102.4" r="12.5"/><circle cx="1402.7" cy="1139.7" r="12.5"/><circle cx="1404" cy="1142" r="12.5"/><circle cx="1405.2" cy="1145.3" r="12.5"/><circle cx="1406.4" cy="1178.6" r="12.5"/><circle cx="1407.6" cy="1146.3" r="12.5"/><circle cx="1408.9" cy="1115.1" r="12.5"/><circle cx="1410.1" cy="1213.8" r="12.5"/><circle cx="1411.3" cy="1180.9" r="12.5"/><circle cx="1412.5" cy="1163.9" r="12.5"/><circle cx="1413.7" cy="1129.3" r="12.5"/><circle cx="1415" cy="1147.1" r="12.5"/><circle cx="1416.2" cy="1167" r="12.5"/><circle cx="1417.4" cy="1128.1" r="12.5"/><circle cx="1418.6" cy="1132.3" r="12.5"/><circle cx="1419.9" cy="1173.1" r="12.5"/><circle cx="1421.1" cy="1193.1" r="12.5"/><circle cx="1422.3" cy="1144.1" r="12.5"/><circle cx="1423.5" cy="1201.4" r="12.5"/><circle cx="1424.7" cy="1139.3" r="12.5"/><circle cx="1426" cy="1277.2" r="12.5"/><circle cx="1427.2" cy="1160.2" r="12.5"/><circle cx="1428.4" cy="1156.8" r="12.5"/><circle cx="1429.6" cy="1153.3" r="12.5"/><circle cx="1430.9" cy="1150.3" r="12.5"/><circle cx="1432.1" cy="1153.9" r="12.5"/><circle cx="1433.3" cy="1120.9" r="12.5"/><circle cx="1434.5" cy="1129.7" r="12.5"/><circle cx="1435.7" cy="1127.4" r="12.5"/><circle cx="1437" cy="1106.2" r="12.5"/><circle cx="1438.2" cy="1145" r="12.5"/><circle cx="1439.4" cy="1152.8" r="12.5"/><circle cx="1440.6" cy="1140.3" r="12.5"/><circle cx="1441.8" cy="1176.6" r="12.5"/><circle cx="1443.1" cy="1119.1" r="12.5"/><circle cx="1444.3" cy="1092.5" r="12.5"/><circle cx="1445.5" cy="1136.1" r="12.5"/><circle cx="1446.7" cy="1122" r="12.5"/><circle cx="1448" cy="1123.3" r="12.5"/><circle cx="1449.2" cy="1199.1" r="12.5"/><circle cx="1450.4" cy="1242.8" r="12.5"/><circle cx="1451.6" cy="1127.6" r="12.5"/><circle cx="1452.8" cy="1157.7" r="12.5"/><circle cx="1454.1" cy="1137.4" r="12.5"/><circle cx="1455.3" cy="1214.3" r="12.5"/><circle cx="1456.5" cy="1116.1" r="12.5"/><circle cx="1457.7" cy="1174.6" r="12.5"/><circle cx="1459" cy="1190.2" r="12.5"/><circle cx="1460.2" cy="1161.7" r="12.5"/><circle cx="1461.4" cy="1150.7" r="12.5"/><circle cx="1462.6" cy="1194.9" r="12.5"/><circle cx="1463.8" cy="1099.1" r="12.5"/><circle cx="1465.1" cy="1123.3" r="12.5"/><circle cx="1466.3" cy="1209.7" r="12.5"/><circle cx="1467.5" cy="1170.3" r="12.5"/><circle cx="1468.7" cy="1208.3" r="12.5"/><circle cx="1470" cy="1180.2" r="12.5"/><circle cx="1471.2" cy="1160.4" r="12.5"/><circle cx="1472.4" cy="1174.2" r="12.5"/><circle cx="1473.6" cy="1108" r="12.5"/><circle cx="1474.8" cy="1231.9" r="12.5"/><circle cx="1476.1" cy="1182.3" r="12.5"/><circle cx="1477.3" cy="1127.1" r="12.5"/><circle cx="1478.5" cy="1175.8" r="12.5"/><circle cx="1479.7" cy="1210.3" r="12.5"/><circle cx="1481" cy="1184.7" r="12.5"/><circle cx="1482.2" cy="1089.9" r="12.5"/><circle cx="1483.4" cy="1183.9" r="12.5"/><circle cx="1484.6" cy="1180.4" r="12.5"/><circle cx="1485.8" cy="1187.3" r="12.5"/><circle cx="1487.1" cy="1287.5" r="12.5"/><circle cx="1488.3" cy="1077.9" r="12.5"/><circle cx="1489.5" cy="1170.5" r="12.5"/><circle cx="1490.7" cy="1169.4" r="12.5"/><circle cx="1492" cy="1082.9" r="12.5"/><circle cx="1493.2" cy="1129.7" r="12.5"/><circle cx="1494.4" cy="1208" r="12.5"/><circle cx="1495.6" cy="1139" r="12.5"/><circle cx="1496.8" cy="1235.4" r="12.5"/><circle cx="1498.1" cy="1177.2" r="12.5"/><circle cx="1499.3" cy="1103.7" r="12.5"/><circle cx="1500.5" cy="1052.9" r="12.5"/><circle cx="1501.7" cy="1130.5" r="12.5"/><circle cx="1503" cy="1180.7" r="12.5"/><circle cx="1504.2" cy="1163.9" r="12.5"/><circle cx="1505.4" cy="1109.1" r="12.5"/><circle cx="1506.6" cy="1173" r="12.5"/><circle cx="1507.8" cy="1229.6" r="12.5"/><circle cx="1509.1" cy="1130.6" r="12.5"/><circle cx="1510.3" cy="1090.5" r="12.5"/><circle cx="1511.5" cy="1155.8" r="12.5"/><circle cx="1512.7" cy="1192.2" r="12.5"/><circle cx="1514" cy="1156.5" r="12.5"/><circle cx="1515.2" cy="1106.1" r="12.5"/><circle cx="1516.4" cy="1171.6" r="12.5"/><circle cx="1517.6" cy="1141.1" r="12.5"/><circle cx="1518.8" cy="1126.1" r="12.5"/><circle cx="1520.1" cy="1179.4" r="12.5"/><circle cx="1521.3" cy="1192.1" r="12.5"/><circle cx="1522.5" cy="1107" r="12.5"/><circle cx="1523.7" cy="1193.4" r="12.5"/><circle cx="1525" cy="1185.1" r="12.5"/><circle cx="1526.2" cy="1140.3" r="12.5"/><circle cx="1527.4" cy="1156.3" r="12.5"/><circle cx="1528.6" cy="1137.2" r="12.5"/><circle cx="1529.8" cy="1121.7" r="12.5"/><circle cx="1531.1" cy="1132.8" r="12.5"/><circle cx="1532.3" cy="1165.9" r="12.5"/><circle cx="1533.5" cy="1162.5" r="12.5"/><circle cx="1534.7" cy="1113.3" r="12.5"/><circle cx="1536" cy="1160.1" r="12.5"/><circle cx="1537.2" cy="1119.7" r="12.5"/><circle cx="1538.4" cy="1168.1" r="12.5"/><circle cx="1539.6" cy="1174.8" r="12.5"/><circle cx="1540.8" cy="1179.7" r="12.5"/><circle cx="1542.1" cy="1129.7" r="12.5"/><circle cx="1543.3" cy="1141.7" r="12.5"/><circle cx="1544.5" cy="1190.7" r="12.5"/><circle cx="1545.7" cy="1208.5" r="12.5"/><circle cx="1547" cy="1128.1" r="12.5"/><circle cx="1548.2" cy="1167.8" r="12.5"/><circle cx="1549.4" cy="1143.5" r="12.5"/><circle cx="1550.6" cy="1145.2" r="12.5"/><circle cx="1551.8" cy="1117.7" r="12.5"/><circle cx="1553.1" cy="1127.9" r="12.5"/><circle cx="1554.3" cy="1120.8" r="12.5"/><circle cx="1555.5" cy="1211.1" r="12.5"/><circle cx="1556.7" cy="1193.4" r="12.5"/><circle cx="1558" cy="1169.6" r="12.5"/><circle cx="1559.2" cy="1153.8" r="12.5"/><circle cx="1560.4" cy="1207.4" r="12.5"/><circle cx="1561.6" cy="1147.9" r="12.5"/><circle cx="1562.8" cy="1147.8" r="12.5"/><circle cx="1564.1" cy="1128.3" r="12.5"/><circle cx="1565.3" cy="1185.4" r="12.5"/><circle cx="1566.5" cy="1302.9" r="12.5"/><circle cx="1567.7" cy="1102.9" r="12.5"/><circle cx="1569" cy="1158.4" r="12.5"/><circle cx="1570.2" cy="1099.3" r="12.5"/><circle cx="1571.4" cy="1185.5" r="12.5"/><circle cx="1572.6" cy="1173.7" r="12.5"/><circle cx="1573.8" cy="1147.9" r="12.5"/><circle cx="1575.1" cy="1230.1" r="12.5"/><circle cx="1576.3" cy="1154.7" r="12.5"/><circle cx="1577.5" cy="1097.7" r="12.5"/><circle cx="1578.7" cy="1148.7" r="12.5"/><circle cx="1580" cy="1168.2" r="12.5"/><circle cx="1581.2" cy="1151.1" r="12.5"/><circle cx="1582.4" cy="1146.6" r="12.5"/><circle cx="1583.6" cy="1181.7" r="12.5"/><circle cx="1584.8" cy="1130.5" r="12.5"/><circle cx="1586.1" cy="1111.8" r="12.5"/><circle cx="1587.3" cy="1174.4" r="12.5"/><circle cx="1588.5" cy="1347" r="12.5"/><circle cx="1589.7" cy="1175.1" r="12.5"/><circle cx="1591" cy="1207.6" r="12.5"/><circle cx="1592.2" cy="1177.8" r="12.5"/><circle cx="1593.4" cy="1155.7" r="12.5"/><circle cx="1594.6" cy="1200.2" r="12.5"/><circle cx="1595.8" cy="1128.9" r="12.5"/><circle cx="1597.1" cy="1136.6" r="12.5"/><circle cx="1598.3" cy="1144.6" r="12.5"/><circle cx="1599.5" cy="1111.7" r="12.5"/><circle cx="1600.7" cy="1153.6" r="12.5"/><circle cx="1602" cy="1131.1" r="12.5"/><circle cx="1603.2" cy="1260.3" r="12.5"/><circle cx="1604.4" cy="1181.2" r="12.5"/><circle cx="1605.6" cy="1182.9" r="12.5"/><circle cx="1606.8" cy="1153.6" r="12.5"/><circle cx="1608.1" cy="1273" r="12.5"/><circle cx="1609.3" cy="1118.8" r="12.5"/><circle cx="1610.5" cy="1090.2" r="12.5"/><circle cx="1611.7" cy="1138.1" r="12.5"/><circle cx="1613" cy="1198.3" r="12.5"/><circle cx="1614.2" cy="1201.6" r="12.5"/><circle cx="1615.4" cy="1141.5" r="12.5"/><circle cx="1616.6" cy="1200.4" r="12.5"/><circle cx="1617.8" cy="1169.9" r="12.5"/><circle cx="1619.1" cy="1128.1" r="12.5"/><circle cx="1620.3" cy="1106.1" r="12.5"/><circle cx="1621.5" cy="1182.6" r="12.5"/><circle cx="1622.7" cy="1147.7" r="12.5"/><circle cx="1624" cy="1162.9" r="12.5"/><circle cx="1625.2" cy="1173.5" r="12.5"/><circle cx="1626.4" cy="1145.1" r="12.5"/><circle cx="1627.6" cy="1147.3" r="12.5"/><circle cx="1628.8" cy="1098.7" r="12.5"/><circle cx="1630.1" cy="1144.8" r="12.5"/><circle cx="1631.3" cy="1163.5" r="12.5"/><circle cx="1632.5" cy="1153.2" r="12.5"/><circle cx="1633.7" cy="1182.8" r="12.5"/><circle cx="1635" cy="1127.1" r="12.5"/><circle cx="1636.2" cy="1093" r="12.5"/><circle cx="1637.4" cy="1197.4" r="12.5"/><circle cx="1638.6" cy="1141" r="12.5"/><circle cx="1639.8" cy="1171.5" r="12.5"/><circle cx="1641.1" cy="1144.8" r="12.5"/><circle cx="1642.3" cy="1146.7" r="12.5"/><circle cx="1643.5" cy="1192.4" r="12.5"/><circle cx="1644.7" cy="1157.2" r="12.5"/><circle cx="1646" cy="1139.7" r="12.5"/><circle cx="1647.2" cy="1179.4" r="12.5"/><circle cx="1648.4" cy="1136.8" r="12.5"/><circle cx="1649.6" cy="1152.9" r="12.5"/><circle cx="1650.8" cy="1121.4" r="12.5"/><circle cx="1652.1" cy="1285.5" r="12.5"/><circle cx="1653.3" cy="1171.9" r="12.5"/><circle cx="1654.5" cy="1155.9" r="12.5"/><circle cx="1655.7" cy="1235.3" r="12.5"/><circle cx="1657" cy="1070.8" r="12.5"/><circle cx="1658.2" cy="1130.6" r="12.5"/><circle cx="1659.4" cy="1094" r="12.5"/><circle cx="1660.6" cy="1070.6" r="12.5"/><circle cx="1661.8" cy="1116.5" r="12.5"/><circle cx="1663.1" cy="1156.9" r="12.5"/><circle cx="1664.3" cy="1171.6" r="12.5"/><circle cx="1665.5" cy="1173.5" r="12.5"/><circle cx="1666.7" cy="1105.7" r="12.5"/><circle cx="1668" cy="1194.9" r="12.5"/><circle cx="1669.2" cy="1157.8" r="12.5"/><circle cx="1670.4" cy="1183.9" r="12.5"/><circle cx="1671.6" cy="1129.8" r="12.5"/><circle cx="1672.8" cy="1171.6" r="12.5"/><circle cx="1674.1" cy="1143.8" r="12.5"/><circle cx="1675.3" cy="1391.9" r="12.5"/><circle cx="1676.5" cy="1148.9" r="12.5"/><circle cx="1677.7" cy="1176.6" r="12.5"/><circle cx="1679" cy="1187.5" r="12.5"/><circle cx="1680.2" cy="1110.2" r="12.5"/><circle cx="1681.4" cy="1198.5" r="12.5"/><circle cx="1682.6" cy="1112.8" r="12.5"/><circle cx="1683.8" cy="1167.9" r="12.5"/><circle cx="1685.1" cy="1135.1" r="12.5"/><circle cx="1686.3" cy="1138.6" r="12.5"/><circle cx="1687.5" cy="1254.1" r="12.5"/><circle cx="1688.7" cy="1309.7" r="12.5"/><circle cx="1690" cy="1178.8" r="12.5"/><circle cx="1691.2" cy="1152.3" r="12.5"/><circle cx="1692.4" cy="1217.7" r="12.5"/><circle cx="1693.6" cy="1142.9" r="12.5"/><circle cx="1694.8" cy="1196.9" r="12.5"/><circle cx="1696.1" cy="1133.7" r="12.5"/><circle cx="1697.3" cy="1173.5" r="12.5"/><circle cx="1698.5" cy="1134.7" r="12.5"/><circle cx="1699.7" cy="1139.6" r="12.5"/><circle cx="1701" cy="1189" r="12.5"/><circle cx="1702.2" cy="1185.1" r="12.5"/><circle cx="1703.4" cy="1149.1" r="12.5"/><circle cx="1704.6" cy="1145.4" r="12.5"/><circle cx="1705.8" cy="1247" r="12.5"/><circle cx="1707.1" cy="1145.1" r="12.5"/><circle cx="1708.3" cy="1128.9" r="12.5"/><circle cx="1709.5" cy="1196.8" r="12.5"/><circle cx="1710.7" cy="1162.6" r="12.5"/><circle cx="1712" cy="1178.1" r="12.5"/><circle cx="1713.2" cy="1179.2" r="12.5"/><circle cx="1714.4" cy="1145.2" r="12.5"/><circle cx="1715.6" cy="1158.6" r="12.5"/><circle cx="1716.8" cy="1157.3" r="12.5"/><circle cx="1718.1" cy="1207.6" r="12.5"/><circle cx="1719.3" cy="1142.4" r="12.5"/><circle cx="1720.5" cy="1134.4" r="12.5"/><circle cx="1721.7" cy="1187" r="12.5"/><circle cx="1723" cy="1137.8" r="12.5"/><circle cx="1724.2" cy="1156.5" r="12.5"/><circle cx="1725.4" cy="1249" r="12.5"/><circle cx="1726.6" cy="1199.2" r="12.5"/><circle cx="1727.8" cy="1190.7" r="12.5"/><circle cx="1729.1" cy="1156.8" r="12.5"/><circle cx="1730.3" cy="1160.2" r="12.5"/><circle cx="1731.5" cy="1171.9" r="12.5"/><circle cx="1732.7" cy="1114.2" r="12.5"/><circle cx="1734" cy="1234.7" r="12.5"/><circle cx="1735.2" cy="1092.1" r="12.5"/><circle cx="1736.4" cy="1155.4" r="12.5"/><circle cx="1737.6" cy="1131.1" r="12.5"/><circle cx="1738.8" cy="1208.5" r="12.5"/><circle cx="1740.1" cy="1200" r="12.5"/><circle cx="1741.3" cy="1162.3" r="12.5"/><circle cx="1742.5" cy="1166.3" r="12.5"/><circle cx="1743.7" cy="1139.4" r="12.5"/><circle cx="1745" cy="1283.3" r="12.5"/><circle cx="1746.2" cy="1106" r="12.5"/><circle cx="1747.4" cy="1164.3" r="12.5"/><circle cx="1748.6" cy="1137.4" r="12.5"/><circle cx="1749.8" cy="1141.2" r="12.5"/><circle cx="1751.1" cy="1155.9" r="12.5"/><circle cx="1752.3" cy="1161.9" r="12.5"/><circle cx="1753.5" cy="1098.4" r="12.5"/><circle cx="1754.7" cy="1132.4" r="12.5"/><circle cx="1756" cy="1132.6" r="12.5"/><circle cx="1757.2" cy="1232.8" r="12.5"/><circle cx="1758.4" cy="1162.3" r="12.5"/><circle cx="1759.6" cy="1224.8" r="12.5"/><circle cx="1760.8" cy="1161.5" r="12.5"/><circle cx="1762.1" cy="1155.5" r="12.5"/><circle cx="1763.3" cy="1102.8" r="12.5"/><circle cx="1764.5" cy="1140.4" r="12.5"/><circle cx="1765.7" cy="1183.3" r="12.5"/><circle cx="1767" cy="1239.8" r="12.5"/><circle cx="1768.2" cy="1127" r="12.5"/><circle cx="1769.4" cy="1174.5" r="12.5"/><circle cx="1770.6" cy="1179.7" r="12.5"/><circle cx="1771.8" cy="1164.5" r="12.5"/><circle cx="1773.1" cy="1137.7" r="12.5"/><circle cx="1774.3" cy="1178.7" r="12.5"/><circle cx="1775.5" cy="1172.6" r="12.5"/><circle cx="1776.7" cy="1162" r="12.5"/><circle cx="1778" cy="1141.2" r="12.5"/><circle cx="1779.2" cy="1224.7" r="12.5"/><circle cx="1780.4" cy="1164.8" r="12.5"/><circle cx="1781.6" cy="1126.6" r="12.5"/><circle cx="1782.8" cy="1151.5" r="12.5"/><circle cx="1784.1" cy="1152.4" r="12.5"/><circle cx="1785.3" cy="1167.5" r="12.5"/><circle cx="1786.5" cy="1188.4" r="12.5"/><circle cx="1787.7" cy="1140.6" r="12.5"/><circle cx="1789" cy="1231.9" r="12.5"/><circle cx="1790.2" cy="1133.1" r="12.5"/><circle cx="1791.4" cy="1154.6" r="12.5"/><circle cx="1792.6" cy="1185.5" r="12.5"/><circle cx="1793.8" cy="1155" r="12.5"/><circle cx="1795.1" cy="1118.3" r="12.5"/><circle cx="1796.3" cy="1158.3" r="12.5"/><circle cx="1797.5" cy="1272.9" r="12.5"/><circle cx="1798.7" cy="1118.5" r="12.5"/><circle cx="1800" cy="1183.5" r="12.5"/><circle cx="1801.2" cy="1132" r="12.5"/><circle cx="1802.4" cy="1234.6" r="12.5"/><circle cx="1803.6" cy="1191.5" r="12.5"/><circle cx="1804.8" cy="1110" r="12.5"/><circle cx="1806.1" cy="1201.4" r="12.5"/><circle cx="1807.3" cy="1128.7" r="12.5"/><circle cx="1808.5" cy="1140.4" r="12.5"/><circle cx="1809.7" cy="1149.7" r="12.5"/><circle cx="1811" cy="1129.2" r="12.5"/><circle cx="1812.2" cy="1129.8" r="12.5"/><circle cx="1813.4" cy="1167.9" r="12.5"/><circle cx="1814.6" cy="1192.3" r="12.5"/><circle cx="1815.8" cy="1136.4" r="12.5"/><circle cx="1817.1" cy="1126.9" r="12.5"/><circle cx="1818.3" cy="1150.8" r="12.5"/><circle cx="1819.5" cy="1201.4" r="12.5"/><circle cx="1820.7" cy="1163.7" r="12.5"/><circle cx="1822" cy="1138.9" r="12.5"/><circle cx="1823.2" cy="1141.2" r="12.5"/><circle cx="1824.4" cy="1207.5" r="12.5"/><circle cx="1825.6" cy="1122.5" r="12.5"/><circle cx="1826.8" cy="1174.5" r="12.5"/><circle cx="1828.1" cy="1151.6" r="12.5"/><circle cx="1829.3" cy="1191.2" r="12.5"/><circle cx="1830.5" cy="1144.3" r="12.5"/><circle cx="1831.7" cy="1136.8" r="12.5"/><circle cx="1833" cy="1222.3" r="12.5"/><circle cx="1834.2" cy="1144.9" r="12.5"/><circle cx="1835.4" cy="1142.2" r="12.5"/><circle cx="1836.6" cy="1114" r="12.5"/><circle cx="1837.8" cy="1101.3" r="12.5"/><circle cx="1839.1" cy="1209.5" r="12.5"/><circle cx="1840.3" cy="1100.3" r="12.5"/><circle cx="1841.5" cy="1168.9" r="12.5"/><circle cx="1842.7" cy="1139.7" r="12.5"/><circle cx="1844" cy="1122.6" r="12.5"/><circle cx="1845.2" cy="1138.9" r="12.5"/><circle cx="1846.4" cy="1163.9" r="12.5"/><circle cx="1847.6" cy="1159.7" r="12.5"/><circle cx="1848.8" cy="1159.8" r="12.5"/><circle cx="1850.1" cy="1160.5" r="12.5"/><circle cx="1851.3" cy="1121.3" r="12.5"/><circle cx="1852.5" cy="1169.3" r="12.5"/><circle cx="1853.7" cy="1111.9" r="12.5"/><circle cx="1855" cy="1205.2" r="12.5"/><circle cx="1856.2" cy="1129.9" r="12.5"/><circle cx="1857.4" cy="1292.4" r="12.5"/><circle cx="1858.6" cy="1194.7" r="12.5"/><circle cx="1859.8" cy="1193.1" r="12.5"/><circle cx="1861.1" cy="1194.2" r="12.5"/><circle cx="1862.3" cy="1170.8" r="12.5"/><circle cx="1863.5" cy="1257.4" r="12.5"/><circle cx="1864.7" cy="1149.8" r="12.5"/><circle cx="1866" cy="1201.4" r="12.5"/><circle cx="1867.2" cy="1145" r="12.5"/><circle cx="1868.4" cy="1154.8" r="12.5"/><circle cx="1869.6" cy="1174.9" r="12.5"/><circle cx="1870.8" cy="1227.7" r="12.5"/><circle cx="1872.1" cy="1120" r="12.5"/><circle cx="1873.3" cy="1162.6" r="12.5"/><circle cx="1874.5" cy="1148.8" r="12.5"/><circle cx="1875.7" cy="1168.5" r="12.5"/><circle cx="1877" cy="1134.6" r="12.5"/><circle cx="1878.2" cy="1201.1" r="12.5"/><circle cx="1879.4" cy="1212.7" r="12.5"/><circle cx="1880.6" cy="1117.3" r="12.5"/><circle cx="1881.8" cy="1170" r="12.5"/><circle cx="1883.1" cy="1173.3" r="12.5"/><circle cx="1884.3" cy="1207.2" r="12.5"/><circle cx="1885.5" cy="1129.3" r="12.5"/><circle cx="1886.7" cy="1175.3" r="12.5"/><circle cx="1888" cy="1162.7" r="12.5"/><circle cx="1889.2" cy="1170.5" r="12.5"/><circle cx="1890.4" cy="1206.8" r="12.5"/><circle cx="1891.6" cy="1117.5" r="12.5"/><circle cx="1892.8" cy="1202.1" r="12.5"/><circle cx="1894.1" cy="1216.1" r="12.5"/><circle cx="1895.3" cy="1138.8" r="12.5"/><circle cx="1896.5" cy="1088.2" r="12.5"/><circle cx="1897.7" cy="1230.8" r="12.5"/><circle cx="1899" cy="1190" r="12.5"/><circle cx="1900.2" cy="1150.6" r="12.5"/><circle cx="1901.4" cy="1209.2" r="12.5"/><circle cx="1902.6" cy="1157.1" r="12.5"/><circle cx="1903.8" cy="1134.2" r="12.5"/><circle cx="1905.1" cy="1167.6" r="12.5"/><circle cx="1906.3" cy="1142" r="12.5"/><circle cx="1907.5" cy="1165" r="12.5"/><circle cx="1908.7" cy="1173.1" r="12.5"/><circle cx="1910" cy="1125" r="12.5"/><circle cx="1911.2" cy="1108" r="12.5"/><circle cx="1912.4" cy="1151.7" r="12.5"/><circle cx="1913.6" cy="1146" r="12.5"/><circle cx="1914.8" cy="1123.6" r="12.5"/><circle cx="1916.1" cy="1097.7" r="12.5"/><circle cx="1917.3" cy="1188" r="12.5"/><circle cx="1918.5" cy="1121.5" r="12.5"/><circle cx="1919.7" cy="1149" r="12.5"/><circle cx="1921" cy="1187.1" r="12.5"/><circle cx="1922.2" cy="1117.4" r="12.5"/><circle cx="1923.4" cy="1142.4" r="12.5"/><circle cx="1924.6" cy="1185.7" r="12.5"/><circle cx="1925.8" cy="1216.7" r="12.5"/><circle cx="1927.1" cy="1109.6" r="12.5"/><circle cx="1928.3" cy="1191.4" r="12.5"/><circle cx="1929.5" cy="1169.3" r="12.5"/><circle cx="1930.7" cy="1116.4" r="12.5"/><circle cx="1932" cy="1207.3" r="12.5"/><circle cx="1933.2" cy="1140.7" r="12.5"/><circle cx="1934.4" cy="1172.3" r="12.5"/><circle cx="1935.6" cy="1158.9" r="12.5"/><circle cx="1936.8" cy="1141.1" r="12.5"/><circle cx="1938.1" cy="1170.7" r="12.5"/><circle cx="1939.3" cy="1142.6" r="12.5"/><circle cx="1940.5" cy="1109" r="12.5"/><circle cx="1941.7" cy="1153.5" r="12.5"/><circle cx="1943" cy="1147.6" r="12.5"/><circle cx="1944.2" cy="1150.5" r="12.5"/><circle cx="1945.4" cy="1182.7" r="12.5"/><circle cx="1946.6" cy="1097.2" r="12.5"/><circle cx="1947.8" cy="1204.9" r="12.5"/><circle cx="1949.1" cy="1173.6" r="12.5"/><circle cx="1950.3" cy="1124.3" r="12.5"/><circle cx="1951.5" cy="1186" r="12.5"/><circle cx="1952.7" cy="1208.6" r="12.5"/><circle cx="1954" cy="1113" r="12.5"/><circle cx="1955.2" cy="1156.7" r="12.5"/><circle cx="1956.4" cy="1221.4" r="12.5"/><circle cx="1957.6" cy="1141.3" r="12.5"/><circle cx="1958.8" cy="1281.1" r="12.5"/><circle cx="1960.1" cy="1167.9" r="12.5"/><circle cx="1961.3" cy="1171.6" r="12.5"/><circle cx="1962.5" cy="1133.3" r="12.5"/><circle cx="1963.7" cy="1128.9" r="12.5"/><circle cx="1965" cy="1143.3" r="12.5"/><circle cx="1966.2" cy="1134.2" r="12.5"/><circle cx="1967.4" cy="1202.6" r="12.5"/><circle cx="1968.6" cy="1126.1" r="12.5"/><circle cx="1969.8" cy="1127.7" r="12.5"/><circle cx="1971.1" cy="1101.8" r="12.5"/><circle cx="1972.3" cy="1171.3" r="12.5"/><circle cx="1973.5" cy="1183.8" r="12.5"/><circle cx="1974.7" cy="1218.7" r="12.5"/><circle cx="1976" cy="1117" r="12.5"/><circle cx="1977.2" cy="1119.3" r="12.5"/><circle cx="1978.4" cy="1183.8" r="12.5"/><circle cx="1979.6" cy="1156" r="12.5"/><circle cx="1980.8" cy="1157.7" r="12.5"/><circle cx="1982.1" cy="1135.3" r="12.5"/><circle cx="1983.3" cy="1156.3" r="12.5"/><circle cx="1984.5" cy="1183.8" r="12.5"/><circle cx="1985.7" cy="1125.1" r="12.5"/><circle cx="1987" cy="1156.4" r="12.5"/><circle cx="1988.2" cy="1138.4" r="12.5"/><circle cx="1989.4" cy="1134.9" r="12.5"/><circle cx="1990.6" cy="1192" r="12.5"/><circle cx="1991.8" cy="1114.9" r="12.5"/><circle cx="1993.1" cy="1104.5" r="12.5"/><circle cx="1994.3" cy="1189.4" r="12.5"/><circle cx="1995.5" cy="1147.6" r="12.5"/><circle cx="1996.7" cy="1200.4" r="12.5"/><circle cx="1998" cy="1088.4" r="12.5"/><circle cx="1999.2" cy="1150.1" r="12.5"/><circle cx="2000.4" cy="1268.8" r="12.5"/><circle cx="2001.6" cy="1098.8" r="12.5"/><circle cx="2002.8" cy="1164.3" r="12.5"/><circle cx="2004.1" cy="1147" r="12.5"/><circle cx="2005.3" cy="1160.1" r="12.5"/><circle cx="2006.5" cy="1126.3" r="12.5"/><circle cx="2007.7" cy="1119.3" r="12.5"/><circle cx="2009" cy="1081.6" r="12.5"/><circle cx="2010.2" cy="1215" r="12.5"/><circle cx="2011.4" cy="1183.2" r="12.5"/><circle cx="2012.6" cy="1156.8" r="12.5"/><circle cx="2013.8" cy="1088" r="12.5"/><circle cx="2015.1" cy="1135.8" r="12.5"/><circle cx="2016.3" cy="1166.1" r="12.5"/><circle cx="2017.5" cy="1205.2" r="12.5"/><circle cx="2018.7" cy="1151.8" r="12.5"/><circle cx="2020" cy="1189" r="12.5"/><circle cx="2021.2" cy="1154.1" r="12.5"/><circle cx="2022.4" cy="1120.3" r="12.5"/><circle cx="2023.6" cy="1123.5" r="12.5"/><circle cx="2024.8" cy="1030" r="12.5"/><circle cx="2026.1" cy="1110" r="12.5"/><circle cx="2027.3" cy="1184.9" r="12.5"/><circle cx="2028.5" cy="1111.3" r="12.5"/><circle cx="2029.7" cy="1108.2" r="12.5"/><circle cx="2031" cy="1081.4" r="12.5"/><circle cx="2032.2" cy="1079" r="12.5"/><circle cx="2033.4" cy="1168.3" r="12.5"/><circle cx="2034.6" cy="1150.1" r="12.5"/><circle cx="2035.8" cy="1105.4" r="12.5"/><circle cx="2037.1" cy="1152.8" r="12.5"/><circle cx="2038.3" cy="1175.9" r="12.5"/><circle cx="2039.5" cy="1158.2" r="12.5"/><circle cx="2040.7" cy="1113.1" r="12.5"/><circle cx="2042" cy="1189" r="12.5"/><circle cx="2043.2" cy="1116.8" r="12.5"/><circle cx="2044.4" cy="1155" r="12.5"/><circle cx="2045.6" cy="1175.5" r="12.5"/><circle cx="2046.8" cy="1183.6" r="12.5"/><circle cx="2048.1" cy="1149.6" r="12.5"/><circle cx="2049.3" cy="1163.1" r="12.5"/><circle cx="2050.5" cy="1140.9" r="12.5"/><circle cx="2051.7" cy="1163" r="12.5"/><circle cx="2053" cy="1136.3" r="12.5"/><circle cx="2054.2" cy="1154.9" r="12.5"/><circle cx="2055.4" cy="1134.5" r="12.5"/><circle cx="2056.6" cy="1156.8" r="12.5"/><circle cx="2057.8" cy="1086.7" r="12.5"/><circle cx="2059.1" cy="1182.3" r="12.5"/><circle cx="2060.3" cy="1155" r="12.5"/><circle cx="2061.5" cy="1190.6" r="12.5"/><circle cx="2062.7" cy="1148.6" r="12.5"/><circle cx="2064" cy="1234.6" r="12.5"/><circle cx="2065.2" cy="1166.6" r="12.5"/><circle cx="2066.4" cy="1160.8" r="12.5"/><circle cx="2067.6" cy="1189.6" r="12.5"/><circle cx="2068.8" cy="1140.1" r="12.5"/><circle cx="2070.1" cy="1224.8" r="12.5"/><circle cx="2071.3" cy="1139.1" r="12.5"/><circle cx="2072.5" cy="1190.5" r="12.5"/><circle cx="2073.7" cy="1148.5" r="12.5"/><circle cx="2075" cy="1195.2" r="12.5"/><circle cx="2076.2" cy="1178.4" r="12.5"/><circle cx="2077.4" cy="1202.2" r="12.5"/><circle cx="2078.6" cy="1204.4" r="12.5"/><circle cx="2079.8" cy="1148.2" r="12.5"/><circle cx="2081.1" cy="1130.8" r="12.5"/><circle cx="2082.3" cy="1211.4" r="12.5"/><circle cx="2083.5" cy="1095.4" r="12.5"/><circle cx="2084.7" cy="1149.5" r="12.5"/><circle cx="2086" cy="1106" r="12.5"/><circle cx="2087.2" cy="1231.6" r="12.5"/><circle cx="2088.4" cy="1138.5" r="12.5"/><circle cx="2089.6" cy="1183.2" r="12.5"/><circle cx="2090.8" cy="1153.4" r="12.5"/><circle cx="2092.1" cy="1109.1" r="12.5"/><circle cx="2093.3" cy="1147.5" r="12.5"/><circle cx="2094.5" cy="1127.7" r="12.5"/><circle cx="2095.7" cy="1149" r="12.5"/><circle cx="2097" cy="1110.9" r="12.5"/><circle cx="2098.2" cy="1114" r="12.5"/><circle cx="2099.4" cy="1171.7" r="12.5"/><circle cx="2100.6" cy="1150.2" r="12.5"/><circle cx="2101.8" cy="1138.3" r="12.5"/><circle cx="2103.1" cy="1141.2" r="12.5"/><circle cx="2104.3" cy="1148.6" r="12.5"/><circle cx="2105.5" cy="1225.1" r="12.5"/><circle cx="2106.7" cy="1110.5" r="12.5"/><circle cx="2108" cy="1154.5" r="12.5"/><circle cx="2109.2" cy="1137.4" r="12.5"/><circle cx="2110.4" cy="1114.2" r="12.5"/><circle cx="2111.6" cy="1189.1" r="12.5"/><circle cx="2112.8" cy="1183.1" r="12.5"/><circle cx="2114.1" cy="1155.9" r="12.5"/><circle cx="2115.3" cy="1199.2" r="12.5"/><circle cx="2116.5" cy="1130.9" r="12.5"/><circle cx="2117.7" cy="1118.8" r="12.5"/><circle cx="2119" cy="1156.3" r="12.5"/><circle cx="2120.2" cy="1284.5" r="12.5"/><circle cx="2121.4" cy="1188.2" r="12.5"/><circle cx="2122.6" cy="1190" r="12.5"/><circle cx="2123.8" cy="1151.2" r="12.5"/><circle cx="2125.1" cy="1194.3" r="12.5"/><circle cx="2126.3" cy="1102.5" r="12.5"/><circle cx="2127.5" cy="1198.7" r="12.5"/><circle cx="2128.7" cy="1194.5" r="12.5"/><circle cx="2130" cy="1104.9" r="12.5"/><circle cx="2131.2" cy="1117.6" r="12.5"/><circle cx="2132.4" cy="1166.6" r="12.5"/><circle cx="2133.6" cy="1131.1" r="12.5"/><circle cx="2134.8" cy="1140.4" r="12.5"/><circle cx="2136.1" cy="1120" r="12.5"/><circle cx="2137.3" cy="1190.1" r="12.5"/><circle cx="2138.5" cy="1181" r="12.5"/><circle cx="2139.7" cy="1167" r="12.5"/><circle cx="2141" cy="1157.9" r="12.5"/><circle cx="2142.2" cy="1143.3" r="12.5"/><circle cx="2143.4" cy="1188.9" r="12.5"/><circle cx="2144.6" cy="1156.7" r="12.5"/><circle cx="2145.8" cy="1198.7" r="12.5"/><circle cx="2147.1" cy="1129.3" r="12.5"/><circle cx="2148.3" cy="1174.7" r="12.5"/><circle cx="2149.5" cy="1158.1" r="12.5"/><circle cx="2150.7" cy="1184.6" r="12.5"/><circle cx="2152" cy="1213.6" r="12.5"/><circle cx="2153.2" cy="1153.5" r="12.5"/><circle cx="2154.4" cy="1182.4" r="12.5"/><circle cx="2155.6" cy="1132.2" r="12.5"/><circle cx="2156.8" cy="1185.1" r="12.5"/><circle cx="2158.1" cy="1134.5" r="12.5"/><circle cx="2159.3" cy="1170.3" r="12.5"/><circle cx="2160.5" cy="1137.8" r="12.5"/><circle cx="2161.7" cy="1165.7" r="12.5"/><circle cx="2163" cy="1192.8" r="12.5"/><circle cx="2164.2" cy="1111.5" r="12.5"/><circle cx="2165.4" cy="1136" r="12.5"/><circle cx="2166.6" cy="1149.1" r="12.5"/><circle cx="2167.8" cy="1148.7" r="12.5"/><circle cx="2169.1" cy="1148.5" r="12.5"/><circle cx="2170.3" cy="1170.9" r="12.5"/><circle cx="2171.5" cy="1124.5" r="12.5"/><circle cx="2172.7" cy="1137.6" r="12.5"/><circle cx="2174" cy="1113.8" r="12.5"/><circle cx="2175.2" cy="1226.6" r="12.5"/><circle cx="2176.4" cy="1125.9" r="12.5"/><circle cx="2177.6" cy="1143" r="12.5"/><circle cx="2178.8" cy="1134.3" r="12.5"/><circle cx="2180.1" cy="1133.3" r="12.5"/><circle cx="2181.3" cy="1175.1" r="12.5"/><circle cx="2182.5" cy="1108.8" r="12.5"/><circle cx="2183.7" cy="1123.9" r="12.5"/><circle cx="2185" cy="1168" r="12.5"/><circle cx="2186.2" cy="1201.4" r="12.5"/><circle cx="2187.4" cy="1122.1" r="12.5"/><circle cx="2188.6" cy="1119.8" r="12.5"/><circle cx="2189.8" cy="1163.2" r="12.5"/><circle cx="2191.1" cy="1147.5" r="12.5"/><circle cx="2192.3" cy="1181.9" r="12.5"/><circle cx="2193.5" cy="1176.4" r="12.5"/><circle cx="2194.7" cy="1149.9" r="12.5"/><circle cx="2196" cy="1163.5" r="12.5"/><circle cx="2197.2" cy="1127.2" r="12.5"/><circle cx="2198.4" cy="1132.1" r="12.5"/><circle cx="2199.6" cy="1102.5" r="12.5"/><circle cx="2200.8" cy="1255.7" r="12.5"/><circle cx="2202.1" cy="1199.6" r="12.5"/><circle cx="2203.3" cy="1142.7" r="12.5"/><circle cx="2204.5" cy="1135.1" r="12.5"/><circle cx="2205.7" cy="1216.7" r="12.5"/><circle cx="2207" cy="1168.5" r="12.5"/><circle cx="2208.2" cy="1142.4" r="12.5"/><circle cx="2209.4" cy="1171.2" r="12.5"/><circle cx="2210.6" cy="1150.4" r="12.5"/><circle cx="2211.8" cy="1137.7" r="12.5"/><circle cx="2213.1" cy="1112.9" r="12.5"/><circle cx="2214.3" cy="1124" r="12.5"/><circle cx="2215.5" cy="1118.4" r="12.5"/><circle cx="2216.7" cy="1198.9" r="12.5"/><circle cx="2218" cy="1110.9" r="12.5"/><circle cx="2219.2" cy="1157.8" r="12.5"/><circle cx="2220.4" cy="1176.5" r="12.5"/><circle cx="2221.6" cy="1132.4" r="12.5"/><circle cx="2222.8" cy="1150.8" r="12.5"/><circle cx="2224.1" cy="1184.3" r="12.5"/><circle cx="2225.3" cy="1139.6" r="12.5"/><circle cx="2226.5" cy="1102.4" r="12.5"/><circle cx="2227.7" cy="1168.8" r="12.5"/><circle cx="2229" cy="1137.9" r="12.5"/><circle cx="2230.2" cy="1224" r="12.5"/><circle cx="2231.4" cy="1144" r="12.5"/><circle cx="2232.6" cy="1165.3" r="12.5"/><circle cx="2233.8" cy="1207.4" r="12.5"/><circle cx="2235.1" cy="1151.5" r="12.5"/><circle cx="2236.3" cy="1125.9" r="12.5"/><circle cx="2237.5" cy="1117.4" r="12.5"/><circle cx="2238.7" cy="1162.3" r="12.5"/><circle cx="2240" cy="1206.8" r="12.5"/><circle cx="2241.2" cy="1128.3" r="12.5"/><circle cx="2242.4" cy="1120.1" r="12.5"/><circle cx="2243.6" cy="1172.1" r="12.5"/><circle cx="2244.8" cy="1193.1" r="12.5"/><circle cx="2246.1" cy="1110.8" r="12.5"/><circle cx="2247.3" cy="1134.9" r="12.5"/><circle cx="2248.5" cy="1138.5" r="12.5"/><circle cx="2249.7" cy="1145.9" r="12.5"/><circle cx="2251" cy="1202" r="12.5"/><circle cx="2252.2" cy="1181.9" r="12.5"/><circle cx="2253.4" cy="1192.5" r="12.5"/><circle cx="2254.6" cy="1272.3" r="12.5"/><circle cx="2255.8" cy="1141.4" r="12.5"/><circle cx="2257.1" cy="1206.5" r="12.5"/><circle cx="2258.3" cy="1190.5" r="12.5"/><circle cx="2259.5" cy="1122.7" r="12.5"/><circle cx="2260.7" cy="1147" r="12.5"/><circle cx="2262" cy="1191.2" r="12.5"/><circle cx="2263.2" cy="1188.6" r="12.5"/><circle cx="2264.4" cy="1143.8" r="12.5"/><circle cx="2265.6" cy="1128.3" r="12.5"/><circle cx="2266.8" cy="1152" r="12.5"/><circle cx="2268.1" cy="1177" r="12.5"/><circle cx="2269.3" cy="1121.1" r="12.5"/><circle cx="2270.5" cy="1181.7" r="12.5"/><circle cx="2271.7" cy="1198.8" r="12.5"/><circle cx="2273" cy="1110.3" r="12.5"/><circle cx="2274.2" cy="1157.1" r="12.5"/><circle cx="2275.4" cy="1127.9" r="12.5"/><circle cx="2276.6" cy="1148" r="12.5"/><circle cx="2277.8" cy="1173" r="12.5"/><circle cx="2279.1" cy="1171.6" r="12.5"/><circle cx="2280.3" cy="1165.1" r="12.5"/><circle cx="2281.5" cy="1166.1" r="12.5"/><circle cx="2282.7" cy="1129.2" r="12.5"/><circle cx="2284" cy="1118.7" r="12.5"/><circle cx="2285.2" cy="1162.2" r="12.5"/><circle cx="2286.4" cy="1123.6" r="12.5"/><circle cx="2287.6" cy="1201.5" r="12.5"/><circle cx="2288.8" cy="1154.6" r="12.5"/><circle cx="2290.1" cy="1108.6" r="12.5"/><circle cx="2291.3" cy="1161" r="12.5"/><circle cx="2292.5" cy="1279.1" r="12.5"/><circle cx="2293.7" cy="1174.3" r="12.5"/><circle cx="2295" cy="1144.9" r="12.5"/><circle cx="2296.2" cy="1136.2" r="12.5"/><circle cx="2297.4" cy="1167.8" r="12.5"/><circle cx="2298.6" cy="1158.5" r="12.5"/><circle cx="2299.8" cy="1157.8" r="12.5"/><circle cx="2301.1" cy="1151.5" r="12.5"/><circle cx="2302.3" cy="1179.2" r="12.5"/><circle cx="2303.5" cy="1128.7" r="12.5"/><circle cx="2304.7" cy="1120.2" r="12.5"/><circle cx="2306" cy="1157.2" r="12.5"/><circle cx="2307.2" cy="1161.5" r="12.5"/><circle cx="2308.4" cy="1195.4" r="12.5"/><circle cx="2309.6" cy="1075.7" r="12.5"/><circle cx="2310.8" cy="1149.3" r="12.5"/><circle cx="2312.1" cy="1172.9" r="12.5"/><circle cx="2313.3" cy="1193.5" r="12.5"/><circle cx="2314.5" cy="1154.9" r="12.5"/><circle cx="2315.7" cy="1094.3" r="12.5"/><circle cx="2317" cy="1212.4" r="12.5"/><circle cx="2318.2" cy="1201.1" r="12.5"/><circle cx="2319.4" cy="1141.8" r="12.5"/><circle cx="2320.6" cy="1159.2" r="12.5"/><circle cx="2321.8" cy="1153.4" r="12.5"/><circle cx="2323.1" cy="1105.5" r="12.5"/><circle cx="2324.3" cy="1138" r="12.5"/><circle cx="2325.5" cy="1234.2" r="12.5"/><circle cx="2326.7" cy="1170.6" r="12.5"/><circle cx="2328" cy="1175.4" r="12.5"/><circle cx="2329.2" cy="1361.2" r="12.5"/><circle cx="2330.4" cy="1159" r="12.5"/><circle cx="2331.6" cy="1103.6" r="12.5"/><circle cx="2332.8" cy="1171.1" r="12.5"/><circle cx="2334.1" cy="1125.3" r="12.5"/><circle cx="2335.3" cy="1159.5" r="12.5"/><circle cx="2336.5" cy="1198" r="12.5"/><circle cx="2337.7" cy="1191" r="12.5"/><circle cx="2339" cy="1152" r="12.5"/><circle cx="2340.2" cy="1152.9" r="12.5"/><circle cx="2341.4" cy="1246.6" r="12.5"/><circle cx="2342.6" cy="1130.9" r="12.5"/><circle cx="2343.8" cy="1124.9" r="12.5"/><circle cx="2345.1" cy="1128" r="12.5"/><circle cx="2346.3" cy="1169" r="12.5"/><circle cx="2347.5" cy="1264.6" r="12.5"/><circle cx="2348.7" cy="1106.4" r="12.5"/><circle cx="2350" cy="1151.5" r="12.5"/><circle cx="2351.2" cy="1154.5" r="12.5"/><circle cx="2352.4" cy="1147.5" r="12.5"/><circle cx="2353.6" cy="1148.9" r="12.5"/><circle cx="2354.8" cy="1143.4" r="12.5"/><circle cx="2356.1" cy="1074.6" r="12.5"/><circle cx="2357.3" cy="1196.8" r="12.5"/><circle cx="2358.5" cy="1121.2" r="12.5"/><circle cx="2359.7" cy="1288.4" r="12.5"/><circle cx="2361" cy="1225.4" r="12.5"/><circle cx="2362.2" cy="1145.1" r="12.5"/><circle cx="2363.4" cy="1120" r="12.5"/><circle cx="2364.6" cy="1173.2" r="12.5"/><circle cx="2365.8" cy="1125.7" r="12.5"/><circle cx="2367.1" cy="1186.3" r="12.5"/><circle cx="2368.3" cy="1129.6" r="12.5"/><circle cx="2369.5" cy="1297.2" r="12.5"/><circle cx="2370.7" cy="1168.1" r="12.5"/><circle cx="2372" cy="1160.1" r="12.5"/><circle cx="2373.2" cy="1206.2" r="12.5"/><circle cx="2374.4" cy="1176.5" r="12.5"/><circle cx="2375.6" cy="1256.5" r="12.5"/><circle cx="2376.8" cy="1227.3" r="12.5"/><circle cx="2378.1" cy="1162.4" r="12.5"/><circle cx="2379.3" cy="1127.5" r="12.5"/><circle cx="2380.5" cy="1093.1" r="12.5"/><circle cx="2381.7" cy="1218.4" r="12.5"/><circle cx="2383" cy="1251" r="12.5"/><circle cx="2384.2" cy="1304.2" r="12.5"/><circle cx="2385.4" cy="1151.6" r="12.5"/><circle cx="2386.6" cy="1173.7" r="12.5"/><circle cx="2387.8" cy="1139.9" r="12.5"/><circle cx="2389.1" cy="1163.1" r="12.5"/><circle cx="2390.3" cy="1177.5" r="12.5"/><circle cx="2391.5" cy="1197.2" r="12.5"/><circle cx="2392.7" cy="1180.8" r="12.5"/><circle cx="2394" cy="1114.4" r="12.5"/><circle cx="2395.2" cy="1143.1" r="12.5"/><circle cx="2396.4" cy="1221.9" r="12.5"/><circle cx="2397.6" cy="1143.5" r="12.5"/><circle cx="2398.8" cy="1193.8" r="12.5"/><circle cx="2400.1" cy="1123.1" r="12.5"/><circle cx="2401.3" cy="1152.2" r="12.5"/><circle cx="2402.5" cy="1131.8" r="12.5"/><circle cx="2403.7" cy="1121.2" r="12.5"/><circle cx="2405" cy="1171.9" r="12.5"/><circle cx="2406.2" cy="1167.4" r="12.5"/><circle cx="2407.4" cy="1146.6" r="12.5"/><circle cx="2408.6" cy="1125.6" r="12.5"/><circle cx="2409.8" cy="1084.3" r="12.5"/><circle cx="2411.1" cy="1139.3" r="12.5"/><circle cx="2412.3" cy="1144.8" r="12.5"/><circle cx="2413.5" cy="1225.8" r="12.5"/><circle cx="2414.7" cy="1134.4" r="12.5"/><circle cx="2416" cy="1202.8" r="12.5"/><circle cx="2417.2" cy="1161.3" r="12.5"/><circle cx="2418.4" cy="1198.7" r="12.5"/><circle cx="2419.6" cy="1170.9" r="12.5"/><circle cx="2420.8" cy="1168" r="12.5"/><circle cx="2422.1" cy="1128.6" r="12.5"/><circle cx="2423.3" cy="1148.7" r="12.5"/><circle cx="2424.5" cy="1172.3" r="12.5"/><circle cx="2425.7" cy="1172.5" r="12.5"/><circle cx="2427" cy="1235.5" r="12.5"/><circle cx="2428.2" cy="1176.8" r="12.5"/><circle cx="2429.4" cy="1184.8" r="12.5"/><circle cx="2430.6" cy="1191.2" r="12.5"/><circle cx="2431.8" cy="1189.2" r="12.5"/><circle cx="2433.1" cy="1137" r="12.5"/><circle cx="2434.3" cy="1174.3" r="12.5"/><circle cx="2435.5" cy="1123.5" r="12.5"/><circle cx="2436.7" cy="1161.3" r="12.5"/><circle cx="2438" cy="1182.2" r="12.5"/><circle cx="2439.2" cy="1157.6" r="12.5"/><circle cx="2440.4" cy="1213.7" r="12.5"/><circle cx="2441.6" cy="1145.3" r="12.5"/><circle cx="2442.8" cy="1127.2" r="12.5"/><circle cx="2444.1" cy="1135.7" r="12.5"/><circle cx="2445.3" cy="1131.1" r="12.5"/><circle cx="2446.5" cy="1177.8" r="12.5"/><circle cx="2447.7" cy="1178.8" r="12.5"/><circle cx="2449" cy="1132" r="12.5"/><circle cx="2450.2" cy="1135.1" r="12.5"/><circle cx="2451.4" cy="1177.5" r="12.5"/><circle cx="2452.6" cy="1136.2" r="12.5"/><circle cx="2453.8" cy="1177.9" r="12.5"/><circle cx="2455.1" cy="1149.1" r="12.5"/><circle cx="2456.3" cy="1151.1" r="12.5"/><circle cx="2457.5" cy="1132.2" r="12.5"/><circle cx="2458.7" cy="1189.2" r="12.5"/><circle cx="2460" cy="1209.3" r="12.5"/><circle cx="2461.2" cy="1126.3" r="12.5"/><circle cx="2462.4" cy="1235" r="12.5"/><circle cx="2463.6" cy="1251.4" r="12.5"/><circle cx="2464.8" cy="1135.8" r="12.5"/><circle cx="2466.1" cy="1139.8" r="12.5"/><circle cx="2467.3" cy="1159.6" r="12.5"/><circle cx="2468.5" cy="1136.7" r="12.5"/><circle cx="2469.7" cy="1267.7" r="12.5"/><circle cx="2471" cy="1133.8" r="12.5"/><circle cx="2472.2" cy="1155.1" r="12.5"/><circle cx="2473.4" cy="1126.7" r="12.5"/><circle cx="2474.6" cy="1142" r="12.5"/><circle cx="2475.8" cy="1141.9" r="12.5"/><circle cx="2477.1" cy="1149.7" r="12.5"/><circle cx="2478.3" cy="1138.7" r="12.5"/><circle cx="2479.5" cy="1140.9" r="12.5"/><circle cx="2480.7" cy="1140.7" r="12.5"/><circle cx="2482" cy="1138.7" r="12.5"/><circle cx="2483.2" cy="1144" r="12.5"/><circle cx="2484.4" cy="1130.7" r="12.5"/><circle cx="2485.6" cy="1170.2" r="12.5"/><circle cx="2486.8" cy="1162.2" r="12.5"/><circle cx="2488.1" cy="1101.9" r="12.5"/><circle cx="2489.3" cy="1186.8" r="12.5"/><circle cx="2490.5" cy="1168.7" r="12.5"/><circle cx="2491.7" cy="1094.3" r="12.5"/><circle cx="2493" cy="1205.7" r="12.5"/><circle cx="2494.2" cy="1249.8" r="12.5"/><circle cx="2495.4" cy="1234.3" r="12.5"/><circle cx="2496.6" cy="1161.2" r="12.5"/><circle cx="2497.8" cy="1170.5" r="12.5"/><circle cx="2499.1" cy="1143.5" r="12.5"/><circle cx="2500.3" cy="1114.2" r="12.5"/><circle cx="2501.5" cy="1127.8" r="12.5"/><circle cx="2502.7" cy="1184.4" r="12.5"/><circle cx="2504" cy="1170" r="12.5"/><circle cx="2505.2" cy="1154.6" r="12.5"/><circle cx="2506.4" cy="1151.5" r="12.5"/><circle cx="2507.6" cy="1145.3" r="12.5"/><circle cx="2508.8" cy="1062.8" r="12.5"/><circle cx="2510.1" cy="1097.6" r="12.5"/><circle cx="2511.3" cy="1198.6" r="12.5"/><circle cx="2512.5" cy="1200.7" r="12.5"/><circle cx="2513.7" cy="1158.5" r="12.5"/><circle cx="2515" cy="1160" r="12.5"/><circle cx="2516.2" cy="1128.5" r="12.5"/><circle cx="2517.4" cy="1189.2" r="12.5"/><circle cx="2518.6" cy="1105" r="12.5"/><circle cx="2519.8" cy="1124.3" r="12.5"/><circle cx="2521.1" cy="1212.3" r="12.5"/><circle cx="2522.3" cy="1097.8" r="12.5"/><circle cx="2523.5" cy="1200.9" r="12.5"/><circle cx="2524.7" cy="1134.4" r="12.5"/><circle cx="2526" cy="1139.6" r="12.5"/><circle cx="2527.2" cy="1184" r="12.5"/><circle cx="2528.4" cy="1213.9" r="12.5"/><circle cx="2529.6" cy="1143.9" r="12.5"/><circle cx="2530.8" cy="1176.1" r="12.5"/><circle cx="2532.1" cy="1140.2" r="12.5"/><circle cx="2533.3" cy="1180" r="12.5"/><circle cx="2534.5" cy="1210.3" r="12.5"/><circle cx="2535.7" cy="1227.1" r="12.5"/><circle cx="2537" cy="1257.8" r="12.5"/><circle cx="2538.2" cy="1184.2" r="12.5"/><circle cx="2539.4" cy="1154.8" r="12.5"/><circle cx="2540.6" cy="1186.4" r="12.5"/><circle cx="2541.8" cy="1160.1" r="12.5"/><circle cx="2543.1" cy="1248.8" r="12.5"/><circle cx="2544.3" cy="1144.8" r="12.5"/><circle cx="2545.5" cy="1175.1" r="12.5"/><circle cx="2546.7" cy="1104.2" r="12.5"/><circle cx="2548" cy="1103.7" r="12.5"/><circle cx="2549.2" cy="1166" r="12.5"/><circle cx="2550.4" cy="1308.4" r="12.5"/><circle cx="2551.6" cy="1066.1" r="12.5"/><circle cx="2552.8" cy="1155.4" r="12.5"/><circle cx="2554.1" cy="1176.9" r="12.5"/><circle cx="2555.3" cy="1142.9" r="12.5"/><circle cx="2556.5" cy="1142.7" r="12.5"/><circle cx="2557.7" cy="1192" r="12.5"/><circle cx="2559" cy="1154.7" r="12.5"/><circle cx="2560.2" cy="1160.5" r="12.5"/><circle cx="2561.4" cy="1125.9" r="12.5"/><circle cx="2562.6" cy="1154.3" r="12.5"/><circle cx="2563.8" cy="1094" r="12.5"/><circle cx="2565.1" cy="1116.1" r="12.5"/><circle cx="2566.3" cy="1128" r="12.5"/><circle cx="2567.5" cy="1105" r="12.5"/><circle cx="2568.7" cy="1148.7" r="12.5"/><circle cx="2570" cy="1104.4" r="12.5"/><circle cx="2571.2" cy="1157.1" r="12.5"/><circle cx="2572.4" cy="1263.8" r="12.5"/><circle cx="2573.6" cy="1123.8" r="12.5"/><circle cx="2574.8" cy="1134.6" r="12.5"/><circle cx="2576.1" cy="1133.2" r="12.5"/><circle cx="2577.3" cy="1137.5" r="12.5"/><circle cx="2578.5" cy="1167.8" r="12.5"/><circle cx="2579.7" cy="1171.9" r="12.5"/><circle cx="2581" cy="1155.2" r="12.5"/><circle cx="2582.2" cy="1164" r="12.5"/><circle cx="2583.4" cy="1160.6" r="12.5"/><circle cx="2584.6" cy="1190.1" r="12.5"/><circle cx="2585.8" cy="1143.4" r="12.5"/><circle cx="2587.1" cy="1152.5" r="12.5"/><circle cx="2588.3" cy="1135.3" r="12.5"/><circle cx="2589.5" cy="1129.6" r="12.5"/><circle cx="2590.7" cy="1222.4" r="12.5"/><circle cx="2592" cy="1127" r="12.5"/><circle cx="2593.2" cy="1166.3" r="12.5"/><circle cx="2594.4" cy="1163.5" r="12.5"/><circle cx="2595.6" cy="1157.2" r="12.5"/><circle cx="2596.8" cy="1093.3" r="12.5"/><circle cx="2598.1" cy="1160.1" r="12.5"/><circle cx="2599.3" cy="1114.1" r="12.5"/><circle cx="2600.5" cy="1346.3" r="12.5"/><circle cx="2601.7" cy="1260.4" r="12.5"/><circle cx="2603" cy="1186" r="12.5"/><circle cx="2604.2" cy="1155.5" r="12.5"/><circle cx="2605.4" cy="1185.8" r="12.5"/><circle cx="2606.6" cy="1145.3" r="12.5"/><circle cx="2607.8" cy="1218.8" r="12.5"/><circle cx="2609.1" cy="1194.5" r="12.5"/><circle cx="2610.3" cy="1144.3" r="12.5"/><circle cx="2611.5" cy="1158.3" r="12.5"/><circle cx="2612.7" cy="1062.2" r="12.5"/><circle cx="2614" cy="1176.1" r="12.5"/><circle cx="2615.2" cy="1151.8" r="12.5"/><circle cx="2616.4" cy="1199.5" r="12.5"/><circle cx="2617.6" cy="1177.3" r="12.5"/><circle cx="2618.8" cy="1150.4" r="12.5"/><circle cx="2620.1" cy="1310.2" r="12.5"/><circle cx="2621.3" cy="1133.5" r="12.5"/><circle cx="2622.5" cy="1167" r="12.5"/><circle cx="2623.7" cy="1131.7" r="12.5"/><circle cx="2625" cy="1205.3" r="12.5"/><circle cx="2626.2" cy="1128.1" r="12.5"/><circle cx="2627.4" cy="1130.5" r="12.5"/><circle cx="2628.6" cy="1151.9" r="12.5"/><circle cx="2629.8" cy="1120.4" r="12.5"/><circle cx="2631.1" cy="1111.2" r="12.5"/><circle cx="2632.3" cy="1136.2" r="12.5"/><circle cx="2633.5" cy="1146.7" r="12.5"/><circle cx="2634.7" cy="1121" r="12.5"/><circle cx="2636" cy="1153.7" r="12.5"/><circle cx="2637.2" cy="1146.6" r="12.5"/><circle cx="2638.4" cy="1154.7" r="12.5"/><circle cx="2639.6" cy="1171.5" r="12.5"/><circle cx="2640.8" cy="1090.8" r="12.5"/><circle cx="2642.1" cy="1125.9" r="12.5"/><circle cx="2643.3" cy="1180.2" r="12.5"/><circle cx="2644.5" cy="1153" r="12.5"/><circle cx="2645.7" cy="1169.8" r="12.5"/><circle cx="2647" cy="1162.1" r="12.5"/><circle cx="2648.2" cy="1078" r="12.5"/><circle cx="2649.4" cy="1140.1" r="12.5"/></g>
<path d="M234 1197.3 237.6 1183.4 241.1 1164.2 244.7 1152.8 248.2 1147.6 251.4 1145.6 254.5 1149.9 257.7 1152.4 260.8 1161.2 264 1178.6 267.2 1187.9 270 1172.2 272.8 1154.2 275.7 1141.8 278.5 1132.5 281.4 1116.8 284.5 1137.9 287.7 1145.4 290.8 1157.1 293.8 1148.6 296.8 1147.4 299.7 1148.6 302.7 1145.2 305.5 1142.9 308.4 1142.7 311.2 1148.4 314 1135.3 316.9 1138.1 319.7 1140.8 322.6 1151 325.4 1157.9 328.2 1165.2 331.1 1171.3 334 1169.5 337 1161.5 340 1160.9 342.9 1152.4 345.9 1146.9 348.8 1141.8 351.8 1127.8 354.8 1128.7 357.5 1133.8 360.3 1144.3 363.1 1157 365.8 1160.7 368.6 1168.2 371.3 1180.8 374.5 1167.4 377.7 1166.6 380.8 1150 383.7 1158.3 386.5 1179.1 389.3 1192.6 392.2 1212.1 395 1221 397.9 1208.4 400.7 1189.3 403.5 1178.7 406.4 1165.3 409.2 1145.2 412.2 1142 415.2 1135.2 418.1 1135.2 421.1 1138.1 423.9 1148.7 426.8 1155 429.6 1169.8 432.4 1184.1 435.3 1190.2 438.1 1180.1 441 1176.8 443.8 1157 446.6 1141.9 449.5 1135.8 452.2 1142.4 455 1151.3 457.8 1148.2 460.5 1161.2 463.3 1171.7 466.1 1171.3 469 1165.6 472 1165.2 474.9 1146 477.9 1145.2 480.7 1147.9 483.6 1139.7 486.4 1139.9 489.3 1141.4 492.1 1147.6 494.8 1150.7 497.4 1146.9 500.1 1150.2 502.8 1140.7 505.4 1136.6 508.1 1145.5 510.8 1138.6 513.4 1140.5 516.2 1137.3 518.9 1148.9 521.7 1152.7 524.5 1148.5 527.2 1154.8 530 1157.1 532.7 1162.5 535.4 1160.1 538.1 1164 540.8 1171.6 543.5 1180.3 546.2 1173.6 548.9 1180.8 551.6 1178.8 554.3 1172.9 556.9 1166.4 559.6 1159.9 562.3 1152.4 564.9 1153.2 567.6 1145.1 570.3 1140.5 573 1131.5 575.7 1143.2 578.4 1139.5 581.1 1142.7 583.8 1151.8 586.5 1145.9 589.2 1145.2 591.8 1140 594.4 1149.3 597 1149.3 599.6 1160.6 602.2 1146.5 604.8 1164.5 607.4 1165.3 610 1166.6 612.6 1172.5 615.2 1173.7 618.2 1176.6 621.2 1158.1 624.1 1159.3 627.1 1157.1 629.9 1159.4 632.8 1162 635.6 1163.3 638.5 1168.5 641.3 1168.9 644.1 1163 647 1154.1 649.8 1141.8 652.7 1145.2 655.5 1135.8 658.3 1155 661.2 1167.2 664 1177.5 666.9 1193.8 669.7 1202.1 672.6 1184.7 675.4 1181.9 678.2 1168.3 681.1 1154.8 683.9 1142.9 686.7 1148.6 689.4 1144.1 692.2 1144.1 695 1142.4 697.7 1139.9 700.5 1147.6 704 1159.2 707.6 1173.7 710.4 1173.8 713.3 1167.2 716.1 1150.3 719 1146.3 721.8 1138.1 724.6 1149.3 727.3 1143.9 730.1 1150.9 732.9 1151.9 735.6 1168.6 738.4 1166.6 741 1162 743.6 1160.7 746.3 1159.7 748.9 1154 751.5 1165.3 754.2 1157.3 756.8 1158.8 759.4 1139.8 762.1 1145.2 764.9 1150.6 767.7 1148.8 770.6 1146.9 773.4 1153.6 776.3 1154.7 779.1 1158.3 782 1153.3 784.8 1143.2 787.6 1155.8 790.5 1138.1 793.2 1144.7 795.9 1138.2 798.6 1139.4 801.3 1141.6 804 1145.2 806.7 1144.8 809.4 1147.6 812.1 1148.9 814.7 1158.7 817.4 1155.5 820.1 1161.9 822.7 1162.1 825.4 1166.9 828.1 1176 830.7 1173.7 833.4 1167 836 1162.5 838.7 1151.5 841.3 1148.7 844 1135.8 846.8 1139.8 849.7 1147.9 852.5 1141.4 855.4 1154.4 858.2 1152.4 861 1158.8 863.9 1157.1 866.7 1161.8 869.6 1160.3 872.4 1171.3 875.4 1161.5 878.3 1153.8 881.3 1141.5 884.3 1133.4 887.2 1146 890.2 1140.8 893.1 1156.3 896.1 1164.2 899.3 1152.7 902.4 1148.5 905.6 1142.9 909.1 1150.5 912.7 1150 915.8 1163.1 919 1181.8 922.1 1187.9 925.1 1172.8 928.1 1157.3 931 1144.6 934 1131 937.1 1134.3 940.3 1145.4 943.5 1157.1 946.4 1157.9 949.4 1162.4 952.3 1155.2 955.3 1159.5 958.3 1152 961.2 1145.1 964.2 1141.6 967.1 1142.9 970.1 1149.9 973.1 1157.4 976 1165.6 979 1171.3 981.9 1166.2 984.9 1167.3 987.9 1151.9 990.8 1154.7 993.7 1154.7 996.5 1157.4 999.3 1153.5 1002.2 1156.5 1005 1154.7 1008.2 1157.8 1011.3 1161.2 1014.5 1166.6 1017.5 1155.5 1020.4 1140.4 1023.4 1131 1026.3 1119.2 1029.2 1128.8 1032 1129.1 1034.9 1143.4 1037.7 1152.5 1040.5 1154.7 1043.5 1155 1046.5 1140.6 1049.4 1139.9 1052.4 1128.7 1055.3 1122.6 1058.3 1125.7 1061.3 1132.6 1064.2 1133.4 1067.2 1138 1070.1 1147.5 1073.1 1156.1 1076.1 1168.9 1079 1172.5 1082 1175.8 1084.9 1179.4 1087.9 1187.9 1090.9 1179.5 1093.8 1169.2 1096.8 1163 1099.7 1154.7 1102.6 1150.8 1105.4 1146.5 1108.3 1138.3 1111.1 1132.2 1114 1128.7 1116.9 1135.9 1119.9 1142.1 1122.8 1157.2 1125.8 1164.2 1128.8 1155.7 1131.7 1151.8 1134.7 1140.5 1137.6 1131 1140.6 1138.5 1143.6 1153.4 1146.5 1158.3 1149.5 1168.9 1152.1 1163.6 1154.7 1160.8 1157.4 1154.9 1160 1145.9 1162.6 1146.7 1165.3 1140.5 1167.9 1133.8 1170.5 1128.1 1173.1 1123.9 1175.9 1133.7 1178.6 1135.6 1181.3 1155.5 1184 1149.3 1186.7 1163.9 1189.4 1172.8 1192.1 1185.5 1195.3 1179.1 1198.4 1169.8 1201.6 1161.8 1204.5 1170.8 1207.5 1172.3 1210.4 1189.5 1213.4 1192.6 1216.2 1188.9 1219.1 1170.1 1221.9 1171.9 1224.8 1156.4 1227.6 1157.1 1230.3 1152 1233 1153.7 1235.7 1148.9 1238.4 1140.9 1241.1 1140.9 1243.9 1144.9 1246.6 1138.1 1249.7 1143.3 1252.9 1150.2 1256 1152.4 1259.2 1136.8 1262.3 1136.8 1265.5 1126.3 1268.1 1131.4 1270.7 1131.4 1273.3 1145.2 1275.8 1144 1278.4 1152.2 1281 1151.3 1283.6 1159.3 1286.2 1164.4 1288.8 1166.4 1291.3 1171.8 1293.9 1176 1296.9 1169.4 1299.8 1160.1 1302.8 1147.9 1305.8 1145.2 1308.5 1149.6 1311.3 1151 1314 1155.6 1316.8 1154.6 1319.6 1166.8 1322.3 1164.2 1325.2 1165.3 1328 1164.7 1330.9 1164.3 1333.7 1158.5 1336.5 1152.4 1339.4 1150.7 1342.2 1146.4 1345.1 1155.3 1347.9 1151.5 1350.7 1150 1353.6 1157.5 1356.4 1163.6 1359.3 1162.1 1362.1 1163.4 1365 1171.3 1367.9 1169.3 1370.9 1162.5 1373.8 1157.4 1376.8 1157.1 1380 1167.2 1383.1 1173.5 1386.3 1183.1 1389.2 1175.6 1392.2 1160 1395.1 1154.3 1398.1 1145.2 1401 1149.9 1403.8 1156.5 1406.6 1159.9 1409.5 1170.5 1412.3 1173.7 1415.1 1162.5 1417.8 1164.3 1420.6 1161.3 1423.4 1151.5 1426.1 1146.3 1428.9 1140.5 1431.4 1142.7 1433.9 1151.9 1436.4 1157.8 1438.9 1162 1441.4 1168 1444 1173.8 1446.5 1177.8 1449 1175.1 1451.5 1183.1 1454 1192.6 1457.2 1179.5 1460.3 1175.6 1463.5 1154.7 1466.4 1154.7 1469.4 1146.3 1472.4 1141.5 1475.3 1138.1 1478.9 1148.3 1482.4 1161.8 1485.6 1157.7 1488.7 1148 1491.9 1142.9 1494.6 1148.8 1497.3 1151 1500 1158.5 1502.7 1162.1 1505.4 1168.6 1508.1 1176 1510.8 1183.1 1513.7 1181.5 1516.5 1172.1 1519.4 1168.7 1522.2 1156.7 1525 1152.4 1528.6 1161.7 1532.1 1168.9 1534.9 1162.6 1537.7 1160.3 1540.4 1156.5 1543.2 1146.9 1546 1149.3 1548.7 1145.2 1551.9 1139.9 1555 1145.5 1558.2 1142.9 1561.2 1149.3 1564.1 1154.6 1567.1 1164.9 1570 1178.4 1572.9 1169.3 1575.7 1172.4 1578.6 1156.5 1581.4 1154.1 1584.2 1150 1587.2 1152.3 1590.2 1152.8 1593.1 1155 1596.1 1157.1 1598.9 1166.7 1601.8 1168.5 1604.6 1184.9 1607.4 1190.6 1610.3 1192.6 1613 1184.2 1615.8 1179.5 1618.6 1165.7 1621.3 1154.6 1624.1 1142.6 1626.9 1138.1 1629.7 1143.6 1632.5 1156.3 1635.4 1163.5 1638.2 1176.3 1641.1 1178.4 1643.9 1178.1 1646.8 1169.4 1649.6 1160.3 1652.4 1160.4 1655.3 1147.6 1658.4 1143.4 1661.6 1130.5 1664.8 1135.8 1667.6 1141.3 1670.4 1150.7 1673.3 1157.7 1676.1 1164.4 1679 1168.9 1681.9 1167.7 1684.9 1150.7 1687.8 1165.1 1690.8 1152.4 1694 1159.9 1697.1 1163.6 1700.3 1168.9 1703.2 1154.4 1706.2 1157.8 1709.2 1143.6 1712.1 1140.5 1714.9 1135.2 1717.6 1147.4 1720.4 1149.5 1723.2 1149.3 1725.9 1148.7 1728.7 1154.7 1731.6 1162.1 1734.6 1166.6 1737.6 1173.6 1740.5 1178.4 1743.7 1173.5 1746.8 1159.8 1750 1159.5 1753 1157.4 1755.9 1147.3 1758.9 1150.3 1761.8 1145.2 1764.8 1151.2 1767.8 1158.4 1770.7 1174.3 1773.7 1176 1776.6 1171.3 1779.6 1165.8 1782.6 1162.8 1785.5 1154.7 1788.3 1158.8 1791 1135.7 1793.8 1144.6 1796.6 1138.9 1799.3 1139.1 1802.1 1131 1805.1 1137.5 1808 1143.7 1811 1152.7 1813.9 1157.1 1817.1 1149.7 1820.2 1139.4 1823.4 1135.8 1826.6 1147.6 1829.7 1166.5 1832.9 1171.3 1836 1159.3 1839.2 1133.9 1842.3 1128.7 1845.2 1142.3 1848 1153.2 1850.9 1174.8 1853.7 1181 1856.6 1199.7 1859.4 1190.3 1862.2 1183.6 1865.1 1175.8 1867.9 1161.2 1870.8 1154.7 1873.9 1162.8 1877.1 1177.6 1880.2 1176 1883 1169.4 1885.8 1168.2 1888.5 1160.8 1891.3 1159.5 1894.1 1158.2 1896.8 1152.4 1899.5 1152.2 1902.2 1154.2 1904.9 1146.3 1907.6 1151.5 1910.3 1149.4 1913.1 1139.1 1915.8 1150 1918.4 1154.3 1921 1150.4 1923.7 1147.7 1926.3 1154.1 1928.9 1152.1 1931.5 1140.8 1934.2 1151.8 1936.8 1159.4 1939.4 1150 1942.3 1147.9 1945.1 1146.7 1948 1133.5 1950.8 1130.7 1953.6 1133.4 1956.6 1136.1 1959.6 1154.2 1962.5 1161.9 1965.5 1166.6 1968.2 1150.8 1971 1158.3 1973.8 1140.6 1976.5 1137.3 1979.3 1136.6 1982.1 1131 1985 1137.2 1988 1148.6 1990.9 1158.5 1993.9 1166.6 1997.5 1158.1 2001 1140.5 2004 1146.3 2006.9 1153.2 2009.9 1160.7 2012.8 1171.3 2015.7 1175.6 2018.5 1165.5 2021.4 1160.5 2024.2 1152.8 2027.1 1145.2 2030.6 1161.7 2034.2 1176 2037.1 1171.7 2040.1 1155.7 2043 1139.9 2046 1135.8 2048.6 1137.6 2051.1 1162.1 2053.7 1156.1 2056.3 1165.6 2058.9 1175.8 2061.4 1188.8 2064 1192.6 2067 1177 2069.9 1169.3 2072.9 1160.4 2075.8 1147.6 2078.5 1145.2 2081.3 1153.3 2084 1160.1 2086.7 1159.4 2089.4 1161.5 2092.1 1165.9 2094.8 1166.6 2097.7 1162.8 2100.7 1157.7 2103.7 1153.8 2106.6 1152.4 2109.6 1164.6 2112.5 1163.5 2115.5 1174.1 2118.5 1187.9 2121.4 1185.1 2124.4 1180.8 2127.3 1170.5 2130.3 1164.2 2133.1 1164 2136 1164.3 2138.8 1176.4 2141.7 1178.1 2144.5 1180.8 2147.5 1176.1 2150.4 1170.4 2153.4 1158.6 2156.4 1157.1 2159.2 1163.8 2162 1176.3 2164.9 1185.9 2167.7 1190.1 2170.6 1206.8 2173.4 1189.7 2176.2 1182 2179.1 1176.5 2181.9 1168.7 2184.8 1147.6 2187.9 1163.3 2191.1 1176 2194.2 1192.6 2197.2 1181.6 2200.2 1168.9 2203.1 1153.3 2206.1 1145.2 2209.6 1148.4 2213.2 1178.4 2215.9 1171.7 2218.7 1161.3 2221.5 1156.5 2224.2 1145.7 2227 1141.2 2229.8 1135.8 2232.5 1141.6 2235.3 1141.1 2238 1149.2 2240.8 1160.1 2243.6 1166.2 2246.3 1168.9 2249 1159.4 2251.6 1167.7 2254.2 1167.6 2256.9 1162 2259.5 1160.1 2262.1 1156.7 2264.8 1155.6 2267.4 1150.1 2270 1150 2272.8 1158.2 2275.5 1156.1 2278.3 1153.5 2281.1 1164.6 2283.8 1169.3 2286.6 1168.9 2289.4 1165.3 2292.1 1154.6 2294.9 1155.9 2297.6 1136.7 2300.4 1149.9 2303.2 1138.1 2305.9 1143.8 2308.7 1137.9 2311.5 1140.3 2314.2 1161.7 2317 1156.7 2319.7 1159.5 2322.4 1158.4 2325.1 1164.8 2327.7 1164.6 2330.4 1166.8 2333.1 1170.9 2335.7 1172.9 2338.4 1169.5 2341.1 1176 2344 1177.6 2347 1177.9 2349.9 1173.7 2352.9 1178.4 2355.9 1174.4 2358.8 1165 2361.8 1151.1 2364.7 1147.6 2367.9 1164.1 2371 1168.6 2374.2 1176 2376.9 1177 2379.6 1164.1 2382.3 1160.8 2385 1158.9 2387.7 1151.7 2390.4 1148.7 2393.1 1145.2 2396.1 1148.3 2399.1 1171.1 2402 1173.9 2405 1180.8 2407.7 1182.2 2410.4 1180.2 2413.1 1169.3 2415.8 1173.8 2418.5 1152.7 2421.2 1156.8 2423.9 1154.7 2426.8 1152.9 2429.6 1155.4 2432.5 1151.4 2435.3 1160 2438.1 1157.1 2440.9 1162.1 2443.7 1152.3 2446.4 1151 2449.2 1137.2 2452 1140.1 2454.7 1140.5 2457.7 1153.2 2460.6 1160.1 2463.6 1175.3 2466.6 1185.5 2469.4 1178.1 2472.2 1175.4 2475.1 1162.7 2477.9 1164.7 2480.8 1157.1 2483.5 1165.1 2486.3 1164.5 2489.1 1172.6 2491.8 1166.1 2494.6 1172.4 2497.3 1171.3 2500.1 1160.5 2502.9 1164 2505.6 1156.7 2508.4 1148.1 2511.2 1148.2 2513.9 1138.1 2516.8 1136.8 2519.6 1143.7 2522.4 1149.3 2525.3 1147.4 2528.1 1154.7 2531 1147.9 2533.8 1153 2536.6 1144.8 2539.5 1139.2 2542.3 1140.5 2545.2 1142.4 2548 1145.7 2550.9 1148.8 2553.7 1157 2556.5 1159.5 2559.4 1152.3 2562.2 1147.8 2565.1 1151.1 2567.9 1147.7 2570.7 1145.2 2573.5 1156 2576.3 1151.7 2579 1160.6 2581.8 1172.9 2584.6 1176.1 2587.3 1180.8 2590 1173.6 2592.7 1167.9 2595.3 1169.1 2598 1161.5 2600.6 1153.6 2603.3 1150.4 2606 1145.8 2608.6 1142.9 2611.3 1153.8 2614 1147.4 2616.8 1162.7 2619.5 1177.2 2622.2 1173.1 2624.9 1186.1 2627.6 1195 2630.5 1188 2633.5 1169.3 2636.5 1162.3 2639.4 1154.7 2641.9 1152.7 2644.4 1158.6 2646.9 1157.1 2649.4 1161.8" fill="none" stroke="#AA3377" stroke-width="16.5" stroke-linejoin="round" stroke-linecap="round"/>
</g>
<g class="hi" fill="#4477AA"><rect x="2772.4" y="297.00" width="1.21" height="7.83"/><rect x="2772.4" y="312.66" width="2.42" height="7.83"/><rect x="2772.4" y="320.49" width="4.83" height="7.83"/><rect x="2772.4" y="328.32" width="19.32" height="7.83"/><rect x="2772.4" y="336.15" width="21.74" height="7.83"/><rect x="2772.4" y="343.98" width="48.31" height="7.83"/><rect x="2772.4" y="351.81" width="74.88" height="7.83"/><rect x="2772.4" y="359.64" width="108.70" height="7.83"/><rect x="2772.4" y="367.47" width="149.76" height="7.83"/><rect x="2772.4" y="375.30" width="184.79" height="7.83"/><rect x="2772.4" y="383.13" width="196.86" height="7.83"/><rect x="2772.4" y="390.96" width="242.76" height="7.83"/><rect x="2772.4" y="398.79" width="196.86" height="7.83"/><rect x="2772.4" y="406.62" width="187.20" height="7.83"/><rect x="2772.4" y="414.45" width="150.97" height="7.83"/><rect x="2772.4" y="422.28" width="126.81" height="7.83"/><rect x="2772.4" y="430.11" width="106.28" height="7.83"/><rect x="2772.4" y="437.94" width="93.00" height="7.83"/><rect x="2772.4" y="445.77" width="70.05" height="7.83"/><rect x="2772.4" y="453.60" width="54.35" height="7.83"/><rect x="2772.4" y="461.43" width="44.69" height="7.83"/><rect x="2772.4" y="469.26" width="25.36" height="7.83"/><rect x="2772.4" y="477.09" width="24.15" height="7.83"/><rect x="2772.4" y="484.92" width="21.74" height="7.83"/><rect x="2772.4" y="492.75" width="21.74" height="7.83"/><rect x="2772.4" y="500.58" width="13.29" height="7.83"/><rect x="2772.4" y="508.41" width="10.87" height="7.83"/><rect x="2772.4" y="516.24" width="9.66" height="7.83"/><rect x="2772.4" y="524.07" width="13.29" height="7.83"/><rect x="2772.4" y="531.90" width="9.66" height="7.83"/><rect x="2772.4" y="539.73" width="9.66" height="7.83"/><rect x="2772.4" y="547.56" width="10.87" height="7.83"/><rect x="2772.4" y="555.39" width="18.12" height="7.83"/><rect x="2772.4" y="563.22" width="19.32" height="7.83"/><rect x="2772.4" y="571.05" width="19.32" height="7.83"/><rect x="2772.4" y="578.88" width="16.91" height="7.83"/><rect x="2772.4" y="586.71" width="21.74" height="7.83"/><rect x="2772.4" y="594.54" width="16.91" height="7.83"/><rect x="2772.4" y="602.37" width="4.83" height="7.83"/><rect x="2772.4" y="610.20" width="10.87" height="7.83"/><rect x="2772.4" y="618.03" width="1.21" height="7.83"/><rect x="2772.4" y="625.86" width="1.21" height="7.83"/><rect x="2772.4" y="633.69" width="1.21" height="7.83"/></g>
<g class="hi" fill="#AA3377"><rect x="2772.4" y="1023.00" width="1.21" height="8.56"/><rect x="2772.4" y="1048.68" width="1.21" height="8.56"/><rect x="2772.4" y="1057.24" width="6.04" height="8.56"/><rect x="2772.4" y="1065.80" width="9.66" height="8.56"/><rect x="2772.4" y="1074.36" width="16.91" height="8.56"/><rect x="2772.4" y="1082.92" width="25.36" height="8.56"/><rect x="2772.4" y="1091.48" width="45.89" height="8.56"/><rect x="2772.4" y="1100.04" width="68.84" height="8.56"/><rect x="2772.4" y="1108.60" width="108.70" height="8.56"/><rect x="2772.4" y="1117.16" width="153.38" height="8.56"/><rect x="2772.4" y="1125.72" width="201.69" height="8.56"/><rect x="2772.4" y="1134.28" width="231.89" height="8.56"/><rect x="2772.4" y="1142.84" width="253.63" height="8.56"/><rect x="2772.4" y="1151.40" width="228.26" height="8.56"/><rect x="2772.4" y="1159.96" width="202.90" height="8.56"/><rect x="2772.4" y="1168.52" width="196.86" height="8.56"/><rect x="2772.4" y="1177.08" width="152.18" height="8.56"/><rect x="2772.4" y="1185.64" width="114.74" height="8.56"/><rect x="2772.4" y="1194.20" width="102.66" height="8.56"/><rect x="2772.4" y="1202.76" width="74.88" height="8.56"/><rect x="2772.4" y="1211.32" width="44.69" height="8.56"/><rect x="2772.4" y="1219.88" width="33.82" height="8.56"/><rect x="2772.4" y="1228.44" width="27.78" height="8.56"/><rect x="2772.4" y="1237.00" width="7.25" height="8.56"/><rect x="2772.4" y="1245.56" width="9.66" height="8.56"/><rect x="2772.4" y="1254.12" width="12.08" height="8.56"/><rect x="2772.4" y="1262.68" width="7.25" height="8.56"/><rect x="2772.4" y="1271.24" width="12.08" height="8.56"/><rect x="2772.4" y="1279.80" width="10.87" height="8.56"/><rect x="2772.4" y="1288.36" width="4.83" height="8.56"/><rect x="2772.4" y="1296.92" width="4.83" height="8.56"/><rect x="2772.4" y="1305.48" width="6.04" height="8.56"/><rect x="2772.4" y="1314.04" width="2.42" height="8.56"/><rect x="2772.4" y="1322.60" width="1.21" height="8.56"/><rect x="2772.4" y="1331.16" width="1.21" height="8.56"/><rect x="2772.4" y="1339.72" width="2.42" height="8.56"/><rect x="2772.4" y="1356.84" width="1.21" height="8.56"/><rect x="2772.4" y="1391.08" width="1.21" height="8.56"/></g>
<path d="M234.3 827.3v-32.0M234.3 223.3v32.0M330.9 827.3v-16.6M330.9 223.3v16.6M427.5 827.3v-16.6M427.5 223.3v16.6M524.1 827.3v-16.6M524.1 223.3v16.6M620.7 827.3v-16.6M620.7 223.3v16.6M717.3 827.3v-32.0M717.3 223.3v32.0M813.9 827.3v-16.6M813.9 223.3v16.6M910.5 827.3v-16.6M910.5 223.3v16.6M1007.1 827.3v-16.6M1007.1 223.3v16.6M1103.7 827.3v-16.6M1103.7 223.3v16.6M1200.3 827.3v-32.0M1200.3 223.3v32.0M1296.9 827.3v-16.6M1296.9 223.3v16.6M1393.5 827.3v-16.6M1393.5 223.3v16.6M1490.2 827.3v-16.6M1490.2 223.3v16.6M1586.8 827.3v-16.6M1586.8 223.3v16.6M1683.4 827.3v-32.0M1683.4 223.3v32.0M1780 827.3v-16.6M1780 223.3v16.6M1876.6 827.3v-16.6M1876.6 223.3v16.6M1973.2 827.3v-16.6M1973.2 223.3v16.6M2069.8 827.3v-16.6M2069.8 223.3v16.6M2166.4 827.3v-32.0M2166.4 223.3v32.0M2263 827.3v-16.6M2263 223.3v16.6M2359.6 827.3v-16.6M2359.6 223.3v16.6M2456.2 827.3v-16.6M2456.2 223.3v16.6M2552.8 827.3v-16.6M2552.8 223.3v16.6M2649.4 827.3v-32.0M2649.4 223.3v32.0M234.3 827.3h32.0M2649.4 827.3h-32.0M234.3 766.9h16.6M2649.4 766.9h-16.6M234.3 706.5h16.6M2649.4 706.5h-16.6M234.3 646.1h16.6M2649.4 646.1h-16.6M234.3 585.7h16.6M2649.4 585.7h-16.6M234.3 525.3h32.0M2649.4 525.3h-32.0M234.3 464.9h16.6M2649.4 464.9h-16.6M234.3 404.5h16.6M2649.4 404.5h-16.6M234.3 344.1h16.6M2649.4 344.1h-16.6M234.3 283.7h16.6M2649.4 283.7h-16.6M234.3 223.3h32.0M2649.4 223.3h-32.0M234.3 1551.4v-32.0M234.3 947.3v32.0M330.9 1551.4v-16.6M330.9 947.3v16.6M427.5 1551.4v-16.6M427.5 947.3v16.6M524.1 1551.4v-16.6M524.1 947.3v16.6M620.7 1551.4v-16.6M620.7 947.3v16.6M717.3 1551.4v-32.0M717.3 947.3v32.0M813.9 1551.4v-16.6M813.9 947.3v16.6M910.5 1551.4v-16.6M910.5 947.3v16.6M1007.1 1551.4v-16.6M1007.1 947.3v16.6M1103.7 1551.4v-16.6M1103.7 947.3v16.6M1200.3 1551.4v-32.0M1200.3 947.3v32.0M1296.9 1551.4v-16.6M1296.9 947.3v16.6M1393.5 1551.4v-16.6M1393.5 947.3v16.6M1490.2 1551.4v-16.6M1490.2 947.3v16.6M1586.8 1551.4v-16.6M1586.8 947.3v16.6M1683.4 1551.4v-32.0M1683.4 947.3v32.0M1780 1551.4v-16.6M1780 947.3v16.6M1876.6 1551.4v-16.6M1876.6 947.3v16.6M1973.2 1551.4v-16.6M1973.2 947.3v16.6M2069.8 1551.4v-16.6M2069.8 947.3v16.6M2166.4 1551.4v-32.0M2166.4 947.3v32.0M2263 1551.4v-16.6M2263 947.3v16.6M2359.6 1551.4v-16.6M2359.6 947.3v16.6M2456.2 1551.4v-16.6M2456.2 947.3v16.6M2552.8 1551.4v-16.6M2552.8 947.3v16.6M2649.4 1551.4v-32.0M2649.4 947.3v32.0M234.3 1551.4h32.0M2649.4 1551.4h-32.0M234.3 1430.6h16.6M2649.4 1430.6h-16.6M234.3 1309.8h16.6M2649.4 1309.8h-16.6M234.3 1188.9h16.6M2649.4 1188.9h-16.6M234.3 1068.1h16.6M2649.4 1068.1h-16.6M234.3 947.3h32.0M2649.4 947.3h-32.0M2772.4 827.3v-32.0M2772.4 223.3v32.0M2832.8 827.3v-16.6M2832.8 223.3v16.6M2893.2 827.3v-16.6M2893.2 223.3v16.6M2953.6 827.3v-16.6M2953.6 223.3v16.6M3013.9 827.3v-16.6M3013.9 223.3v16.6M3074.3 827.3v-32.0M3074.3 223.3v32.0M3134.7 827.3v-16.6M3134.7 223.3v16.6M3195.1 827.3v-16.6M3195.1 223.3v16.6M3255.5 827.3v-16.6M3255.5 223.3v16.6M2772.4 827.3h32.0M3255.5 827.3h-32.0M2772.4 766.9h16.6M3255.5 766.9h-16.6M2772.4 706.5h16.6M3255.5 706.5h-16.6M2772.4 646.1h16.6M3255.5 646.1h-16.6M2772.4 585.7h16.6M3255.5 585.7h-16.6M2772.4 525.3h32.0M3255.5 525.3h-32.0M2772.4 464.9h16.6M3255.5 464.9h-16.6M2772.4 404.5h16.6M3255.5 404.5h-16.6M2772.4 344.1h16.6M3255.5 344.1h-16.6M2772.4 283.7h16.6M3255.5 283.7h-16.6M2772.4 223.3h32.0M3255.5 223.3h-32.0M2772.4 1551.4v-32.0M2772.4 947.3v32.0M2832.8 1551.4v-16.6M2832.8 947.3v16.6M2893.2 1551.4v-16.6M2893.2 947.3v16.6M2953.6 1551.4v-16.6M2953.6 947.3v16.6M3013.9 1551.4v-16.6M3013.9 947.3v16.6M3074.3 1551.4v-32.0M3074.3 947.3v32.0M3134.7 1551.4v-16.6M3134.7 947.3v16.6M3195.1 1551.4v-16.6M3195.1 947.3v16.6M3255.5 1551.4v-16.6M3255.5 947.3v16.6M2772.4 1551.4h32.0M3255.5 1551.4h-32.0M2772.4 1430.6h16.6M3255.5 1430.6h-16.6M2772.4 1309.8h16.6M3255.5 1309.8h-16.6M2772.4 1188.9h16.6M3255.5 1188.9h-16.6M2772.4 1068.1h16.6M3255.5 1068.1h-16.6M2772.4 947.3h32.0M3255.5 947.3h-32.0" fill="none" stroke="#000" stroke-width="2.5"/>
<g fill="none" stroke="#000" stroke-width="3" stroke-linejoin="miter">
<rect x="234.3" y="223.3" width="2415.1" height="604.0"/><rect x="234.3" y="947.3" width="2415.1" height="604.1"/><rect x="2772.4" y="223.3" width="483.1" height="604.0"/><rect x="2772.4" y="947.3" width="483.1" height="604.1"/>
</g>
<rect x="1976.65" y="252.85" width="642.9" height="99.1" rx="10" fill="#fff" fill-opacity="0.8" stroke="#cccccc" stroke-width="3.3"/>
<rect x="1986.45" y="976.65" width="633.1" height="98.9" rx="10" fill="#fff" fill-opacity="0.8" stroke="#cccccc" stroke-width="3.3"/>
<path d="M1990.8 297.25H2124.7" stroke="#4477AA" stroke-width="16.5"/>
<path d="M2001.6 1021.3H2135" stroke="#AA3377" stroke-width="16.5"/>
<g font-family="Liberation Sans" font-weight="bold" fill="#000" opacity="0.999">
<text transform="translate(1652.1 110) scale(0.644 1)" font-size="104" text-anchor="middle">Electrostatic Dipolar Moment</text><text transform="translate(1439.6 1735) scale(0.642 1)" font-size="104" text-anchor="middle">Time (ns)</text><text transform="translate(3014.2 1734.2) scale(0.6085 1)" font-size="104" text-anchor="middle">Counts</text><text transform="translate(139.1 900.9) rotate(-90) scale(0.636 1)" font-size="104" text-anchor="middle">EDM components (e nm)</text><text transform="translate(234.4 1626.5) scale(0.64 1)" font-size="86" text-anchor="middle">0</text><text transform="translate(717.2 1626.5) scale(0.64 1)" font-size="86" text-anchor="middle">1000</text><text transform="translate(1199.9 1626.5) scale(0.64 1)" font-size="86" text-anchor="middle">2000</text><text transform="translate(1683.2 1626.5) scale(0.64 1)" font-size="86" text-anchor="middle">3000</text><text transform="translate(2166.2 1626.5) scale(0.64 1)" font-size="86" text-anchor="middle">4000</text><text transform="translate(2649.2 1626.5) scale(0.64 1)" font-size="86" text-anchor="middle">5000</text><text transform="translate(2772.7 1626.5) scale(0.64 1)" font-size="86" text-anchor="middle">0</text><text transform="translate(3074.5 1626.5) scale(0.64 1)" font-size="86" text-anchor="middle">250</text><text transform="translate(202.5 245) scale(0.64 1)" font-size="86" text-anchor="middle">2</text><text transform="translate(199.7 546.9) scale(0.64 1)" font-size="86" text-anchor="middle">1</text><text transform="translate(202.5 847.3) scale(0.64 1)" font-size="86" text-anchor="middle">0</text><text transform="translate(199.7 969.2) scale(0.64 1)" font-size="86" text-anchor="middle">1</text><text transform="translate(202.5 1571.5) scale(0.64 1)" font-size="86" text-anchor="middle">0</text><text transform="translate(2380.4 318.3) scale(0.636 1)" font-size="58.7" text-anchor="middle">Longitudinal component</text><text transform="translate(2385.05 1041) scale(0.644 1)" font-size="58.7" text-anchor="middle">Transversal component</text>
</g>
</svg>
</body></html>
